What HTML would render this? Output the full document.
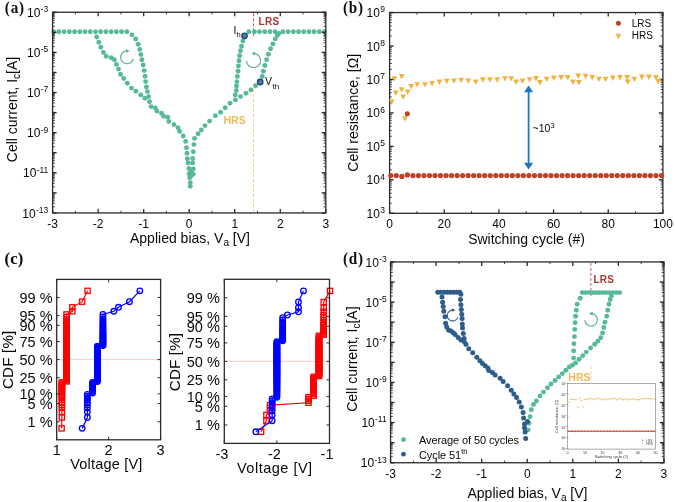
<!DOCTYPE html>
<html><head><meta charset="utf-8"><style>
html,body{margin:0;padding:0;background:#fff;}
svg{display:block;filter:blur(0.35px);}
</style></head><body>
<svg width="675" height="502" viewBox="0 0 675 502">
<rect width="675" height="502" fill="#ffffff"/>
<line x1="253.50" y1="13.25" x2="253.50" y2="36.00" stroke="#c0504d" stroke-width="0.9" stroke-dasharray="3,2"/>
<line x1="253.50" y1="84.00" x2="253.50" y2="211.95" stroke="#f3c88a" stroke-width="0.85" stroke-dasharray="3,2"/>
<circle cx="53.70" cy="31.70" r="2.45" fill="#57b998"/>
<circle cx="58.92" cy="31.70" r="2.45" fill="#57b998"/>
<circle cx="64.14" cy="31.70" r="2.45" fill="#57b998"/>
<circle cx="69.36" cy="31.70" r="2.45" fill="#57b998"/>
<circle cx="74.58" cy="31.70" r="2.45" fill="#57b998"/>
<circle cx="79.80" cy="31.70" r="2.45" fill="#57b998"/>
<circle cx="85.02" cy="31.70" r="2.45" fill="#57b998"/>
<circle cx="90.24" cy="31.70" r="2.45" fill="#57b998"/>
<circle cx="95.46" cy="31.70" r="2.45" fill="#57b998"/>
<circle cx="100.68" cy="31.70" r="2.45" fill="#57b998"/>
<circle cx="105.90" cy="31.70" r="2.45" fill="#57b998"/>
<circle cx="111.12" cy="31.70" r="2.45" fill="#57b998"/>
<circle cx="116.34" cy="31.70" r="2.45" fill="#57b998"/>
<circle cx="121.56" cy="31.70" r="2.45" fill="#57b998"/>
<circle cx="126.78" cy="31.70" r="2.45" fill="#57b998"/>
<circle cx="131.90" cy="34.90" r="2.45" fill="#57b998"/>
<circle cx="135.70" cy="39.00" r="2.45" fill="#57b998"/>
<circle cx="138.20" cy="44.20" r="2.45" fill="#57b998"/>
<circle cx="139.80" cy="49.40" r="2.45" fill="#57b998"/>
<circle cx="140.90" cy="54.60" r="2.45" fill="#57b998"/>
<circle cx="141.90" cy="59.80" r="2.45" fill="#57b998"/>
<circle cx="143.20" cy="65.00" r="2.45" fill="#57b998"/>
<circle cx="144.20" cy="70.60" r="2.45" fill="#57b998"/>
<circle cx="145.00" cy="76.20" r="2.45" fill="#57b998"/>
<circle cx="145.60" cy="81.60" r="2.45" fill="#57b998"/>
<circle cx="146.40" cy="87.00" r="2.45" fill="#57b998"/>
<circle cx="147.40" cy="91.60" r="2.45" fill="#57b998"/>
<circle cx="148.60" cy="96.60" r="2.45" fill="#57b998"/>
<circle cx="149.50" cy="101.80" r="2.45" fill="#57b998"/>
<circle cx="151.10" cy="106.60" r="2.45" fill="#57b998"/>
<circle cx="96.70" cy="37.00" r="2.45" fill="#57b998"/>
<circle cx="98.80" cy="42.20" r="2.45" fill="#57b998"/>
<circle cx="100.80" cy="47.30" r="2.45" fill="#57b998"/>
<circle cx="103.50" cy="52.50" r="2.45" fill="#57b998"/>
<circle cx="106.20" cy="56.20" r="2.45" fill="#57b998"/>
<circle cx="111.20" cy="57.70" r="2.45" fill="#57b998"/>
<circle cx="114.30" cy="59.80" r="2.45" fill="#57b998"/>
<circle cx="116.40" cy="64.40" r="2.45" fill="#57b998"/>
<circle cx="118.50" cy="69.10" r="2.45" fill="#57b998"/>
<circle cx="120.50" cy="74.30" r="2.45" fill="#57b998"/>
<circle cx="123.70" cy="78.50" r="2.45" fill="#57b998"/>
<circle cx="127.30" cy="83.20" r="2.45" fill="#57b998"/>
<circle cx="131.40" cy="88.10" r="2.45" fill="#57b998"/>
<circle cx="135.80" cy="91.20" r="2.45" fill="#57b998"/>
<circle cx="140.70" cy="94.90" r="2.45" fill="#57b998"/>
<circle cx="144.90" cy="98.30" r="2.45" fill="#57b998"/>
<circle cx="155.30" cy="108.00" r="2.45" fill="#57b998"/>
<circle cx="156.90" cy="111.10" r="2.45" fill="#57b998"/>
<circle cx="161.50" cy="113.20" r="2.45" fill="#57b998"/>
<circle cx="163.60" cy="116.30" r="2.45" fill="#57b998"/>
<circle cx="167.70" cy="117.30" r="2.45" fill="#57b998"/>
<circle cx="168.80" cy="121.50" r="2.45" fill="#57b998"/>
<circle cx="174.00" cy="124.60" r="2.45" fill="#57b998"/>
<circle cx="178.00" cy="127.70" r="2.45" fill="#57b998"/>
<circle cx="179.60" cy="131.40" r="2.45" fill="#57b998"/>
<circle cx="183.20" cy="136.00" r="2.45" fill="#57b998"/>
<circle cx="185.60" cy="141.40" r="2.45" fill="#57b998"/>
<circle cx="186.50" cy="147.70" r="2.45" fill="#57b998"/>
<circle cx="187.00" cy="153.30" r="2.45" fill="#57b998"/>
<circle cx="187.30" cy="158.70" r="2.45" fill="#57b998"/>
<circle cx="188.20" cy="162.90" r="2.45" fill="#57b998"/>
<circle cx="188.90" cy="168.50" r="2.45" fill="#57b998"/>
<circle cx="189.10" cy="173.70" r="2.45" fill="#57b998"/>
<circle cx="189.70" cy="177.80" r="2.45" fill="#57b998"/>
<circle cx="190.30" cy="182.60" r="2.45" fill="#57b998"/>
<circle cx="190.30" cy="186.20" r="2.45" fill="#57b998"/>
<circle cx="190.90" cy="176.00" r="2.45" fill="#57b998"/>
<circle cx="191.50" cy="171.30" r="2.45" fill="#57b998"/>
<circle cx="193.30" cy="174.30" r="2.45" fill="#57b998"/>
<circle cx="193.30" cy="168.90" r="2.45" fill="#57b998"/>
<circle cx="192.70" cy="162.90" r="2.45" fill="#57b998"/>
<circle cx="192.70" cy="158.50" r="2.45" fill="#57b998"/>
<circle cx="193.30" cy="151.80" r="2.45" fill="#57b998"/>
<circle cx="193.90" cy="144.60" r="2.45" fill="#57b998"/>
<circle cx="194.50" cy="138.40" r="2.45" fill="#57b998"/>
<circle cx="198.10" cy="133.80" r="2.45" fill="#57b998"/>
<circle cx="201.30" cy="130.00" r="2.45" fill="#57b998"/>
<circle cx="205.00" cy="125.60" r="2.45" fill="#57b998"/>
<circle cx="209.60" cy="121.10" r="2.45" fill="#57b998"/>
<circle cx="215.40" cy="115.70" r="2.45" fill="#57b998"/>
<circle cx="220.60" cy="112.20" r="2.45" fill="#57b998"/>
<circle cx="225.20" cy="107.80" r="2.45" fill="#57b998"/>
<circle cx="230.00" cy="103.30" r="2.45" fill="#57b998"/>
<circle cx="235.40" cy="99.90" r="2.45" fill="#57b998"/>
<circle cx="240.50" cy="96.60" r="2.45" fill="#57b998"/>
<circle cx="246.00" cy="93.30" r="2.45" fill="#57b998"/>
<circle cx="250.90" cy="89.90" r="2.45" fill="#57b998"/>
<circle cx="255.60" cy="85.70" r="2.45" fill="#57b998"/>
<circle cx="242.90" cy="41.10" r="2.45" fill="#57b998"/>
<circle cx="241.50" cy="46.30" r="2.45" fill="#57b998"/>
<circle cx="240.50" cy="50.80" r="2.45" fill="#57b998"/>
<circle cx="239.60" cy="55.80" r="2.45" fill="#57b998"/>
<circle cx="239.00" cy="60.80" r="2.45" fill="#57b998"/>
<circle cx="238.40" cy="66.00" r="2.45" fill="#57b998"/>
<circle cx="238.00" cy="71.20" r="2.45" fill="#57b998"/>
<circle cx="237.40" cy="76.40" r="2.45" fill="#57b998"/>
<circle cx="236.90" cy="81.60" r="2.45" fill="#57b998"/>
<circle cx="236.50" cy="86.00" r="2.45" fill="#57b998"/>
<circle cx="236.30" cy="90.50" r="2.45" fill="#57b998"/>
<circle cx="235.20" cy="95.00" r="2.45" fill="#57b998"/>
<circle cx="262.20" cy="76.40" r="2.45" fill="#57b998"/>
<circle cx="263.40" cy="71.20" r="2.45" fill="#57b998"/>
<circle cx="264.90" cy="65.50" r="2.45" fill="#57b998"/>
<circle cx="266.60" cy="59.80" r="2.45" fill="#57b998"/>
<circle cx="268.40" cy="54.20" r="2.45" fill="#57b998"/>
<circle cx="270.60" cy="48.70" r="2.45" fill="#57b998"/>
<circle cx="272.90" cy="43.90" r="2.45" fill="#57b998"/>
<circle cx="275.30" cy="38.90" r="2.45" fill="#57b998"/>
<circle cx="277.40" cy="35.30" r="2.45" fill="#57b998"/>
<circle cx="248.80" cy="31.70" r="2.45" fill="#57b998"/>
<circle cx="254.40" cy="31.70" r="2.45" fill="#57b998"/>
<circle cx="259.50" cy="31.70" r="2.45" fill="#57b998"/>
<circle cx="264.70" cy="31.70" r="2.45" fill="#57b998"/>
<circle cx="269.90" cy="31.70" r="2.45" fill="#57b998"/>
<circle cx="275.10" cy="31.70" r="2.45" fill="#57b998"/>
<circle cx="283.00" cy="31.70" r="2.45" fill="#57b998"/>
<circle cx="288.20" cy="31.70" r="2.45" fill="#57b998"/>
<circle cx="293.40" cy="31.70" r="2.45" fill="#57b998"/>
<circle cx="298.50" cy="31.70" r="2.45" fill="#57b998"/>
<circle cx="303.70" cy="31.70" r="2.45" fill="#57b998"/>
<circle cx="308.90" cy="31.70" r="2.45" fill="#57b998"/>
<circle cx="314.10" cy="31.70" r="2.45" fill="#57b998"/>
<circle cx="319.30" cy="31.70" r="2.45" fill="#57b998"/>
<circle cx="324.50" cy="31.70" r="2.45" fill="#57b998"/>
<circle cx="278.80" cy="33.40" r="2.45" fill="#57b998"/>
<circle cx="244.50" cy="35.80" r="2.7" fill="#5c76a6" stroke="#1b4a70" stroke-width="1.4"/>
<circle cx="260.20" cy="82.00" r="2.7" fill="#5c76a6" stroke="#1b4a70" stroke-width="1.4"/>
<path d="M133.36,58.63 L133.17,59.33 L132.90,60.00 L132.56,60.64 L132.14,61.24 L131.66,61.79 L131.13,62.27 L130.54,62.70 L129.91,63.05 L129.24,63.33 L128.54,63.54 L127.82,63.66 L127.10,63.70 L126.38,63.66 L125.66,63.54 L124.96,63.33 L124.29,63.05 L123.66,62.70 L123.07,62.27 L122.54,61.79 L122.06,61.24 L121.64,60.64 L121.30,60.00 L121.03,59.33 L120.84,58.63 L120.73,57.91 L120.70,57.19 L120.75,56.46 L120.89,55.75 L121.11,55.06 L121.40,54.39 L121.76,53.77 L122.20,53.19 L122.69,52.66 L123.25,52.19 L123.85,51.79 L124.50,51.45 L125.18,51.20 L125.88,51.02 L126.60,50.92 L127.32,50.90" fill="none" stroke="#55ad90" stroke-width="1.15"/>
<path d="M129.66,50.99 L125.96,52.68 L126.09,49.04 Z" fill="#55ad90"/>
<path d="M246.51,60.87 L246.60,61.67 L246.78,62.46 L247.05,63.22 L247.41,63.95 L247.85,64.63 L248.36,65.25 L248.94,65.81 L249.59,66.30 L250.28,66.72 L251.02,67.05 L251.79,67.29 L252.59,67.44 L253.39,67.50 L254.20,67.46 L255.00,67.34 L255.78,67.12 L256.53,66.81 L257.24,66.42 L257.89,65.95 L258.49,65.41 L259.03,64.80 L259.48,64.13 L259.86,63.42 L260.16,62.66 L260.36,61.88 L260.48,61.08 L260.50,60.27 L260.42,59.47 L260.26,58.67 L260.00,57.91 L259.66,57.17 L259.23,56.48 L258.73,55.85 L258.16,55.28 L257.53,54.77 L256.84,54.35 L256.11,54.00 L255.34,53.75 L254.55,53.58 L253.74,53.50" fill="none" stroke="#55ad90" stroke-width="1.15"/>
<path d="M251.41,53.42 L255.11,51.73 L254.98,55.37 Z" fill="#55ad90"/>
<text x="258.60" y="25.30" font-size="10" text-anchor="start" fill="#a8382f" font-weight="bold" font-family='"Liberation Sans", sans-serif' letter-spacing="0.25">LRS</text>
<text x="223.50" y="123.80" font-size="10.5" text-anchor="start" fill="#f2b75c" font-weight="bold" font-family='"Liberation Sans", sans-serif' >HRS</text>
<text x="233.4" y="33.7" font-size="10.5" fill="#080808" font-family='"Liberation Sans", sans-serif'>I<tspan font-size="7.5" dx="0.3" dy="2.8">h</tspan></text>
<text x="265" y="85.3" font-size="10.5" fill="#080808" font-family='"Liberation Sans", sans-serif'>V<tspan font-size="8" dx="0.4" dy="3.3">th</tspan></text>
<rect x="52.60" y="12.25" width="273.20" height="200.70" fill="none" stroke="#2b2b2b" stroke-width="1.3"/>
<line x1="52.60" y1="212.95" x2="56.60" y2="212.95" stroke="#2b2b2b" stroke-width="1.4" />
<line x1="325.80" y1="212.95" x2="321.80" y2="212.95" stroke="#2b2b2b" stroke-width="1.4" />
<line x1="52.60" y1="206.91" x2="54.80" y2="206.91" stroke="#2b2b2b" stroke-width="0.9" />
<line x1="325.80" y1="206.91" x2="323.60" y2="206.91" stroke="#2b2b2b" stroke-width="0.9" />
<line x1="52.60" y1="203.37" x2="54.80" y2="203.37" stroke="#2b2b2b" stroke-width="0.9" />
<line x1="325.80" y1="203.37" x2="323.60" y2="203.37" stroke="#2b2b2b" stroke-width="0.9" />
<line x1="52.60" y1="200.87" x2="54.80" y2="200.87" stroke="#2b2b2b" stroke-width="0.9" />
<line x1="325.80" y1="200.87" x2="323.60" y2="200.87" stroke="#2b2b2b" stroke-width="0.9" />
<line x1="52.60" y1="198.92" x2="54.80" y2="198.92" stroke="#2b2b2b" stroke-width="0.9" />
<line x1="325.80" y1="198.92" x2="323.60" y2="198.92" stroke="#2b2b2b" stroke-width="0.9" />
<line x1="52.60" y1="197.33" x2="54.80" y2="197.33" stroke="#2b2b2b" stroke-width="0.9" />
<line x1="325.80" y1="197.33" x2="323.60" y2="197.33" stroke="#2b2b2b" stroke-width="0.9" />
<line x1="52.60" y1="195.99" x2="54.80" y2="195.99" stroke="#2b2b2b" stroke-width="0.9" />
<line x1="325.80" y1="195.99" x2="323.60" y2="195.99" stroke="#2b2b2b" stroke-width="0.9" />
<line x1="52.60" y1="194.82" x2="54.80" y2="194.82" stroke="#2b2b2b" stroke-width="0.9" />
<line x1="325.80" y1="194.82" x2="323.60" y2="194.82" stroke="#2b2b2b" stroke-width="0.9" />
<line x1="52.60" y1="193.80" x2="54.80" y2="193.80" stroke="#2b2b2b" stroke-width="0.9" />
<line x1="325.80" y1="193.80" x2="323.60" y2="193.80" stroke="#2b2b2b" stroke-width="0.9" />
<line x1="52.60" y1="192.88" x2="56.60" y2="192.88" stroke="#2b2b2b" stroke-width="1.4" />
<line x1="325.80" y1="192.88" x2="321.80" y2="192.88" stroke="#2b2b2b" stroke-width="1.4" />
<line x1="52.60" y1="186.84" x2="54.80" y2="186.84" stroke="#2b2b2b" stroke-width="0.9" />
<line x1="325.80" y1="186.84" x2="323.60" y2="186.84" stroke="#2b2b2b" stroke-width="0.9" />
<line x1="52.60" y1="183.30" x2="54.80" y2="183.30" stroke="#2b2b2b" stroke-width="0.9" />
<line x1="325.80" y1="183.30" x2="323.60" y2="183.30" stroke="#2b2b2b" stroke-width="0.9" />
<line x1="52.60" y1="180.80" x2="54.80" y2="180.80" stroke="#2b2b2b" stroke-width="0.9" />
<line x1="325.80" y1="180.80" x2="323.60" y2="180.80" stroke="#2b2b2b" stroke-width="0.9" />
<line x1="52.60" y1="178.85" x2="54.80" y2="178.85" stroke="#2b2b2b" stroke-width="0.9" />
<line x1="325.80" y1="178.85" x2="323.60" y2="178.85" stroke="#2b2b2b" stroke-width="0.9" />
<line x1="52.60" y1="177.26" x2="54.80" y2="177.26" stroke="#2b2b2b" stroke-width="0.9" />
<line x1="325.80" y1="177.26" x2="323.60" y2="177.26" stroke="#2b2b2b" stroke-width="0.9" />
<line x1="52.60" y1="175.92" x2="54.80" y2="175.92" stroke="#2b2b2b" stroke-width="0.9" />
<line x1="325.80" y1="175.92" x2="323.60" y2="175.92" stroke="#2b2b2b" stroke-width="0.9" />
<line x1="52.60" y1="174.75" x2="54.80" y2="174.75" stroke="#2b2b2b" stroke-width="0.9" />
<line x1="325.80" y1="174.75" x2="323.60" y2="174.75" stroke="#2b2b2b" stroke-width="0.9" />
<line x1="52.60" y1="173.73" x2="54.80" y2="173.73" stroke="#2b2b2b" stroke-width="0.9" />
<line x1="325.80" y1="173.73" x2="323.60" y2="173.73" stroke="#2b2b2b" stroke-width="0.9" />
<line x1="52.60" y1="172.81" x2="56.60" y2="172.81" stroke="#2b2b2b" stroke-width="1.4" />
<line x1="325.80" y1="172.81" x2="321.80" y2="172.81" stroke="#2b2b2b" stroke-width="1.4" />
<line x1="52.60" y1="166.77" x2="54.80" y2="166.77" stroke="#2b2b2b" stroke-width="0.9" />
<line x1="325.80" y1="166.77" x2="323.60" y2="166.77" stroke="#2b2b2b" stroke-width="0.9" />
<line x1="52.60" y1="163.23" x2="54.80" y2="163.23" stroke="#2b2b2b" stroke-width="0.9" />
<line x1="325.80" y1="163.23" x2="323.60" y2="163.23" stroke="#2b2b2b" stroke-width="0.9" />
<line x1="52.60" y1="160.73" x2="54.80" y2="160.73" stroke="#2b2b2b" stroke-width="0.9" />
<line x1="325.80" y1="160.73" x2="323.60" y2="160.73" stroke="#2b2b2b" stroke-width="0.9" />
<line x1="52.60" y1="158.78" x2="54.80" y2="158.78" stroke="#2b2b2b" stroke-width="0.9" />
<line x1="325.80" y1="158.78" x2="323.60" y2="158.78" stroke="#2b2b2b" stroke-width="0.9" />
<line x1="52.60" y1="157.19" x2="54.80" y2="157.19" stroke="#2b2b2b" stroke-width="0.9" />
<line x1="325.80" y1="157.19" x2="323.60" y2="157.19" stroke="#2b2b2b" stroke-width="0.9" />
<line x1="52.60" y1="155.85" x2="54.80" y2="155.85" stroke="#2b2b2b" stroke-width="0.9" />
<line x1="325.80" y1="155.85" x2="323.60" y2="155.85" stroke="#2b2b2b" stroke-width="0.9" />
<line x1="52.60" y1="154.68" x2="54.80" y2="154.68" stroke="#2b2b2b" stroke-width="0.9" />
<line x1="325.80" y1="154.68" x2="323.60" y2="154.68" stroke="#2b2b2b" stroke-width="0.9" />
<line x1="52.60" y1="153.66" x2="54.80" y2="153.66" stroke="#2b2b2b" stroke-width="0.9" />
<line x1="325.80" y1="153.66" x2="323.60" y2="153.66" stroke="#2b2b2b" stroke-width="0.9" />
<line x1="52.60" y1="152.74" x2="56.60" y2="152.74" stroke="#2b2b2b" stroke-width="1.4" />
<line x1="325.80" y1="152.74" x2="321.80" y2="152.74" stroke="#2b2b2b" stroke-width="1.4" />
<line x1="52.60" y1="146.70" x2="54.80" y2="146.70" stroke="#2b2b2b" stroke-width="0.9" />
<line x1="325.80" y1="146.70" x2="323.60" y2="146.70" stroke="#2b2b2b" stroke-width="0.9" />
<line x1="52.60" y1="143.16" x2="54.80" y2="143.16" stroke="#2b2b2b" stroke-width="0.9" />
<line x1="325.80" y1="143.16" x2="323.60" y2="143.16" stroke="#2b2b2b" stroke-width="0.9" />
<line x1="52.60" y1="140.66" x2="54.80" y2="140.66" stroke="#2b2b2b" stroke-width="0.9" />
<line x1="325.80" y1="140.66" x2="323.60" y2="140.66" stroke="#2b2b2b" stroke-width="0.9" />
<line x1="52.60" y1="138.71" x2="54.80" y2="138.71" stroke="#2b2b2b" stroke-width="0.9" />
<line x1="325.80" y1="138.71" x2="323.60" y2="138.71" stroke="#2b2b2b" stroke-width="0.9" />
<line x1="52.60" y1="137.12" x2="54.80" y2="137.12" stroke="#2b2b2b" stroke-width="0.9" />
<line x1="325.80" y1="137.12" x2="323.60" y2="137.12" stroke="#2b2b2b" stroke-width="0.9" />
<line x1="52.60" y1="135.78" x2="54.80" y2="135.78" stroke="#2b2b2b" stroke-width="0.9" />
<line x1="325.80" y1="135.78" x2="323.60" y2="135.78" stroke="#2b2b2b" stroke-width="0.9" />
<line x1="52.60" y1="134.61" x2="54.80" y2="134.61" stroke="#2b2b2b" stroke-width="0.9" />
<line x1="325.80" y1="134.61" x2="323.60" y2="134.61" stroke="#2b2b2b" stroke-width="0.9" />
<line x1="52.60" y1="133.59" x2="54.80" y2="133.59" stroke="#2b2b2b" stroke-width="0.9" />
<line x1="325.80" y1="133.59" x2="323.60" y2="133.59" stroke="#2b2b2b" stroke-width="0.9" />
<line x1="52.60" y1="132.67" x2="56.60" y2="132.67" stroke="#2b2b2b" stroke-width="1.4" />
<line x1="325.80" y1="132.67" x2="321.80" y2="132.67" stroke="#2b2b2b" stroke-width="1.4" />
<line x1="52.60" y1="126.63" x2="54.80" y2="126.63" stroke="#2b2b2b" stroke-width="0.9" />
<line x1="325.80" y1="126.63" x2="323.60" y2="126.63" stroke="#2b2b2b" stroke-width="0.9" />
<line x1="52.60" y1="123.09" x2="54.80" y2="123.09" stroke="#2b2b2b" stroke-width="0.9" />
<line x1="325.80" y1="123.09" x2="323.60" y2="123.09" stroke="#2b2b2b" stroke-width="0.9" />
<line x1="52.60" y1="120.59" x2="54.80" y2="120.59" stroke="#2b2b2b" stroke-width="0.9" />
<line x1="325.80" y1="120.59" x2="323.60" y2="120.59" stroke="#2b2b2b" stroke-width="0.9" />
<line x1="52.60" y1="118.64" x2="54.80" y2="118.64" stroke="#2b2b2b" stroke-width="0.9" />
<line x1="325.80" y1="118.64" x2="323.60" y2="118.64" stroke="#2b2b2b" stroke-width="0.9" />
<line x1="52.60" y1="117.05" x2="54.80" y2="117.05" stroke="#2b2b2b" stroke-width="0.9" />
<line x1="325.80" y1="117.05" x2="323.60" y2="117.05" stroke="#2b2b2b" stroke-width="0.9" />
<line x1="52.60" y1="115.71" x2="54.80" y2="115.71" stroke="#2b2b2b" stroke-width="0.9" />
<line x1="325.80" y1="115.71" x2="323.60" y2="115.71" stroke="#2b2b2b" stroke-width="0.9" />
<line x1="52.60" y1="114.54" x2="54.80" y2="114.54" stroke="#2b2b2b" stroke-width="0.9" />
<line x1="325.80" y1="114.54" x2="323.60" y2="114.54" stroke="#2b2b2b" stroke-width="0.9" />
<line x1="52.60" y1="113.52" x2="54.80" y2="113.52" stroke="#2b2b2b" stroke-width="0.9" />
<line x1="325.80" y1="113.52" x2="323.60" y2="113.52" stroke="#2b2b2b" stroke-width="0.9" />
<line x1="52.60" y1="112.60" x2="56.60" y2="112.60" stroke="#2b2b2b" stroke-width="1.4" />
<line x1="325.80" y1="112.60" x2="321.80" y2="112.60" stroke="#2b2b2b" stroke-width="1.4" />
<line x1="52.60" y1="106.56" x2="54.80" y2="106.56" stroke="#2b2b2b" stroke-width="0.9" />
<line x1="325.80" y1="106.56" x2="323.60" y2="106.56" stroke="#2b2b2b" stroke-width="0.9" />
<line x1="52.60" y1="103.02" x2="54.80" y2="103.02" stroke="#2b2b2b" stroke-width="0.9" />
<line x1="325.80" y1="103.02" x2="323.60" y2="103.02" stroke="#2b2b2b" stroke-width="0.9" />
<line x1="52.60" y1="100.52" x2="54.80" y2="100.52" stroke="#2b2b2b" stroke-width="0.9" />
<line x1="325.80" y1="100.52" x2="323.60" y2="100.52" stroke="#2b2b2b" stroke-width="0.9" />
<line x1="52.60" y1="98.57" x2="54.80" y2="98.57" stroke="#2b2b2b" stroke-width="0.9" />
<line x1="325.80" y1="98.57" x2="323.60" y2="98.57" stroke="#2b2b2b" stroke-width="0.9" />
<line x1="52.60" y1="96.98" x2="54.80" y2="96.98" stroke="#2b2b2b" stroke-width="0.9" />
<line x1="325.80" y1="96.98" x2="323.60" y2="96.98" stroke="#2b2b2b" stroke-width="0.9" />
<line x1="52.60" y1="95.64" x2="54.80" y2="95.64" stroke="#2b2b2b" stroke-width="0.9" />
<line x1="325.80" y1="95.64" x2="323.60" y2="95.64" stroke="#2b2b2b" stroke-width="0.9" />
<line x1="52.60" y1="94.47" x2="54.80" y2="94.47" stroke="#2b2b2b" stroke-width="0.9" />
<line x1="325.80" y1="94.47" x2="323.60" y2="94.47" stroke="#2b2b2b" stroke-width="0.9" />
<line x1="52.60" y1="93.45" x2="54.80" y2="93.45" stroke="#2b2b2b" stroke-width="0.9" />
<line x1="325.80" y1="93.45" x2="323.60" y2="93.45" stroke="#2b2b2b" stroke-width="0.9" />
<line x1="52.60" y1="92.53" x2="56.60" y2="92.53" stroke="#2b2b2b" stroke-width="1.4" />
<line x1="325.80" y1="92.53" x2="321.80" y2="92.53" stroke="#2b2b2b" stroke-width="1.4" />
<line x1="52.60" y1="86.49" x2="54.80" y2="86.49" stroke="#2b2b2b" stroke-width="0.9" />
<line x1="325.80" y1="86.49" x2="323.60" y2="86.49" stroke="#2b2b2b" stroke-width="0.9" />
<line x1="52.60" y1="82.95" x2="54.80" y2="82.95" stroke="#2b2b2b" stroke-width="0.9" />
<line x1="325.80" y1="82.95" x2="323.60" y2="82.95" stroke="#2b2b2b" stroke-width="0.9" />
<line x1="52.60" y1="80.45" x2="54.80" y2="80.45" stroke="#2b2b2b" stroke-width="0.9" />
<line x1="325.80" y1="80.45" x2="323.60" y2="80.45" stroke="#2b2b2b" stroke-width="0.9" />
<line x1="52.60" y1="78.50" x2="54.80" y2="78.50" stroke="#2b2b2b" stroke-width="0.9" />
<line x1="325.80" y1="78.50" x2="323.60" y2="78.50" stroke="#2b2b2b" stroke-width="0.9" />
<line x1="52.60" y1="76.91" x2="54.80" y2="76.91" stroke="#2b2b2b" stroke-width="0.9" />
<line x1="325.80" y1="76.91" x2="323.60" y2="76.91" stroke="#2b2b2b" stroke-width="0.9" />
<line x1="52.60" y1="75.57" x2="54.80" y2="75.57" stroke="#2b2b2b" stroke-width="0.9" />
<line x1="325.80" y1="75.57" x2="323.60" y2="75.57" stroke="#2b2b2b" stroke-width="0.9" />
<line x1="52.60" y1="74.40" x2="54.80" y2="74.40" stroke="#2b2b2b" stroke-width="0.9" />
<line x1="325.80" y1="74.40" x2="323.60" y2="74.40" stroke="#2b2b2b" stroke-width="0.9" />
<line x1="52.60" y1="73.38" x2="54.80" y2="73.38" stroke="#2b2b2b" stroke-width="0.9" />
<line x1="325.80" y1="73.38" x2="323.60" y2="73.38" stroke="#2b2b2b" stroke-width="0.9" />
<line x1="52.60" y1="72.46" x2="56.60" y2="72.46" stroke="#2b2b2b" stroke-width="1.4" />
<line x1="325.80" y1="72.46" x2="321.80" y2="72.46" stroke="#2b2b2b" stroke-width="1.4" />
<line x1="52.60" y1="66.42" x2="54.80" y2="66.42" stroke="#2b2b2b" stroke-width="0.9" />
<line x1="325.80" y1="66.42" x2="323.60" y2="66.42" stroke="#2b2b2b" stroke-width="0.9" />
<line x1="52.60" y1="62.88" x2="54.80" y2="62.88" stroke="#2b2b2b" stroke-width="0.9" />
<line x1="325.80" y1="62.88" x2="323.60" y2="62.88" stroke="#2b2b2b" stroke-width="0.9" />
<line x1="52.60" y1="60.38" x2="54.80" y2="60.38" stroke="#2b2b2b" stroke-width="0.9" />
<line x1="325.80" y1="60.38" x2="323.60" y2="60.38" stroke="#2b2b2b" stroke-width="0.9" />
<line x1="52.60" y1="58.43" x2="54.80" y2="58.43" stroke="#2b2b2b" stroke-width="0.9" />
<line x1="325.80" y1="58.43" x2="323.60" y2="58.43" stroke="#2b2b2b" stroke-width="0.9" />
<line x1="52.60" y1="56.84" x2="54.80" y2="56.84" stroke="#2b2b2b" stroke-width="0.9" />
<line x1="325.80" y1="56.84" x2="323.60" y2="56.84" stroke="#2b2b2b" stroke-width="0.9" />
<line x1="52.60" y1="55.50" x2="54.80" y2="55.50" stroke="#2b2b2b" stroke-width="0.9" />
<line x1="325.80" y1="55.50" x2="323.60" y2="55.50" stroke="#2b2b2b" stroke-width="0.9" />
<line x1="52.60" y1="54.33" x2="54.80" y2="54.33" stroke="#2b2b2b" stroke-width="0.9" />
<line x1="325.80" y1="54.33" x2="323.60" y2="54.33" stroke="#2b2b2b" stroke-width="0.9" />
<line x1="52.60" y1="53.31" x2="54.80" y2="53.31" stroke="#2b2b2b" stroke-width="0.9" />
<line x1="325.80" y1="53.31" x2="323.60" y2="53.31" stroke="#2b2b2b" stroke-width="0.9" />
<line x1="52.60" y1="52.39" x2="56.60" y2="52.39" stroke="#2b2b2b" stroke-width="1.4" />
<line x1="325.80" y1="52.39" x2="321.80" y2="52.39" stroke="#2b2b2b" stroke-width="1.4" />
<line x1="52.60" y1="46.35" x2="54.80" y2="46.35" stroke="#2b2b2b" stroke-width="0.9" />
<line x1="325.80" y1="46.35" x2="323.60" y2="46.35" stroke="#2b2b2b" stroke-width="0.9" />
<line x1="52.60" y1="42.81" x2="54.80" y2="42.81" stroke="#2b2b2b" stroke-width="0.9" />
<line x1="325.80" y1="42.81" x2="323.60" y2="42.81" stroke="#2b2b2b" stroke-width="0.9" />
<line x1="52.60" y1="40.31" x2="54.80" y2="40.31" stroke="#2b2b2b" stroke-width="0.9" />
<line x1="325.80" y1="40.31" x2="323.60" y2="40.31" stroke="#2b2b2b" stroke-width="0.9" />
<line x1="52.60" y1="38.36" x2="54.80" y2="38.36" stroke="#2b2b2b" stroke-width="0.9" />
<line x1="325.80" y1="38.36" x2="323.60" y2="38.36" stroke="#2b2b2b" stroke-width="0.9" />
<line x1="52.60" y1="36.77" x2="54.80" y2="36.77" stroke="#2b2b2b" stroke-width="0.9" />
<line x1="325.80" y1="36.77" x2="323.60" y2="36.77" stroke="#2b2b2b" stroke-width="0.9" />
<line x1="52.60" y1="35.43" x2="54.80" y2="35.43" stroke="#2b2b2b" stroke-width="0.9" />
<line x1="325.80" y1="35.43" x2="323.60" y2="35.43" stroke="#2b2b2b" stroke-width="0.9" />
<line x1="52.60" y1="34.26" x2="54.80" y2="34.26" stroke="#2b2b2b" stroke-width="0.9" />
<line x1="325.80" y1="34.26" x2="323.60" y2="34.26" stroke="#2b2b2b" stroke-width="0.9" />
<line x1="52.60" y1="33.24" x2="54.80" y2="33.24" stroke="#2b2b2b" stroke-width="0.9" />
<line x1="325.80" y1="33.24" x2="323.60" y2="33.24" stroke="#2b2b2b" stroke-width="0.9" />
<line x1="52.60" y1="32.32" x2="56.60" y2="32.32" stroke="#2b2b2b" stroke-width="1.4" />
<line x1="325.80" y1="32.32" x2="321.80" y2="32.32" stroke="#2b2b2b" stroke-width="1.4" />
<line x1="52.60" y1="26.28" x2="54.80" y2="26.28" stroke="#2b2b2b" stroke-width="0.9" />
<line x1="325.80" y1="26.28" x2="323.60" y2="26.28" stroke="#2b2b2b" stroke-width="0.9" />
<line x1="52.60" y1="22.74" x2="54.80" y2="22.74" stroke="#2b2b2b" stroke-width="0.9" />
<line x1="325.80" y1="22.74" x2="323.60" y2="22.74" stroke="#2b2b2b" stroke-width="0.9" />
<line x1="52.60" y1="20.24" x2="54.80" y2="20.24" stroke="#2b2b2b" stroke-width="0.9" />
<line x1="325.80" y1="20.24" x2="323.60" y2="20.24" stroke="#2b2b2b" stroke-width="0.9" />
<line x1="52.60" y1="18.29" x2="54.80" y2="18.29" stroke="#2b2b2b" stroke-width="0.9" />
<line x1="325.80" y1="18.29" x2="323.60" y2="18.29" stroke="#2b2b2b" stroke-width="0.9" />
<line x1="52.60" y1="16.70" x2="54.80" y2="16.70" stroke="#2b2b2b" stroke-width="0.9" />
<line x1="325.80" y1="16.70" x2="323.60" y2="16.70" stroke="#2b2b2b" stroke-width="0.9" />
<line x1="52.60" y1="15.36" x2="54.80" y2="15.36" stroke="#2b2b2b" stroke-width="0.9" />
<line x1="325.80" y1="15.36" x2="323.60" y2="15.36" stroke="#2b2b2b" stroke-width="0.9" />
<line x1="52.60" y1="14.19" x2="54.80" y2="14.19" stroke="#2b2b2b" stroke-width="0.9" />
<line x1="325.80" y1="14.19" x2="323.60" y2="14.19" stroke="#2b2b2b" stroke-width="0.9" />
<line x1="52.60" y1="13.17" x2="54.80" y2="13.17" stroke="#2b2b2b" stroke-width="0.9" />
<line x1="325.80" y1="13.17" x2="323.60" y2="13.17" stroke="#2b2b2b" stroke-width="0.9" />
<line x1="52.60" y1="12.25" x2="56.60" y2="12.25" stroke="#2b2b2b" stroke-width="1.4" />
<line x1="325.80" y1="12.25" x2="321.80" y2="12.25" stroke="#2b2b2b" stroke-width="1.4" />
<line x1="52.60" y1="212.95" x2="52.60" y2="208.95" stroke="#2b2b2b" stroke-width="1.3" />
<line x1="52.60" y1="12.25" x2="52.60" y2="16.25" stroke="#2b2b2b" stroke-width="1.3" />
<line x1="98.13" y1="212.95" x2="98.13" y2="208.95" stroke="#2b2b2b" stroke-width="1.3" />
<line x1="98.13" y1="12.25" x2="98.13" y2="16.25" stroke="#2b2b2b" stroke-width="1.3" />
<line x1="143.67" y1="212.95" x2="143.67" y2="208.95" stroke="#2b2b2b" stroke-width="1.3" />
<line x1="143.67" y1="12.25" x2="143.67" y2="16.25" stroke="#2b2b2b" stroke-width="1.3" />
<line x1="189.20" y1="212.95" x2="189.20" y2="208.95" stroke="#2b2b2b" stroke-width="1.3" />
<line x1="189.20" y1="12.25" x2="189.20" y2="16.25" stroke="#2b2b2b" stroke-width="1.3" />
<line x1="234.73" y1="212.95" x2="234.73" y2="208.95" stroke="#2b2b2b" stroke-width="1.3" />
<line x1="234.73" y1="12.25" x2="234.73" y2="16.25" stroke="#2b2b2b" stroke-width="1.3" />
<line x1="280.27" y1="212.95" x2="280.27" y2="208.95" stroke="#2b2b2b" stroke-width="1.3" />
<line x1="280.27" y1="12.25" x2="280.27" y2="16.25" stroke="#2b2b2b" stroke-width="1.3" />
<line x1="325.80" y1="212.95" x2="325.80" y2="208.95" stroke="#2b2b2b" stroke-width="1.3" />
<line x1="325.80" y1="12.25" x2="325.80" y2="16.25" stroke="#2b2b2b" stroke-width="1.3" />
<line x1="75.37" y1="212.95" x2="75.37" y2="210.75" stroke="#2b2b2b" stroke-width="0.9" />
<line x1="75.37" y1="12.25" x2="75.37" y2="14.45" stroke="#2b2b2b" stroke-width="0.9" />
<line x1="120.90" y1="212.95" x2="120.90" y2="210.75" stroke="#2b2b2b" stroke-width="0.9" />
<line x1="120.90" y1="12.25" x2="120.90" y2="14.45" stroke="#2b2b2b" stroke-width="0.9" />
<line x1="166.43" y1="212.95" x2="166.43" y2="210.75" stroke="#2b2b2b" stroke-width="0.9" />
<line x1="166.43" y1="12.25" x2="166.43" y2="14.45" stroke="#2b2b2b" stroke-width="0.9" />
<line x1="211.97" y1="212.95" x2="211.97" y2="210.75" stroke="#2b2b2b" stroke-width="0.9" />
<line x1="211.97" y1="12.25" x2="211.97" y2="14.45" stroke="#2b2b2b" stroke-width="0.9" />
<line x1="257.50" y1="212.95" x2="257.50" y2="210.75" stroke="#2b2b2b" stroke-width="0.9" />
<line x1="257.50" y1="12.25" x2="257.50" y2="14.45" stroke="#2b2b2b" stroke-width="0.9" />
<line x1="303.03" y1="212.95" x2="303.03" y2="210.75" stroke="#2b2b2b" stroke-width="0.9" />
<line x1="303.03" y1="12.25" x2="303.03" y2="14.45" stroke="#2b2b2b" stroke-width="0.9" />
<text x="48.30" y="16.85" font-size="12" text-anchor="end" fill="#080808" font-family='"Liberation Sans", sans-serif'>10<tspan font-size="8.5" dx="0.3" dy="-4.7">-3</tspan></text>
<text x="48.30" y="56.99" font-size="12" text-anchor="end" fill="#080808" font-family='"Liberation Sans", sans-serif'>10<tspan font-size="8.5" dx="0.3" dy="-4.7">-5</tspan></text>
<text x="48.30" y="97.13" font-size="12" text-anchor="end" fill="#080808" font-family='"Liberation Sans", sans-serif'>10<tspan font-size="8.5" dx="0.3" dy="-4.7">-7</tspan></text>
<text x="48.30" y="137.27" font-size="12" text-anchor="end" fill="#080808" font-family='"Liberation Sans", sans-serif'>10<tspan font-size="8.5" dx="0.3" dy="-4.7">-9</tspan></text>
<text x="48.30" y="177.41" font-size="12" text-anchor="end" fill="#080808" font-family='"Liberation Sans", sans-serif'>10<tspan font-size="8.5" dx="0.3" dy="-4.7">-11</tspan></text>
<text x="48.30" y="217.55" font-size="12" text-anchor="end" fill="#080808" font-family='"Liberation Sans", sans-serif'>10<tspan font-size="8.5" dx="0.3" dy="-4.7">-13</tspan></text>
<text x="52.60" y="227.60" font-size="12" text-anchor="middle" fill="#080808" font-weight="normal" font-family='"Liberation Sans", sans-serif' >-3</text>
<text x="98.13" y="227.60" font-size="12" text-anchor="middle" fill="#080808" font-weight="normal" font-family='"Liberation Sans", sans-serif' >-2</text>
<text x="143.67" y="227.60" font-size="12" text-anchor="middle" fill="#080808" font-weight="normal" font-family='"Liberation Sans", sans-serif' >-1</text>
<text x="189.20" y="227.60" font-size="12" text-anchor="middle" fill="#080808" font-weight="normal" font-family='"Liberation Sans", sans-serif' >0</text>
<text x="234.73" y="227.60" font-size="12" text-anchor="middle" fill="#080808" font-weight="normal" font-family='"Liberation Sans", sans-serif' >1</text>
<text x="280.27" y="227.60" font-size="12" text-anchor="middle" fill="#080808" font-weight="normal" font-family='"Liberation Sans", sans-serif' >2</text>
<text x="325.80" y="227.60" font-size="12" text-anchor="middle" fill="#080808" font-weight="normal" font-family='"Liberation Sans", sans-serif' >3</text>
<text x="190" y="242.5" font-size="14" text-anchor="middle" fill="#080808" font-family='"Liberation Sans", sans-serif'>Applied bias, V<tspan font-size="10" dy="3">a</tspan><tspan dy="-3"> [V]</tspan></text>
<text transform="translate(16.8,109.5) rotate(-90)" font-size="14" text-anchor="middle" fill="#080808" font-family='"Liberation Sans", sans-serif'>Cell current, I<tspan font-size="10" dy="3">c</tspan><tspan dy="-3">[A]</tspan></text>
<text transform="translate(4.8,13.2) scale(1.0,1.08)" x="0" y="0" font-size="15.2" font-weight="bold" letter-spacing="0.8" fill="#111" font-family='"Liberation Serif", serif'>(a)</text>
<rect x="389.60" y="12.55" width="273.30" height="200.75" fill="none" stroke="#2b2b2b" stroke-width="1.3"/>
<line x1="389.60" y1="213.30" x2="393.60" y2="213.30" stroke="#2b2b2b" stroke-width="1.4" />
<line x1="662.90" y1="213.30" x2="658.90" y2="213.30" stroke="#2b2b2b" stroke-width="1.4" />
<line x1="389.60" y1="203.23" x2="391.80" y2="203.23" stroke="#2b2b2b" stroke-width="0.9" />
<line x1="662.90" y1="203.23" x2="660.70" y2="203.23" stroke="#2b2b2b" stroke-width="0.9" />
<line x1="389.60" y1="197.34" x2="391.80" y2="197.34" stroke="#2b2b2b" stroke-width="0.9" />
<line x1="662.90" y1="197.34" x2="660.70" y2="197.34" stroke="#2b2b2b" stroke-width="0.9" />
<line x1="389.60" y1="193.16" x2="391.80" y2="193.16" stroke="#2b2b2b" stroke-width="0.9" />
<line x1="662.90" y1="193.16" x2="660.70" y2="193.16" stroke="#2b2b2b" stroke-width="0.9" />
<line x1="389.60" y1="189.91" x2="391.80" y2="189.91" stroke="#2b2b2b" stroke-width="0.9" />
<line x1="662.90" y1="189.91" x2="660.70" y2="189.91" stroke="#2b2b2b" stroke-width="0.9" />
<line x1="389.60" y1="187.26" x2="391.80" y2="187.26" stroke="#2b2b2b" stroke-width="0.9" />
<line x1="662.90" y1="187.26" x2="660.70" y2="187.26" stroke="#2b2b2b" stroke-width="0.9" />
<line x1="389.60" y1="185.02" x2="391.80" y2="185.02" stroke="#2b2b2b" stroke-width="0.9" />
<line x1="662.90" y1="185.02" x2="660.70" y2="185.02" stroke="#2b2b2b" stroke-width="0.9" />
<line x1="389.60" y1="183.08" x2="391.80" y2="183.08" stroke="#2b2b2b" stroke-width="0.9" />
<line x1="662.90" y1="183.08" x2="660.70" y2="183.08" stroke="#2b2b2b" stroke-width="0.9" />
<line x1="389.60" y1="181.37" x2="391.80" y2="181.37" stroke="#2b2b2b" stroke-width="0.9" />
<line x1="662.90" y1="181.37" x2="660.70" y2="181.37" stroke="#2b2b2b" stroke-width="0.9" />
<line x1="389.60" y1="179.84" x2="393.60" y2="179.84" stroke="#2b2b2b" stroke-width="1.4" />
<line x1="662.90" y1="179.84" x2="658.90" y2="179.84" stroke="#2b2b2b" stroke-width="1.4" />
<line x1="389.60" y1="169.77" x2="391.80" y2="169.77" stroke="#2b2b2b" stroke-width="0.9" />
<line x1="662.90" y1="169.77" x2="660.70" y2="169.77" stroke="#2b2b2b" stroke-width="0.9" />
<line x1="389.60" y1="163.88" x2="391.80" y2="163.88" stroke="#2b2b2b" stroke-width="0.9" />
<line x1="662.90" y1="163.88" x2="660.70" y2="163.88" stroke="#2b2b2b" stroke-width="0.9" />
<line x1="389.60" y1="159.70" x2="391.80" y2="159.70" stroke="#2b2b2b" stroke-width="0.9" />
<line x1="662.90" y1="159.70" x2="660.70" y2="159.70" stroke="#2b2b2b" stroke-width="0.9" />
<line x1="389.60" y1="156.46" x2="391.80" y2="156.46" stroke="#2b2b2b" stroke-width="0.9" />
<line x1="662.90" y1="156.46" x2="660.70" y2="156.46" stroke="#2b2b2b" stroke-width="0.9" />
<line x1="389.60" y1="153.81" x2="391.80" y2="153.81" stroke="#2b2b2b" stroke-width="0.9" />
<line x1="662.90" y1="153.81" x2="660.70" y2="153.81" stroke="#2b2b2b" stroke-width="0.9" />
<line x1="389.60" y1="151.57" x2="391.80" y2="151.57" stroke="#2b2b2b" stroke-width="0.9" />
<line x1="662.90" y1="151.57" x2="660.70" y2="151.57" stroke="#2b2b2b" stroke-width="0.9" />
<line x1="389.60" y1="149.63" x2="391.80" y2="149.63" stroke="#2b2b2b" stroke-width="0.9" />
<line x1="662.90" y1="149.63" x2="660.70" y2="149.63" stroke="#2b2b2b" stroke-width="0.9" />
<line x1="389.60" y1="147.91" x2="391.80" y2="147.91" stroke="#2b2b2b" stroke-width="0.9" />
<line x1="662.90" y1="147.91" x2="660.70" y2="147.91" stroke="#2b2b2b" stroke-width="0.9" />
<line x1="389.60" y1="146.38" x2="393.60" y2="146.38" stroke="#2b2b2b" stroke-width="1.4" />
<line x1="662.90" y1="146.38" x2="658.90" y2="146.38" stroke="#2b2b2b" stroke-width="1.4" />
<line x1="389.60" y1="136.31" x2="391.80" y2="136.31" stroke="#2b2b2b" stroke-width="0.9" />
<line x1="662.90" y1="136.31" x2="660.70" y2="136.31" stroke="#2b2b2b" stroke-width="0.9" />
<line x1="389.60" y1="130.42" x2="391.80" y2="130.42" stroke="#2b2b2b" stroke-width="0.9" />
<line x1="662.90" y1="130.42" x2="660.70" y2="130.42" stroke="#2b2b2b" stroke-width="0.9" />
<line x1="389.60" y1="126.24" x2="391.80" y2="126.24" stroke="#2b2b2b" stroke-width="0.9" />
<line x1="662.90" y1="126.24" x2="660.70" y2="126.24" stroke="#2b2b2b" stroke-width="0.9" />
<line x1="389.60" y1="123.00" x2="391.80" y2="123.00" stroke="#2b2b2b" stroke-width="0.9" />
<line x1="662.90" y1="123.00" x2="660.70" y2="123.00" stroke="#2b2b2b" stroke-width="0.9" />
<line x1="389.60" y1="120.35" x2="391.80" y2="120.35" stroke="#2b2b2b" stroke-width="0.9" />
<line x1="662.90" y1="120.35" x2="660.70" y2="120.35" stroke="#2b2b2b" stroke-width="0.9" />
<line x1="389.60" y1="118.11" x2="391.80" y2="118.11" stroke="#2b2b2b" stroke-width="0.9" />
<line x1="662.90" y1="118.11" x2="660.70" y2="118.11" stroke="#2b2b2b" stroke-width="0.9" />
<line x1="389.60" y1="116.17" x2="391.80" y2="116.17" stroke="#2b2b2b" stroke-width="0.9" />
<line x1="662.90" y1="116.17" x2="660.70" y2="116.17" stroke="#2b2b2b" stroke-width="0.9" />
<line x1="389.60" y1="114.46" x2="391.80" y2="114.46" stroke="#2b2b2b" stroke-width="0.9" />
<line x1="662.90" y1="114.46" x2="660.70" y2="114.46" stroke="#2b2b2b" stroke-width="0.9" />
<line x1="389.60" y1="112.93" x2="393.60" y2="112.93" stroke="#2b2b2b" stroke-width="1.4" />
<line x1="662.90" y1="112.93" x2="658.90" y2="112.93" stroke="#2b2b2b" stroke-width="1.4" />
<line x1="389.60" y1="102.85" x2="391.80" y2="102.85" stroke="#2b2b2b" stroke-width="0.9" />
<line x1="662.90" y1="102.85" x2="660.70" y2="102.85" stroke="#2b2b2b" stroke-width="0.9" />
<line x1="389.60" y1="96.96" x2="391.80" y2="96.96" stroke="#2b2b2b" stroke-width="0.9" />
<line x1="662.90" y1="96.96" x2="660.70" y2="96.96" stroke="#2b2b2b" stroke-width="0.9" />
<line x1="389.60" y1="92.78" x2="391.80" y2="92.78" stroke="#2b2b2b" stroke-width="0.9" />
<line x1="662.90" y1="92.78" x2="660.70" y2="92.78" stroke="#2b2b2b" stroke-width="0.9" />
<line x1="389.60" y1="89.54" x2="391.80" y2="89.54" stroke="#2b2b2b" stroke-width="0.9" />
<line x1="662.90" y1="89.54" x2="660.70" y2="89.54" stroke="#2b2b2b" stroke-width="0.9" />
<line x1="389.60" y1="86.89" x2="391.80" y2="86.89" stroke="#2b2b2b" stroke-width="0.9" />
<line x1="662.90" y1="86.89" x2="660.70" y2="86.89" stroke="#2b2b2b" stroke-width="0.9" />
<line x1="389.60" y1="84.65" x2="391.80" y2="84.65" stroke="#2b2b2b" stroke-width="0.9" />
<line x1="662.90" y1="84.65" x2="660.70" y2="84.65" stroke="#2b2b2b" stroke-width="0.9" />
<line x1="389.60" y1="82.71" x2="391.80" y2="82.71" stroke="#2b2b2b" stroke-width="0.9" />
<line x1="662.90" y1="82.71" x2="660.70" y2="82.71" stroke="#2b2b2b" stroke-width="0.9" />
<line x1="389.60" y1="81.00" x2="391.80" y2="81.00" stroke="#2b2b2b" stroke-width="0.9" />
<line x1="662.90" y1="81.00" x2="660.70" y2="81.00" stroke="#2b2b2b" stroke-width="0.9" />
<line x1="389.60" y1="79.47" x2="393.60" y2="79.47" stroke="#2b2b2b" stroke-width="1.4" />
<line x1="662.90" y1="79.47" x2="658.90" y2="79.47" stroke="#2b2b2b" stroke-width="1.4" />
<line x1="389.60" y1="69.39" x2="391.80" y2="69.39" stroke="#2b2b2b" stroke-width="0.9" />
<line x1="662.90" y1="69.39" x2="660.70" y2="69.39" stroke="#2b2b2b" stroke-width="0.9" />
<line x1="389.60" y1="63.50" x2="391.80" y2="63.50" stroke="#2b2b2b" stroke-width="0.9" />
<line x1="662.90" y1="63.50" x2="660.70" y2="63.50" stroke="#2b2b2b" stroke-width="0.9" />
<line x1="389.60" y1="59.32" x2="391.80" y2="59.32" stroke="#2b2b2b" stroke-width="0.9" />
<line x1="662.90" y1="59.32" x2="660.70" y2="59.32" stroke="#2b2b2b" stroke-width="0.9" />
<line x1="389.60" y1="56.08" x2="391.80" y2="56.08" stroke="#2b2b2b" stroke-width="0.9" />
<line x1="662.90" y1="56.08" x2="660.70" y2="56.08" stroke="#2b2b2b" stroke-width="0.9" />
<line x1="389.60" y1="53.43" x2="391.80" y2="53.43" stroke="#2b2b2b" stroke-width="0.9" />
<line x1="662.90" y1="53.43" x2="660.70" y2="53.43" stroke="#2b2b2b" stroke-width="0.9" />
<line x1="389.60" y1="51.19" x2="391.80" y2="51.19" stroke="#2b2b2b" stroke-width="0.9" />
<line x1="662.90" y1="51.19" x2="660.70" y2="51.19" stroke="#2b2b2b" stroke-width="0.9" />
<line x1="389.60" y1="49.25" x2="391.80" y2="49.25" stroke="#2b2b2b" stroke-width="0.9" />
<line x1="662.90" y1="49.25" x2="660.70" y2="49.25" stroke="#2b2b2b" stroke-width="0.9" />
<line x1="389.60" y1="47.54" x2="391.80" y2="47.54" stroke="#2b2b2b" stroke-width="0.9" />
<line x1="662.90" y1="47.54" x2="660.70" y2="47.54" stroke="#2b2b2b" stroke-width="0.9" />
<line x1="389.60" y1="46.01" x2="393.60" y2="46.01" stroke="#2b2b2b" stroke-width="1.4" />
<line x1="662.90" y1="46.01" x2="658.90" y2="46.01" stroke="#2b2b2b" stroke-width="1.4" />
<line x1="389.60" y1="35.94" x2="391.80" y2="35.94" stroke="#2b2b2b" stroke-width="0.9" />
<line x1="662.90" y1="35.94" x2="660.70" y2="35.94" stroke="#2b2b2b" stroke-width="0.9" />
<line x1="389.60" y1="30.04" x2="391.80" y2="30.04" stroke="#2b2b2b" stroke-width="0.9" />
<line x1="662.90" y1="30.04" x2="660.70" y2="30.04" stroke="#2b2b2b" stroke-width="0.9" />
<line x1="389.60" y1="25.86" x2="391.80" y2="25.86" stroke="#2b2b2b" stroke-width="0.9" />
<line x1="662.90" y1="25.86" x2="660.70" y2="25.86" stroke="#2b2b2b" stroke-width="0.9" />
<line x1="389.60" y1="22.62" x2="391.80" y2="22.62" stroke="#2b2b2b" stroke-width="0.9" />
<line x1="662.90" y1="22.62" x2="660.70" y2="22.62" stroke="#2b2b2b" stroke-width="0.9" />
<line x1="389.60" y1="19.97" x2="391.80" y2="19.97" stroke="#2b2b2b" stroke-width="0.9" />
<line x1="662.90" y1="19.97" x2="660.70" y2="19.97" stroke="#2b2b2b" stroke-width="0.9" />
<line x1="389.60" y1="17.73" x2="391.80" y2="17.73" stroke="#2b2b2b" stroke-width="0.9" />
<line x1="662.90" y1="17.73" x2="660.70" y2="17.73" stroke="#2b2b2b" stroke-width="0.9" />
<line x1="389.60" y1="15.79" x2="391.80" y2="15.79" stroke="#2b2b2b" stroke-width="0.9" />
<line x1="662.90" y1="15.79" x2="660.70" y2="15.79" stroke="#2b2b2b" stroke-width="0.9" />
<line x1="389.60" y1="14.08" x2="391.80" y2="14.08" stroke="#2b2b2b" stroke-width="0.9" />
<line x1="662.90" y1="14.08" x2="660.70" y2="14.08" stroke="#2b2b2b" stroke-width="0.9" />
<line x1="389.60" y1="12.55" x2="393.60" y2="12.55" stroke="#2b2b2b" stroke-width="1.4" />
<line x1="662.90" y1="12.55" x2="658.90" y2="12.55" stroke="#2b2b2b" stroke-width="1.4" />
<line x1="389.60" y1="213.30" x2="389.60" y2="209.30" stroke="#2b2b2b" stroke-width="1.3" />
<line x1="389.60" y1="12.55" x2="389.60" y2="16.55" stroke="#2b2b2b" stroke-width="1.3" />
<line x1="444.26" y1="213.30" x2="444.26" y2="209.30" stroke="#2b2b2b" stroke-width="1.3" />
<line x1="444.26" y1="12.55" x2="444.26" y2="16.55" stroke="#2b2b2b" stroke-width="1.3" />
<line x1="498.92" y1="213.30" x2="498.92" y2="209.30" stroke="#2b2b2b" stroke-width="1.3" />
<line x1="498.92" y1="12.55" x2="498.92" y2="16.55" stroke="#2b2b2b" stroke-width="1.3" />
<line x1="553.58" y1="213.30" x2="553.58" y2="209.30" stroke="#2b2b2b" stroke-width="1.3" />
<line x1="553.58" y1="12.55" x2="553.58" y2="16.55" stroke="#2b2b2b" stroke-width="1.3" />
<line x1="608.24" y1="213.30" x2="608.24" y2="209.30" stroke="#2b2b2b" stroke-width="1.3" />
<line x1="608.24" y1="12.55" x2="608.24" y2="16.55" stroke="#2b2b2b" stroke-width="1.3" />
<line x1="662.90" y1="213.30" x2="662.90" y2="209.30" stroke="#2b2b2b" stroke-width="1.3" />
<line x1="662.90" y1="12.55" x2="662.90" y2="16.55" stroke="#2b2b2b" stroke-width="1.3" />
<line x1="416.93" y1="213.30" x2="416.93" y2="211.10" stroke="#2b2b2b" stroke-width="0.9" />
<line x1="416.93" y1="12.55" x2="416.93" y2="14.75" stroke="#2b2b2b" stroke-width="0.9" />
<line x1="471.59" y1="213.30" x2="471.59" y2="211.10" stroke="#2b2b2b" stroke-width="0.9" />
<line x1="471.59" y1="12.55" x2="471.59" y2="14.75" stroke="#2b2b2b" stroke-width="0.9" />
<line x1="526.25" y1="213.30" x2="526.25" y2="211.10" stroke="#2b2b2b" stroke-width="0.9" />
<line x1="526.25" y1="12.55" x2="526.25" y2="14.75" stroke="#2b2b2b" stroke-width="0.9" />
<line x1="580.91" y1="213.30" x2="580.91" y2="211.10" stroke="#2b2b2b" stroke-width="0.9" />
<line x1="580.91" y1="12.55" x2="580.91" y2="14.75" stroke="#2b2b2b" stroke-width="0.9" />
<line x1="635.57" y1="213.30" x2="635.57" y2="211.10" stroke="#2b2b2b" stroke-width="0.9" />
<line x1="635.57" y1="12.55" x2="635.57" y2="14.75" stroke="#2b2b2b" stroke-width="0.9" />
<circle cx="390.80" cy="175.60" r="2.6" fill="#bf4128"/>
<circle cx="396.32" cy="175.60" r="2.6" fill="#bf4128"/>
<circle cx="401.85" cy="176.40" r="2.6" fill="#bf4128"/>
<circle cx="407.37" cy="174.90" r="2.6" fill="#bf4128"/>
<circle cx="412.90" cy="175.60" r="2.6" fill="#bf4128"/>
<circle cx="418.42" cy="175.60" r="2.6" fill="#bf4128"/>
<circle cx="423.95" cy="175.60" r="2.6" fill="#bf4128"/>
<circle cx="429.47" cy="175.60" r="2.6" fill="#bf4128"/>
<circle cx="435.00" cy="175.60" r="2.6" fill="#bf4128"/>
<circle cx="440.52" cy="175.60" r="2.6" fill="#bf4128"/>
<circle cx="446.04" cy="175.60" r="2.6" fill="#bf4128"/>
<circle cx="451.57" cy="175.60" r="2.6" fill="#bf4128"/>
<circle cx="457.09" cy="175.60" r="2.6" fill="#bf4128"/>
<circle cx="462.62" cy="175.60" r="2.6" fill="#bf4128"/>
<circle cx="468.14" cy="175.60" r="2.6" fill="#bf4128"/>
<circle cx="473.67" cy="175.60" r="2.6" fill="#bf4128"/>
<circle cx="479.19" cy="175.60" r="2.6" fill="#bf4128"/>
<circle cx="484.72" cy="175.60" r="2.6" fill="#bf4128"/>
<circle cx="490.24" cy="175.60" r="2.6" fill="#bf4128"/>
<circle cx="495.77" cy="175.60" r="2.6" fill="#bf4128"/>
<circle cx="501.29" cy="175.60" r="2.6" fill="#bf4128"/>
<circle cx="506.81" cy="175.60" r="2.6" fill="#bf4128"/>
<circle cx="512.34" cy="175.60" r="2.6" fill="#bf4128"/>
<circle cx="517.86" cy="175.60" r="2.6" fill="#bf4128"/>
<circle cx="523.39" cy="175.60" r="2.6" fill="#bf4128"/>
<circle cx="528.91" cy="175.60" r="2.6" fill="#bf4128"/>
<circle cx="534.44" cy="175.60" r="2.6" fill="#bf4128"/>
<circle cx="539.96" cy="175.60" r="2.6" fill="#bf4128"/>
<circle cx="545.49" cy="175.60" r="2.6" fill="#bf4128"/>
<circle cx="551.01" cy="175.60" r="2.6" fill="#bf4128"/>
<circle cx="556.53" cy="175.60" r="2.6" fill="#bf4128"/>
<circle cx="562.06" cy="175.60" r="2.6" fill="#bf4128"/>
<circle cx="567.58" cy="175.60" r="2.6" fill="#bf4128"/>
<circle cx="573.11" cy="175.60" r="2.6" fill="#bf4128"/>
<circle cx="578.63" cy="175.60" r="2.6" fill="#bf4128"/>
<circle cx="584.16" cy="175.60" r="2.6" fill="#bf4128"/>
<circle cx="589.68" cy="175.60" r="2.6" fill="#bf4128"/>
<circle cx="595.21" cy="175.60" r="2.6" fill="#bf4128"/>
<circle cx="600.73" cy="175.60" r="2.6" fill="#bf4128"/>
<circle cx="606.26" cy="175.60" r="2.6" fill="#bf4128"/>
<circle cx="611.78" cy="175.60" r="2.6" fill="#bf4128"/>
<circle cx="617.30" cy="175.60" r="2.6" fill="#bf4128"/>
<circle cx="622.83" cy="175.60" r="2.6" fill="#bf4128"/>
<circle cx="628.35" cy="175.60" r="2.6" fill="#bf4128"/>
<circle cx="633.88" cy="175.60" r="2.6" fill="#bf4128"/>
<circle cx="639.40" cy="175.60" r="2.6" fill="#bf4128"/>
<circle cx="644.93" cy="175.60" r="2.6" fill="#bf4128"/>
<circle cx="650.45" cy="175.60" r="2.6" fill="#bf4128"/>
<circle cx="655.98" cy="175.60" r="2.6" fill="#bf4128"/>
<circle cx="661.50" cy="175.60" r="2.6" fill="#bf4128"/>
<path d="M388.85,99.48 L394.55,99.48 L391.70,104.89 Z" fill="#f3b03c"/>
<path d="M391.45,76.18 L397.15,76.18 L394.30,81.59 Z" fill="#f3b03c"/>
<path d="M392.85,90.58 L398.55,90.58 L395.70,95.99 Z" fill="#f3b03c"/>
<path d="M398.85,73.98 L404.55,73.98 L401.70,79.39 Z" fill="#f3b03c"/>
<path d="M398.85,87.28 L404.55,87.28 L401.70,92.69 Z" fill="#f3b03c"/>
<path d="M400.35,94.38 L406.05,94.38 L403.20,99.79 Z" fill="#f3b03c"/>
<path d="M404.85,89.48 L410.55,89.48 L407.70,94.89 Z" fill="#f3b03c"/>
<path d="M402.15,116.18 L407.85,116.18 L405.00,121.59 Z" fill="#f3b03c"/>
<path d="M408.35,83.98 L414.05,83.98 L411.20,89.39 Z" fill="#f3b03c"/>
<path d="M414.35,82.18 L420.05,82.18 L417.20,87.59 Z" fill="#f3b03c"/>
<path d="M422.15,82.18 L427.85,82.18 L425.00,87.59 Z" fill="#f3b03c"/>
<path d="M429.25,81.08 L434.95,81.08 L432.10,86.49 Z" fill="#f3b03c"/>
<path d="M436.55,79.48 L442.25,79.48 L439.40,84.89 Z" fill="#f3b03c"/>
<path d="M443.95,78.78 L449.65,78.78 L446.80,84.19 Z" fill="#f3b03c"/>
<path d="M451.05,78.38 L456.75,78.38 L453.90,83.79 Z" fill="#f3b03c"/>
<path d="M458.35,77.68 L464.05,77.68 L461.20,83.09 Z" fill="#f3b03c"/>
<path d="M465.45,78.38 L471.15,78.38 L468.30,83.79 Z" fill="#f3b03c"/>
<path d="M472.85,79.48 L478.55,79.48 L475.70,84.89 Z" fill="#f3b03c"/>
<path d="M479.95,77.28 L485.65,77.28 L482.80,82.69 Z" fill="#f3b03c"/>
<path d="M487.05,77.28 L492.75,77.28 L489.90,82.69 Z" fill="#f3b03c"/>
<path d="M494.35,77.28 L500.05,77.28 L497.20,82.69 Z" fill="#f3b03c"/>
<path d="M502.15,76.18 L507.85,76.18 L505.00,81.59 Z" fill="#f3b03c"/>
<path d="M508.35,76.18 L514.05,76.18 L511.20,81.59 Z" fill="#f3b03c"/>
<path d="M513.25,79.48 L518.95,79.48 L516.10,84.89 Z" fill="#f3b03c"/>
<path d="M519.65,78.58 L525.35,78.58 L522.50,83.99 Z" fill="#f3b03c"/>
<path d="M526.75,77.18 L532.45,77.18 L529.60,82.59 Z" fill="#f3b03c"/>
<path d="M533.15,76.08 L538.85,76.08 L536.00,81.49 Z" fill="#f3b03c"/>
<path d="M537.15,80.08 L542.85,80.08 L540.00,85.49 Z" fill="#f3b03c"/>
<path d="M543.85,76.68 L549.55,76.68 L546.70,82.09 Z" fill="#f3b03c"/>
<path d="M550.95,75.58 L556.65,75.58 L553.80,80.99 Z" fill="#f3b03c"/>
<path d="M558.25,74.98 L563.95,74.98 L561.10,80.39 Z" fill="#f3b03c"/>
<path d="M564.95,74.98 L570.65,74.98 L567.80,80.39 Z" fill="#f3b03c"/>
<path d="M570.05,79.58 L575.75,79.58 L572.90,84.99 Z" fill="#f3b03c"/>
<path d="M575.35,73.38 L581.05,73.38 L578.20,78.79 Z" fill="#f3b03c"/>
<path d="M576.05,80.08 L581.75,80.08 L578.90,85.49 Z" fill="#f3b03c"/>
<path d="M582.75,73.78 L588.45,73.78 L585.60,79.19 Z" fill="#f3b03c"/>
<path d="M589.35,74.98 L595.05,74.98 L592.20,80.39 Z" fill="#f3b03c"/>
<path d="M596.05,76.68 L601.75,76.68 L598.90,82.09 Z" fill="#f3b03c"/>
<path d="M602.75,76.68 L608.45,76.68 L605.60,82.09 Z" fill="#f3b03c"/>
<path d="M610.05,75.58 L615.75,75.58 L612.90,80.99 Z" fill="#f3b03c"/>
<path d="M617.15,74.98 L622.85,74.98 L620.00,80.39 Z" fill="#f3b03c"/>
<path d="M624.25,74.98 L629.95,74.98 L627.10,80.39 Z" fill="#f3b03c"/>
<path d="M624.95,79.58 L630.65,79.58 L627.80,84.99 Z" fill="#f3b03c"/>
<path d="M631.55,76.68 L637.25,76.68 L634.40,82.09 Z" fill="#f3b03c"/>
<path d="M638.95,74.48 L644.65,74.48 L641.80,79.89 Z" fill="#f3b03c"/>
<path d="M646.05,74.48 L651.75,74.48 L648.90,79.89 Z" fill="#f3b03c"/>
<path d="M653.15,74.98 L658.85,74.98 L656.00,80.39 Z" fill="#f3b03c"/>
<path d="M655.35,78.98 L661.05,78.98 L658.20,84.39 Z" fill="#f3b03c"/>
<circle cx="407.30" cy="113.80" r="2.55" fill="#bf4128"/>
<line x1="528.60" y1="90.00" x2="528.60" y2="164.00" stroke="#1f78bd" stroke-width="1.8" />
<path d="M528.6,85.6 L533.2,92.2 L524.0,92.2 Z" fill="#1f78bd"/>
<path d="M528.6,169.6 L533.2,162.8 L524.0,162.8 Z" fill="#1f78bd"/>
<text x="532.6" y="132.4" font-size="10.5" fill="#080808" font-family='"Liberation Sans", sans-serif'>~10<tspan font-size="7.5" dy="-4.5">3</tspan></text>
<circle cx="618.40" cy="23.30" r="2.5" fill="#bf4128"/>
<path d="M615.50,33.73 L621.30,33.73 L618.40,39.24 Z" fill="#f3b03c"/>
<text x="631.80" y="26.90" font-size="10" text-anchor="start" fill="#080808" font-weight="normal" font-family='"Liberation Sans", sans-serif' >LRS</text>
<text x="631.80" y="38.70" font-size="10" text-anchor="start" fill="#080808" font-weight="normal" font-family='"Liberation Sans", sans-serif' >HRS</text>
<text x="384.90" y="217.80" font-size="12" text-anchor="end" fill="#080808" font-family='"Liberation Sans", sans-serif'>10<tspan font-size="8.5" dx="0.3" dy="-4.7">3</tspan></text>
<text x="384.90" y="184.34" font-size="12" text-anchor="end" fill="#080808" font-family='"Liberation Sans", sans-serif'>10<tspan font-size="8.5" dx="0.3" dy="-4.7">4</tspan></text>
<text x="384.90" y="150.88" font-size="12" text-anchor="end" fill="#080808" font-family='"Liberation Sans", sans-serif'>10<tspan font-size="8.5" dx="0.3" dy="-4.7">5</tspan></text>
<text x="384.90" y="117.43" font-size="12" text-anchor="end" fill="#080808" font-family='"Liberation Sans", sans-serif'>10<tspan font-size="8.5" dx="0.3" dy="-4.7">6</tspan></text>
<text x="384.90" y="83.97" font-size="12" text-anchor="end" fill="#080808" font-family='"Liberation Sans", sans-serif'>10<tspan font-size="8.5" dx="0.3" dy="-4.7">7</tspan></text>
<text x="384.90" y="50.51" font-size="12" text-anchor="end" fill="#080808" font-family='"Liberation Sans", sans-serif'>10<tspan font-size="8.5" dx="0.3" dy="-4.7">8</tspan></text>
<text x="384.90" y="17.05" font-size="12" text-anchor="end" fill="#080808" font-family='"Liberation Sans", sans-serif'>10<tspan font-size="8.5" dx="0.3" dy="-4.7">9</tspan></text>
<text x="389.60" y="228.00" font-size="12" text-anchor="middle" fill="#080808" font-weight="normal" font-family='"Liberation Sans", sans-serif' >0</text>
<text x="444.26" y="228.00" font-size="12" text-anchor="middle" fill="#080808" font-weight="normal" font-family='"Liberation Sans", sans-serif' >20</text>
<text x="498.92" y="228.00" font-size="12" text-anchor="middle" fill="#080808" font-weight="normal" font-family='"Liberation Sans", sans-serif' >40</text>
<text x="553.58" y="228.00" font-size="12" text-anchor="middle" fill="#080808" font-weight="normal" font-family='"Liberation Sans", sans-serif' >60</text>
<text x="608.24" y="228.00" font-size="12" text-anchor="middle" fill="#080808" font-weight="normal" font-family='"Liberation Sans", sans-serif' >80</text>
<text x="662.90" y="228.00" font-size="12" text-anchor="middle" fill="#080808" font-weight="normal" font-family='"Liberation Sans", sans-serif' >100</text>
<text x="526.50" y="243.80" font-size="14" text-anchor="middle" fill="#080808" font-weight="normal" font-family='"Liberation Sans", sans-serif' >Switching cycle (#)</text>
<text transform="translate(357.6,112.8) rotate(-90)" font-size="14" text-anchor="middle" fill="#080808" font-family='"Liberation Sans", sans-serif'>Cell resistance, [Ω]</text>
<text transform="translate(343.0,13.2) scale(1.0,1.08)" x="0" y="0" font-size="15.2" font-weight="bold" letter-spacing="0.8" fill="#111" font-family='"Liberation Serif", serif'>(b)</text>
<text x="4.40" y="264.00" font-size="16.5" text-anchor="start" fill="#080808" font-weight="bold" font-family='"Liberation Serif", serif' letter-spacing="0.3">(c)</text>
<line x1="56.70" y1="359.60" x2="160.60" y2="359.60" stroke="#ffb3b3" stroke-width="0.7" />
<path d="M61.64,428.37 L61.90,417.51 L61.90,411.88 L61.90,407.92 L61.90,404.80 L61.90,402.19 L61.90,399.94 L61.90,397.94 L61.90,396.14 L61.90,394.48 L61.90,392.96 L61.90,391.53 L61.90,390.19 L61.90,388.92 L61.90,387.72 L61.90,386.57 L61.90,385.46 L61.90,384.40 L61.90,383.38 L61.90,382.39 L66.57,381.43 L66.57,380.50 L66.57,379.59 L66.57,378.71 L66.57,377.84 L66.57,377.00 L66.57,376.17 L66.57,375.36 L66.57,374.56 L66.57,373.77 L66.57,373.00 L66.57,372.24 L66.57,371.49 L66.57,370.74 L66.57,370.01 L66.57,369.28 L66.57,368.56 L66.57,367.85 L66.57,367.14 L66.57,366.44 L66.57,365.75 L66.57,365.05 L66.57,364.36 L66.57,363.68 L66.57,362.99 L66.57,362.31 L66.57,361.63 L66.57,360.95 L66.57,360.28 L66.57,359.60 L66.57,358.92 L66.57,358.25 L66.57,357.57 L66.57,356.89 L66.57,356.21 L66.57,355.52 L66.57,354.84 L66.57,354.15 L66.57,353.45 L66.57,352.76 L66.57,352.06 L66.57,351.35 L66.57,350.64 L66.57,349.92 L66.57,349.19 L66.57,348.46 L66.57,347.71 L66.57,346.96 L66.57,346.20 L66.57,345.43 L66.57,344.64 L66.57,343.84 L66.57,343.03 L66.57,342.20 L66.57,341.36 L66.57,340.49 L66.57,339.61 L66.57,338.70 L66.57,337.77 L66.57,336.81 L66.57,335.82 L66.57,334.80 L66.57,333.74 L66.57,332.63 L66.57,331.48 L66.57,330.28 L66.57,329.01 L66.57,327.67 L66.57,326.24 L66.57,324.72 L66.57,323.06 L66.57,321.26 L66.57,319.26 L66.57,317.01 L66.57,314.40 L72.28,311.28 L72.28,307.32 L82.16,301.69 L87.61,290.83" fill="none" stroke="#ff0000" stroke-width="1.2"/>
<rect x="59.04" y="425.77" width="5.2" height="5.2" fill="none" stroke="#ff0000" stroke-width="1.3"/>
<rect x="59.30" y="414.91" width="5.2" height="5.2" fill="none" stroke="#ff0000" stroke-width="1.3"/>
<rect x="59.30" y="409.28" width="5.2" height="5.2" fill="none" stroke="#ff0000" stroke-width="1.3"/>
<rect x="59.30" y="405.32" width="5.2" height="5.2" fill="none" stroke="#ff0000" stroke-width="1.3"/>
<rect x="59.30" y="402.20" width="5.2" height="5.2" fill="none" stroke="#ff0000" stroke-width="1.3"/>
<rect x="59.30" y="399.59" width="5.2" height="5.2" fill="none" stroke="#ff0000" stroke-width="1.3"/>
<rect x="59.30" y="397.34" width="5.2" height="5.2" fill="none" stroke="#ff0000" stroke-width="1.3"/>
<rect x="59.30" y="395.34" width="5.2" height="5.2" fill="none" stroke="#ff0000" stroke-width="1.3"/>
<rect x="59.30" y="393.54" width="5.2" height="5.2" fill="none" stroke="#ff0000" stroke-width="1.3"/>
<rect x="59.30" y="391.88" width="5.2" height="5.2" fill="none" stroke="#ff0000" stroke-width="1.3"/>
<rect x="59.30" y="390.36" width="5.2" height="5.2" fill="none" stroke="#ff0000" stroke-width="1.3"/>
<rect x="59.30" y="388.93" width="5.2" height="5.2" fill="none" stroke="#ff0000" stroke-width="1.3"/>
<rect x="59.30" y="387.59" width="5.2" height="5.2" fill="none" stroke="#ff0000" stroke-width="1.3"/>
<rect x="59.30" y="386.32" width="5.2" height="5.2" fill="none" stroke="#ff0000" stroke-width="1.3"/>
<rect x="59.30" y="385.12" width="5.2" height="5.2" fill="none" stroke="#ff0000" stroke-width="1.3"/>
<rect x="59.30" y="383.97" width="5.2" height="5.2" fill="none" stroke="#ff0000" stroke-width="1.3"/>
<rect x="59.30" y="382.86" width="5.2" height="5.2" fill="none" stroke="#ff0000" stroke-width="1.3"/>
<rect x="59.30" y="381.80" width="5.2" height="5.2" fill="none" stroke="#ff0000" stroke-width="1.3"/>
<rect x="59.30" y="380.78" width="5.2" height="5.2" fill="none" stroke="#ff0000" stroke-width="1.3"/>
<rect x="59.30" y="379.79" width="5.2" height="5.2" fill="none" stroke="#ff0000" stroke-width="1.3"/>
<rect x="63.97" y="378.83" width="5.2" height="5.2" fill="none" stroke="#ff0000" stroke-width="1.3"/>
<rect x="63.97" y="377.90" width="5.2" height="5.2" fill="none" stroke="#ff0000" stroke-width="1.3"/>
<rect x="63.97" y="376.99" width="5.2" height="5.2" fill="none" stroke="#ff0000" stroke-width="1.3"/>
<rect x="63.97" y="376.11" width="5.2" height="5.2" fill="none" stroke="#ff0000" stroke-width="1.3"/>
<rect x="63.97" y="375.24" width="5.2" height="5.2" fill="none" stroke="#ff0000" stroke-width="1.3"/>
<rect x="63.97" y="374.40" width="5.2" height="5.2" fill="none" stroke="#ff0000" stroke-width="1.3"/>
<rect x="63.97" y="373.57" width="5.2" height="5.2" fill="none" stroke="#ff0000" stroke-width="1.3"/>
<rect x="63.97" y="372.76" width="5.2" height="5.2" fill="none" stroke="#ff0000" stroke-width="1.3"/>
<rect x="63.97" y="371.96" width="5.2" height="5.2" fill="none" stroke="#ff0000" stroke-width="1.3"/>
<rect x="63.97" y="371.17" width="5.2" height="5.2" fill="none" stroke="#ff0000" stroke-width="1.3"/>
<rect x="63.97" y="370.40" width="5.2" height="5.2" fill="none" stroke="#ff0000" stroke-width="1.3"/>
<rect x="63.97" y="369.64" width="5.2" height="5.2" fill="none" stroke="#ff0000" stroke-width="1.3"/>
<rect x="63.97" y="368.89" width="5.2" height="5.2" fill="none" stroke="#ff0000" stroke-width="1.3"/>
<rect x="63.97" y="368.14" width="5.2" height="5.2" fill="none" stroke="#ff0000" stroke-width="1.3"/>
<rect x="63.97" y="367.41" width="5.2" height="5.2" fill="none" stroke="#ff0000" stroke-width="1.3"/>
<rect x="63.97" y="366.68" width="5.2" height="5.2" fill="none" stroke="#ff0000" stroke-width="1.3"/>
<rect x="63.97" y="365.96" width="5.2" height="5.2" fill="none" stroke="#ff0000" stroke-width="1.3"/>
<rect x="63.97" y="365.25" width="5.2" height="5.2" fill="none" stroke="#ff0000" stroke-width="1.3"/>
<rect x="63.97" y="364.54" width="5.2" height="5.2" fill="none" stroke="#ff0000" stroke-width="1.3"/>
<rect x="63.97" y="363.84" width="5.2" height="5.2" fill="none" stroke="#ff0000" stroke-width="1.3"/>
<rect x="63.97" y="363.15" width="5.2" height="5.2" fill="none" stroke="#ff0000" stroke-width="1.3"/>
<rect x="63.97" y="362.45" width="5.2" height="5.2" fill="none" stroke="#ff0000" stroke-width="1.3"/>
<rect x="63.97" y="361.76" width="5.2" height="5.2" fill="none" stroke="#ff0000" stroke-width="1.3"/>
<rect x="63.97" y="361.08" width="5.2" height="5.2" fill="none" stroke="#ff0000" stroke-width="1.3"/>
<rect x="63.97" y="360.39" width="5.2" height="5.2" fill="none" stroke="#ff0000" stroke-width="1.3"/>
<rect x="63.97" y="359.71" width="5.2" height="5.2" fill="none" stroke="#ff0000" stroke-width="1.3"/>
<rect x="63.97" y="359.03" width="5.2" height="5.2" fill="none" stroke="#ff0000" stroke-width="1.3"/>
<rect x="63.97" y="358.35" width="5.2" height="5.2" fill="none" stroke="#ff0000" stroke-width="1.3"/>
<rect x="63.97" y="357.68" width="5.2" height="5.2" fill="none" stroke="#ff0000" stroke-width="1.3"/>
<rect x="63.97" y="357.00" width="5.2" height="5.2" fill="none" stroke="#ff0000" stroke-width="1.3"/>
<rect x="63.97" y="356.32" width="5.2" height="5.2" fill="none" stroke="#ff0000" stroke-width="1.3"/>
<rect x="63.97" y="355.65" width="5.2" height="5.2" fill="none" stroke="#ff0000" stroke-width="1.3"/>
<rect x="63.97" y="354.97" width="5.2" height="5.2" fill="none" stroke="#ff0000" stroke-width="1.3"/>
<rect x="63.97" y="354.29" width="5.2" height="5.2" fill="none" stroke="#ff0000" stroke-width="1.3"/>
<rect x="63.97" y="353.61" width="5.2" height="5.2" fill="none" stroke="#ff0000" stroke-width="1.3"/>
<rect x="63.97" y="352.92" width="5.2" height="5.2" fill="none" stroke="#ff0000" stroke-width="1.3"/>
<rect x="63.97" y="352.24" width="5.2" height="5.2" fill="none" stroke="#ff0000" stroke-width="1.3"/>
<rect x="63.97" y="351.55" width="5.2" height="5.2" fill="none" stroke="#ff0000" stroke-width="1.3"/>
<rect x="63.97" y="350.85" width="5.2" height="5.2" fill="none" stroke="#ff0000" stroke-width="1.3"/>
<rect x="63.97" y="350.16" width="5.2" height="5.2" fill="none" stroke="#ff0000" stroke-width="1.3"/>
<rect x="63.97" y="349.46" width="5.2" height="5.2" fill="none" stroke="#ff0000" stroke-width="1.3"/>
<rect x="63.97" y="348.75" width="5.2" height="5.2" fill="none" stroke="#ff0000" stroke-width="1.3"/>
<rect x="63.97" y="348.04" width="5.2" height="5.2" fill="none" stroke="#ff0000" stroke-width="1.3"/>
<rect x="63.97" y="347.32" width="5.2" height="5.2" fill="none" stroke="#ff0000" stroke-width="1.3"/>
<rect x="63.97" y="346.59" width="5.2" height="5.2" fill="none" stroke="#ff0000" stroke-width="1.3"/>
<rect x="63.97" y="345.86" width="5.2" height="5.2" fill="none" stroke="#ff0000" stroke-width="1.3"/>
<rect x="63.97" y="345.11" width="5.2" height="5.2" fill="none" stroke="#ff0000" stroke-width="1.3"/>
<rect x="63.97" y="344.36" width="5.2" height="5.2" fill="none" stroke="#ff0000" stroke-width="1.3"/>
<rect x="63.97" y="343.60" width="5.2" height="5.2" fill="none" stroke="#ff0000" stroke-width="1.3"/>
<rect x="63.97" y="342.83" width="5.2" height="5.2" fill="none" stroke="#ff0000" stroke-width="1.3"/>
<rect x="63.97" y="342.04" width="5.2" height="5.2" fill="none" stroke="#ff0000" stroke-width="1.3"/>
<rect x="63.97" y="341.24" width="5.2" height="5.2" fill="none" stroke="#ff0000" stroke-width="1.3"/>
<rect x="63.97" y="340.43" width="5.2" height="5.2" fill="none" stroke="#ff0000" stroke-width="1.3"/>
<rect x="63.97" y="339.60" width="5.2" height="5.2" fill="none" stroke="#ff0000" stroke-width="1.3"/>
<rect x="63.97" y="338.76" width="5.2" height="5.2" fill="none" stroke="#ff0000" stroke-width="1.3"/>
<rect x="63.97" y="337.89" width="5.2" height="5.2" fill="none" stroke="#ff0000" stroke-width="1.3"/>
<rect x="63.97" y="337.01" width="5.2" height="5.2" fill="none" stroke="#ff0000" stroke-width="1.3"/>
<rect x="63.97" y="336.10" width="5.2" height="5.2" fill="none" stroke="#ff0000" stroke-width="1.3"/>
<rect x="63.97" y="335.17" width="5.2" height="5.2" fill="none" stroke="#ff0000" stroke-width="1.3"/>
<rect x="63.97" y="334.21" width="5.2" height="5.2" fill="none" stroke="#ff0000" stroke-width="1.3"/>
<rect x="63.97" y="333.22" width="5.2" height="5.2" fill="none" stroke="#ff0000" stroke-width="1.3"/>
<rect x="63.97" y="332.20" width="5.2" height="5.2" fill="none" stroke="#ff0000" stroke-width="1.3"/>
<rect x="63.97" y="331.14" width="5.2" height="5.2" fill="none" stroke="#ff0000" stroke-width="1.3"/>
<rect x="63.97" y="330.03" width="5.2" height="5.2" fill="none" stroke="#ff0000" stroke-width="1.3"/>
<rect x="63.97" y="328.88" width="5.2" height="5.2" fill="none" stroke="#ff0000" stroke-width="1.3"/>
<rect x="63.97" y="327.68" width="5.2" height="5.2" fill="none" stroke="#ff0000" stroke-width="1.3"/>
<rect x="63.97" y="326.41" width="5.2" height="5.2" fill="none" stroke="#ff0000" stroke-width="1.3"/>
<rect x="63.97" y="325.07" width="5.2" height="5.2" fill="none" stroke="#ff0000" stroke-width="1.3"/>
<rect x="63.97" y="323.64" width="5.2" height="5.2" fill="none" stroke="#ff0000" stroke-width="1.3"/>
<rect x="63.97" y="322.12" width="5.2" height="5.2" fill="none" stroke="#ff0000" stroke-width="1.3"/>
<rect x="63.97" y="320.46" width="5.2" height="5.2" fill="none" stroke="#ff0000" stroke-width="1.3"/>
<rect x="63.97" y="318.66" width="5.2" height="5.2" fill="none" stroke="#ff0000" stroke-width="1.3"/>
<rect x="63.97" y="316.66" width="5.2" height="5.2" fill="none" stroke="#ff0000" stroke-width="1.3"/>
<rect x="63.97" y="314.41" width="5.2" height="5.2" fill="none" stroke="#ff0000" stroke-width="1.3"/>
<rect x="63.97" y="311.80" width="5.2" height="5.2" fill="none" stroke="#ff0000" stroke-width="1.3"/>
<rect x="69.69" y="308.68" width="5.2" height="5.2" fill="none" stroke="#ff0000" stroke-width="1.3"/>
<rect x="69.69" y="304.72" width="5.2" height="5.2" fill="none" stroke="#ff0000" stroke-width="1.3"/>
<rect x="79.56" y="299.09" width="5.2" height="5.2" fill="none" stroke="#ff0000" stroke-width="1.3"/>
<rect x="85.01" y="288.23" width="5.2" height="5.2" fill="none" stroke="#ff0000" stroke-width="1.3"/>
<path d="M82.16,428.37 L87.35,417.51 L87.35,411.88 L87.35,407.92 L87.35,404.80 L87.35,402.19 L87.35,399.94 L87.35,397.94 L87.35,396.14 L87.35,394.48 L92.55,392.96 L92.55,391.53 L92.55,390.19 L92.55,388.92 L92.55,387.72 L92.55,386.57 L92.55,385.46 L92.55,384.40 L92.55,383.38 L92.55,382.39 L97.48,381.43 L97.48,380.50 L97.48,379.59 L97.48,378.71 L97.48,377.84 L97.48,377.00 L97.48,376.17 L97.48,375.36 L97.48,374.56 L97.48,373.77 L97.48,373.00 L97.48,372.24 L97.48,371.49 L97.48,370.74 L97.48,370.01 L97.48,369.28 L97.48,368.56 L97.48,367.85 L97.48,367.14 L97.48,366.44 L97.48,365.75 L97.48,365.05 L97.48,364.36 L97.48,363.68 L97.48,362.99 L97.48,362.31 L97.48,361.63 L97.48,360.95 L97.48,360.28 L97.48,359.60 L97.48,358.92 L97.48,358.25 L97.48,357.57 L97.48,356.89 L97.48,356.21 L97.48,355.52 L97.48,354.84 L97.48,354.15 L97.48,353.45 L97.48,352.76 L97.48,352.06 L97.48,351.35 L97.48,350.64 L97.48,349.92 L97.48,349.19 L97.48,348.46 L97.48,347.71 L97.48,346.96 L97.48,346.20 L102.94,345.43 L102.94,344.64 L102.94,343.84 L102.94,343.03 L102.94,342.20 L102.94,341.36 L102.94,340.49 L102.94,339.61 L102.94,338.70 L102.94,337.77 L102.94,336.81 L102.94,335.82 L102.94,334.80 L102.94,333.74 L102.94,332.63 L102.94,331.48 L102.94,330.28 L102.94,329.01 L102.94,327.67 L102.94,326.24 L102.94,324.72 L102.94,323.06 L102.94,321.26 L102.94,319.26 L102.94,317.01 L102.94,314.40 L113.84,311.28 L118.52,307.32 L129.43,301.69 L139.82,290.83" fill="none" stroke="#0000ff" stroke-width="1.2"/>
<circle cx="82.16" cy="428.37" r="2.8" fill="none" stroke="#0000ff" stroke-width="1.3"/>
<circle cx="87.35" cy="417.51" r="2.8" fill="none" stroke="#0000ff" stroke-width="1.3"/>
<circle cx="87.35" cy="411.88" r="2.8" fill="none" stroke="#0000ff" stroke-width="1.3"/>
<circle cx="87.35" cy="407.92" r="2.8" fill="none" stroke="#0000ff" stroke-width="1.3"/>
<circle cx="87.35" cy="404.80" r="2.8" fill="none" stroke="#0000ff" stroke-width="1.3"/>
<circle cx="87.35" cy="402.19" r="2.8" fill="none" stroke="#0000ff" stroke-width="1.3"/>
<circle cx="87.35" cy="399.94" r="2.8" fill="none" stroke="#0000ff" stroke-width="1.3"/>
<circle cx="87.35" cy="397.94" r="2.8" fill="none" stroke="#0000ff" stroke-width="1.3"/>
<circle cx="87.35" cy="396.14" r="2.8" fill="none" stroke="#0000ff" stroke-width="1.3"/>
<circle cx="87.35" cy="394.48" r="2.8" fill="none" stroke="#0000ff" stroke-width="1.3"/>
<circle cx="92.55" cy="392.96" r="2.8" fill="none" stroke="#0000ff" stroke-width="1.3"/>
<circle cx="92.55" cy="391.53" r="2.8" fill="none" stroke="#0000ff" stroke-width="1.3"/>
<circle cx="92.55" cy="390.19" r="2.8" fill="none" stroke="#0000ff" stroke-width="1.3"/>
<circle cx="92.55" cy="388.92" r="2.8" fill="none" stroke="#0000ff" stroke-width="1.3"/>
<circle cx="92.55" cy="387.72" r="2.8" fill="none" stroke="#0000ff" stroke-width="1.3"/>
<circle cx="92.55" cy="386.57" r="2.8" fill="none" stroke="#0000ff" stroke-width="1.3"/>
<circle cx="92.55" cy="385.46" r="2.8" fill="none" stroke="#0000ff" stroke-width="1.3"/>
<circle cx="92.55" cy="384.40" r="2.8" fill="none" stroke="#0000ff" stroke-width="1.3"/>
<circle cx="92.55" cy="383.38" r="2.8" fill="none" stroke="#0000ff" stroke-width="1.3"/>
<circle cx="92.55" cy="382.39" r="2.8" fill="none" stroke="#0000ff" stroke-width="1.3"/>
<circle cx="97.48" cy="381.43" r="2.8" fill="none" stroke="#0000ff" stroke-width="1.3"/>
<circle cx="97.48" cy="380.50" r="2.8" fill="none" stroke="#0000ff" stroke-width="1.3"/>
<circle cx="97.48" cy="379.59" r="2.8" fill="none" stroke="#0000ff" stroke-width="1.3"/>
<circle cx="97.48" cy="378.71" r="2.8" fill="none" stroke="#0000ff" stroke-width="1.3"/>
<circle cx="97.48" cy="377.84" r="2.8" fill="none" stroke="#0000ff" stroke-width="1.3"/>
<circle cx="97.48" cy="377.00" r="2.8" fill="none" stroke="#0000ff" stroke-width="1.3"/>
<circle cx="97.48" cy="376.17" r="2.8" fill="none" stroke="#0000ff" stroke-width="1.3"/>
<circle cx="97.48" cy="375.36" r="2.8" fill="none" stroke="#0000ff" stroke-width="1.3"/>
<circle cx="97.48" cy="374.56" r="2.8" fill="none" stroke="#0000ff" stroke-width="1.3"/>
<circle cx="97.48" cy="373.77" r="2.8" fill="none" stroke="#0000ff" stroke-width="1.3"/>
<circle cx="97.48" cy="373.00" r="2.8" fill="none" stroke="#0000ff" stroke-width="1.3"/>
<circle cx="97.48" cy="372.24" r="2.8" fill="none" stroke="#0000ff" stroke-width="1.3"/>
<circle cx="97.48" cy="371.49" r="2.8" fill="none" stroke="#0000ff" stroke-width="1.3"/>
<circle cx="97.48" cy="370.74" r="2.8" fill="none" stroke="#0000ff" stroke-width="1.3"/>
<circle cx="97.48" cy="370.01" r="2.8" fill="none" stroke="#0000ff" stroke-width="1.3"/>
<circle cx="97.48" cy="369.28" r="2.8" fill="none" stroke="#0000ff" stroke-width="1.3"/>
<circle cx="97.48" cy="368.56" r="2.8" fill="none" stroke="#0000ff" stroke-width="1.3"/>
<circle cx="97.48" cy="367.85" r="2.8" fill="none" stroke="#0000ff" stroke-width="1.3"/>
<circle cx="97.48" cy="367.14" r="2.8" fill="none" stroke="#0000ff" stroke-width="1.3"/>
<circle cx="97.48" cy="366.44" r="2.8" fill="none" stroke="#0000ff" stroke-width="1.3"/>
<circle cx="97.48" cy="365.75" r="2.8" fill="none" stroke="#0000ff" stroke-width="1.3"/>
<circle cx="97.48" cy="365.05" r="2.8" fill="none" stroke="#0000ff" stroke-width="1.3"/>
<circle cx="97.48" cy="364.36" r="2.8" fill="none" stroke="#0000ff" stroke-width="1.3"/>
<circle cx="97.48" cy="363.68" r="2.8" fill="none" stroke="#0000ff" stroke-width="1.3"/>
<circle cx="97.48" cy="362.99" r="2.8" fill="none" stroke="#0000ff" stroke-width="1.3"/>
<circle cx="97.48" cy="362.31" r="2.8" fill="none" stroke="#0000ff" stroke-width="1.3"/>
<circle cx="97.48" cy="361.63" r="2.8" fill="none" stroke="#0000ff" stroke-width="1.3"/>
<circle cx="97.48" cy="360.95" r="2.8" fill="none" stroke="#0000ff" stroke-width="1.3"/>
<circle cx="97.48" cy="360.28" r="2.8" fill="none" stroke="#0000ff" stroke-width="1.3"/>
<circle cx="97.48" cy="359.60" r="2.8" fill="none" stroke="#0000ff" stroke-width="1.3"/>
<circle cx="97.48" cy="358.92" r="2.8" fill="none" stroke="#0000ff" stroke-width="1.3"/>
<circle cx="97.48" cy="358.25" r="2.8" fill="none" stroke="#0000ff" stroke-width="1.3"/>
<circle cx="97.48" cy="357.57" r="2.8" fill="none" stroke="#0000ff" stroke-width="1.3"/>
<circle cx="97.48" cy="356.89" r="2.8" fill="none" stroke="#0000ff" stroke-width="1.3"/>
<circle cx="97.48" cy="356.21" r="2.8" fill="none" stroke="#0000ff" stroke-width="1.3"/>
<circle cx="97.48" cy="355.52" r="2.8" fill="none" stroke="#0000ff" stroke-width="1.3"/>
<circle cx="97.48" cy="354.84" r="2.8" fill="none" stroke="#0000ff" stroke-width="1.3"/>
<circle cx="97.48" cy="354.15" r="2.8" fill="none" stroke="#0000ff" stroke-width="1.3"/>
<circle cx="97.48" cy="353.45" r="2.8" fill="none" stroke="#0000ff" stroke-width="1.3"/>
<circle cx="97.48" cy="352.76" r="2.8" fill="none" stroke="#0000ff" stroke-width="1.3"/>
<circle cx="97.48" cy="352.06" r="2.8" fill="none" stroke="#0000ff" stroke-width="1.3"/>
<circle cx="97.48" cy="351.35" r="2.8" fill="none" stroke="#0000ff" stroke-width="1.3"/>
<circle cx="97.48" cy="350.64" r="2.8" fill="none" stroke="#0000ff" stroke-width="1.3"/>
<circle cx="97.48" cy="349.92" r="2.8" fill="none" stroke="#0000ff" stroke-width="1.3"/>
<circle cx="97.48" cy="349.19" r="2.8" fill="none" stroke="#0000ff" stroke-width="1.3"/>
<circle cx="97.48" cy="348.46" r="2.8" fill="none" stroke="#0000ff" stroke-width="1.3"/>
<circle cx="97.48" cy="347.71" r="2.8" fill="none" stroke="#0000ff" stroke-width="1.3"/>
<circle cx="97.48" cy="346.96" r="2.8" fill="none" stroke="#0000ff" stroke-width="1.3"/>
<circle cx="97.48" cy="346.20" r="2.8" fill="none" stroke="#0000ff" stroke-width="1.3"/>
<circle cx="102.94" cy="345.43" r="2.8" fill="none" stroke="#0000ff" stroke-width="1.3"/>
<circle cx="102.94" cy="344.64" r="2.8" fill="none" stroke="#0000ff" stroke-width="1.3"/>
<circle cx="102.94" cy="343.84" r="2.8" fill="none" stroke="#0000ff" stroke-width="1.3"/>
<circle cx="102.94" cy="343.03" r="2.8" fill="none" stroke="#0000ff" stroke-width="1.3"/>
<circle cx="102.94" cy="342.20" r="2.8" fill="none" stroke="#0000ff" stroke-width="1.3"/>
<circle cx="102.94" cy="341.36" r="2.8" fill="none" stroke="#0000ff" stroke-width="1.3"/>
<circle cx="102.94" cy="340.49" r="2.8" fill="none" stroke="#0000ff" stroke-width="1.3"/>
<circle cx="102.94" cy="339.61" r="2.8" fill="none" stroke="#0000ff" stroke-width="1.3"/>
<circle cx="102.94" cy="338.70" r="2.8" fill="none" stroke="#0000ff" stroke-width="1.3"/>
<circle cx="102.94" cy="337.77" r="2.8" fill="none" stroke="#0000ff" stroke-width="1.3"/>
<circle cx="102.94" cy="336.81" r="2.8" fill="none" stroke="#0000ff" stroke-width="1.3"/>
<circle cx="102.94" cy="335.82" r="2.8" fill="none" stroke="#0000ff" stroke-width="1.3"/>
<circle cx="102.94" cy="334.80" r="2.8" fill="none" stroke="#0000ff" stroke-width="1.3"/>
<circle cx="102.94" cy="333.74" r="2.8" fill="none" stroke="#0000ff" stroke-width="1.3"/>
<circle cx="102.94" cy="332.63" r="2.8" fill="none" stroke="#0000ff" stroke-width="1.3"/>
<circle cx="102.94" cy="331.48" r="2.8" fill="none" stroke="#0000ff" stroke-width="1.3"/>
<circle cx="102.94" cy="330.28" r="2.8" fill="none" stroke="#0000ff" stroke-width="1.3"/>
<circle cx="102.94" cy="329.01" r="2.8" fill="none" stroke="#0000ff" stroke-width="1.3"/>
<circle cx="102.94" cy="327.67" r="2.8" fill="none" stroke="#0000ff" stroke-width="1.3"/>
<circle cx="102.94" cy="326.24" r="2.8" fill="none" stroke="#0000ff" stroke-width="1.3"/>
<circle cx="102.94" cy="324.72" r="2.8" fill="none" stroke="#0000ff" stroke-width="1.3"/>
<circle cx="102.94" cy="323.06" r="2.8" fill="none" stroke="#0000ff" stroke-width="1.3"/>
<circle cx="102.94" cy="321.26" r="2.8" fill="none" stroke="#0000ff" stroke-width="1.3"/>
<circle cx="102.94" cy="319.26" r="2.8" fill="none" stroke="#0000ff" stroke-width="1.3"/>
<circle cx="102.94" cy="317.01" r="2.8" fill="none" stroke="#0000ff" stroke-width="1.3"/>
<circle cx="102.94" cy="314.40" r="2.8" fill="none" stroke="#0000ff" stroke-width="1.3"/>
<circle cx="113.84" cy="311.28" r="2.8" fill="none" stroke="#0000ff" stroke-width="1.3"/>
<circle cx="118.52" cy="307.32" r="2.8" fill="none" stroke="#0000ff" stroke-width="1.3"/>
<circle cx="129.43" cy="301.69" r="2.8" fill="none" stroke="#0000ff" stroke-width="1.3"/>
<circle cx="139.82" cy="290.83" r="2.8" fill="none" stroke="#0000ff" stroke-width="1.3"/>
<rect x="56.70" y="279.40" width="103.90" height="160.40" fill="none" stroke="#2b2b2b" stroke-width="1.3"/>
<line x1="56.70" y1="421.79" x2="59.70" y2="421.79" stroke="#2b2b2b" stroke-width="1.0" />
<line x1="160.60" y1="421.79" x2="157.60" y2="421.79" stroke="#2b2b2b" stroke-width="1.0" />
<line x1="56.70" y1="403.57" x2="59.70" y2="403.57" stroke="#2b2b2b" stroke-width="1.0" />
<line x1="160.60" y1="403.57" x2="157.60" y2="403.57" stroke="#2b2b2b" stroke-width="1.0" />
<line x1="56.70" y1="393.86" x2="59.70" y2="393.86" stroke="#2b2b2b" stroke-width="1.0" />
<line x1="160.60" y1="393.86" x2="157.60" y2="393.86" stroke="#2b2b2b" stroke-width="1.0" />
<line x1="56.70" y1="377.63" x2="59.70" y2="377.63" stroke="#2b2b2b" stroke-width="1.0" />
<line x1="160.60" y1="377.63" x2="157.60" y2="377.63" stroke="#2b2b2b" stroke-width="1.0" />
<line x1="56.70" y1="359.60" x2="59.70" y2="359.60" stroke="#2b2b2b" stroke-width="1.0" />
<line x1="160.60" y1="359.60" x2="157.60" y2="359.60" stroke="#2b2b2b" stroke-width="1.0" />
<line x1="56.70" y1="341.57" x2="59.70" y2="341.57" stroke="#2b2b2b" stroke-width="1.0" />
<line x1="160.60" y1="341.57" x2="157.60" y2="341.57" stroke="#2b2b2b" stroke-width="1.0" />
<line x1="56.70" y1="325.34" x2="59.70" y2="325.34" stroke="#2b2b2b" stroke-width="1.0" />
<line x1="160.60" y1="325.34" x2="157.60" y2="325.34" stroke="#2b2b2b" stroke-width="1.0" />
<line x1="56.70" y1="315.63" x2="59.70" y2="315.63" stroke="#2b2b2b" stroke-width="1.0" />
<line x1="160.60" y1="315.63" x2="157.60" y2="315.63" stroke="#2b2b2b" stroke-width="1.0" />
<line x1="56.70" y1="297.41" x2="59.70" y2="297.41" stroke="#2b2b2b" stroke-width="1.0" />
<line x1="160.60" y1="297.41" x2="157.60" y2="297.41" stroke="#2b2b2b" stroke-width="1.0" />
<line x1="56.70" y1="439.80" x2="56.70" y2="436.80" stroke="#2b2b2b" stroke-width="1.0" />
<line x1="56.70" y1="279.40" x2="56.70" y2="282.40" stroke="#2b2b2b" stroke-width="1.0" />
<text x="56.70" y="455.20" font-size="14.5" text-anchor="middle" fill="#080808" font-weight="normal" font-family='"Liberation Sans", sans-serif' >1</text>
<line x1="108.65" y1="439.80" x2="108.65" y2="436.80" stroke="#2b2b2b" stroke-width="1.0" />
<line x1="108.65" y1="279.40" x2="108.65" y2="282.40" stroke="#2b2b2b" stroke-width="1.0" />
<text x="108.65" y="455.20" font-size="14.5" text-anchor="middle" fill="#080808" font-weight="normal" font-family='"Liberation Sans", sans-serif' >2</text>
<line x1="160.60" y1="439.80" x2="160.60" y2="436.80" stroke="#2b2b2b" stroke-width="1.0" />
<line x1="160.60" y1="279.40" x2="160.60" y2="282.40" stroke="#2b2b2b" stroke-width="1.0" />
<text x="160.60" y="455.20" font-size="14.5" text-anchor="middle" fill="#080808" font-weight="normal" font-family='"Liberation Sans", sans-serif' >3</text>
<text x="52.60" y="426.99" font-size="14.5" text-anchor="end" fill="#080808" font-weight="normal" font-family='"Liberation Sans", sans-serif' >1 %</text>
<text x="52.60" y="408.77" font-size="14.5" text-anchor="end" fill="#080808" font-weight="normal" font-family='"Liberation Sans", sans-serif' >5 %</text>
<text x="52.60" y="399.06" font-size="14.5" text-anchor="end" fill="#080808" font-weight="normal" font-family='"Liberation Sans", sans-serif' >10 %</text>
<text x="52.60" y="382.83" font-size="14.5" text-anchor="end" fill="#080808" font-weight="normal" font-family='"Liberation Sans", sans-serif' >25 %</text>
<text x="52.60" y="364.80" font-size="14.5" text-anchor="end" fill="#080808" font-weight="normal" font-family='"Liberation Sans", sans-serif' >50 %</text>
<text x="52.60" y="346.77" font-size="14.5" text-anchor="end" fill="#080808" font-weight="normal" font-family='"Liberation Sans", sans-serif' >75 %</text>
<text x="52.60" y="330.54" font-size="14.5" text-anchor="end" fill="#080808" font-weight="normal" font-family='"Liberation Sans", sans-serif' >90 %</text>
<text x="52.60" y="320.83" font-size="14.5" text-anchor="end" fill="#080808" font-weight="normal" font-family='"Liberation Sans", sans-serif' >95 %</text>
<text x="52.60" y="302.61" font-size="14.5" text-anchor="end" fill="#080808" font-weight="normal" font-family='"Liberation Sans", sans-serif' >99 %</text>
<text transform="translate(13.0,359.8) rotate(-90)" font-size="15.2" letter-spacing="0.15" text-anchor="middle" fill="#080808" font-family='"Liberation Sans", sans-serif'>CDF [%]</text>
<text x="106.40" y="469.20" font-size="14.5" text-anchor="middle" fill="#080808" font-weight="normal" font-family='"Liberation Sans", sans-serif' letter-spacing="0.2">Voltage [V]</text>
<line x1="224.30" y1="361.35" x2="329.50" y2="361.35" stroke="#ffb3b3" stroke-width="0.7" />
<path d="M261.12,431.80 L266.38,420.70 L266.38,414.96 L270.06,410.91 L270.06,407.72 L270.06,405.06 L308.46,402.76 L308.46,400.72 L308.46,398.88 L308.46,397.19 L313.72,395.64 L313.72,394.18 L313.72,392.81 L313.72,391.52 L313.72,390.29 L313.72,389.12 L313.72,387.99 L313.72,386.91 L313.72,385.87 L313.72,384.86 L313.72,383.88 L313.72,382.93 L313.72,382.01 L313.72,381.11 L313.72,380.23 L313.72,379.37 L313.72,378.53 L313.72,377.70 L313.72,376.89 L318.98,376.09 L318.98,375.30 L318.98,374.53 L318.98,373.76 L318.98,373.01 L318.98,372.26 L318.98,371.52 L318.98,370.79 L318.98,370.06 L318.98,369.35 L318.98,368.63 L318.98,367.93 L318.98,367.22 L318.98,366.52 L318.98,365.83 L318.98,365.13 L318.98,364.44 L318.98,363.75 L318.98,363.07 L318.98,362.38 L318.98,361.69 L318.98,361.01 L318.98,360.32 L318.98,359.63 L318.98,358.95 L318.98,358.26 L318.98,357.57 L318.98,356.87 L318.98,356.18 L318.98,355.48 L318.98,354.77 L318.98,354.07 L318.98,353.35 L318.98,352.64 L318.98,351.91 L318.98,351.18 L318.98,350.44 L318.98,349.69 L318.98,348.94 L318.98,348.17 L318.98,347.40 L318.98,346.61 L318.98,345.81 L318.98,345.00 L318.98,344.17 L318.98,343.33 L318.98,342.47 L318.98,341.59 L318.98,340.69 L318.98,339.77 L318.98,338.82 L318.98,337.84 L318.98,336.83 L318.98,335.79 L323.71,334.71 L323.71,333.58 L323.71,332.41 L323.71,331.18 L323.71,329.89 L323.71,328.52 L323.71,327.06 L323.71,325.51 L323.71,323.82 L323.71,321.98 L323.71,319.94 L323.71,317.64 L323.71,314.98 L323.71,311.79 L323.71,307.74 L323.71,302.00 L330.03,290.90" fill="none" stroke="#ff0000" stroke-width="1.2"/>
<rect x="258.52" y="429.20" width="5.2" height="5.2" fill="none" stroke="#ff0000" stroke-width="1.3"/>
<rect x="263.78" y="418.10" width="5.2" height="5.2" fill="none" stroke="#ff0000" stroke-width="1.3"/>
<rect x="263.78" y="412.36" width="5.2" height="5.2" fill="none" stroke="#ff0000" stroke-width="1.3"/>
<rect x="267.46" y="408.31" width="5.2" height="5.2" fill="none" stroke="#ff0000" stroke-width="1.3"/>
<rect x="267.46" y="405.12" width="5.2" height="5.2" fill="none" stroke="#ff0000" stroke-width="1.3"/>
<rect x="267.46" y="402.46" width="5.2" height="5.2" fill="none" stroke="#ff0000" stroke-width="1.3"/>
<rect x="305.86" y="400.16" width="5.2" height="5.2" fill="none" stroke="#ff0000" stroke-width="1.3"/>
<rect x="305.86" y="398.12" width="5.2" height="5.2" fill="none" stroke="#ff0000" stroke-width="1.3"/>
<rect x="305.86" y="396.28" width="5.2" height="5.2" fill="none" stroke="#ff0000" stroke-width="1.3"/>
<rect x="305.86" y="394.59" width="5.2" height="5.2" fill="none" stroke="#ff0000" stroke-width="1.3"/>
<rect x="311.12" y="393.04" width="5.2" height="5.2" fill="none" stroke="#ff0000" stroke-width="1.3"/>
<rect x="311.12" y="391.58" width="5.2" height="5.2" fill="none" stroke="#ff0000" stroke-width="1.3"/>
<rect x="311.12" y="390.21" width="5.2" height="5.2" fill="none" stroke="#ff0000" stroke-width="1.3"/>
<rect x="311.12" y="388.92" width="5.2" height="5.2" fill="none" stroke="#ff0000" stroke-width="1.3"/>
<rect x="311.12" y="387.69" width="5.2" height="5.2" fill="none" stroke="#ff0000" stroke-width="1.3"/>
<rect x="311.12" y="386.52" width="5.2" height="5.2" fill="none" stroke="#ff0000" stroke-width="1.3"/>
<rect x="311.12" y="385.39" width="5.2" height="5.2" fill="none" stroke="#ff0000" stroke-width="1.3"/>
<rect x="311.12" y="384.31" width="5.2" height="5.2" fill="none" stroke="#ff0000" stroke-width="1.3"/>
<rect x="311.12" y="383.27" width="5.2" height="5.2" fill="none" stroke="#ff0000" stroke-width="1.3"/>
<rect x="311.12" y="382.26" width="5.2" height="5.2" fill="none" stroke="#ff0000" stroke-width="1.3"/>
<rect x="311.12" y="381.28" width="5.2" height="5.2" fill="none" stroke="#ff0000" stroke-width="1.3"/>
<rect x="311.12" y="380.33" width="5.2" height="5.2" fill="none" stroke="#ff0000" stroke-width="1.3"/>
<rect x="311.12" y="379.41" width="5.2" height="5.2" fill="none" stroke="#ff0000" stroke-width="1.3"/>
<rect x="311.12" y="378.51" width="5.2" height="5.2" fill="none" stroke="#ff0000" stroke-width="1.3"/>
<rect x="311.12" y="377.63" width="5.2" height="5.2" fill="none" stroke="#ff0000" stroke-width="1.3"/>
<rect x="311.12" y="376.77" width="5.2" height="5.2" fill="none" stroke="#ff0000" stroke-width="1.3"/>
<rect x="311.12" y="375.93" width="5.2" height="5.2" fill="none" stroke="#ff0000" stroke-width="1.3"/>
<rect x="311.12" y="375.10" width="5.2" height="5.2" fill="none" stroke="#ff0000" stroke-width="1.3"/>
<rect x="311.12" y="374.29" width="5.2" height="5.2" fill="none" stroke="#ff0000" stroke-width="1.3"/>
<rect x="316.38" y="373.49" width="5.2" height="5.2" fill="none" stroke="#ff0000" stroke-width="1.3"/>
<rect x="316.38" y="372.70" width="5.2" height="5.2" fill="none" stroke="#ff0000" stroke-width="1.3"/>
<rect x="316.38" y="371.93" width="5.2" height="5.2" fill="none" stroke="#ff0000" stroke-width="1.3"/>
<rect x="316.38" y="371.16" width="5.2" height="5.2" fill="none" stroke="#ff0000" stroke-width="1.3"/>
<rect x="316.38" y="370.41" width="5.2" height="5.2" fill="none" stroke="#ff0000" stroke-width="1.3"/>
<rect x="316.38" y="369.66" width="5.2" height="5.2" fill="none" stroke="#ff0000" stroke-width="1.3"/>
<rect x="316.38" y="368.92" width="5.2" height="5.2" fill="none" stroke="#ff0000" stroke-width="1.3"/>
<rect x="316.38" y="368.19" width="5.2" height="5.2" fill="none" stroke="#ff0000" stroke-width="1.3"/>
<rect x="316.38" y="367.46" width="5.2" height="5.2" fill="none" stroke="#ff0000" stroke-width="1.3"/>
<rect x="316.38" y="366.75" width="5.2" height="5.2" fill="none" stroke="#ff0000" stroke-width="1.3"/>
<rect x="316.38" y="366.03" width="5.2" height="5.2" fill="none" stroke="#ff0000" stroke-width="1.3"/>
<rect x="316.38" y="365.33" width="5.2" height="5.2" fill="none" stroke="#ff0000" stroke-width="1.3"/>
<rect x="316.38" y="364.62" width="5.2" height="5.2" fill="none" stroke="#ff0000" stroke-width="1.3"/>
<rect x="316.38" y="363.92" width="5.2" height="5.2" fill="none" stroke="#ff0000" stroke-width="1.3"/>
<rect x="316.38" y="363.23" width="5.2" height="5.2" fill="none" stroke="#ff0000" stroke-width="1.3"/>
<rect x="316.38" y="362.53" width="5.2" height="5.2" fill="none" stroke="#ff0000" stroke-width="1.3"/>
<rect x="316.38" y="361.84" width="5.2" height="5.2" fill="none" stroke="#ff0000" stroke-width="1.3"/>
<rect x="316.38" y="361.15" width="5.2" height="5.2" fill="none" stroke="#ff0000" stroke-width="1.3"/>
<rect x="316.38" y="360.47" width="5.2" height="5.2" fill="none" stroke="#ff0000" stroke-width="1.3"/>
<rect x="316.38" y="359.78" width="5.2" height="5.2" fill="none" stroke="#ff0000" stroke-width="1.3"/>
<rect x="316.38" y="359.09" width="5.2" height="5.2" fill="none" stroke="#ff0000" stroke-width="1.3"/>
<rect x="316.38" y="358.41" width="5.2" height="5.2" fill="none" stroke="#ff0000" stroke-width="1.3"/>
<rect x="316.38" y="357.72" width="5.2" height="5.2" fill="none" stroke="#ff0000" stroke-width="1.3"/>
<rect x="316.38" y="357.03" width="5.2" height="5.2" fill="none" stroke="#ff0000" stroke-width="1.3"/>
<rect x="316.38" y="356.35" width="5.2" height="5.2" fill="none" stroke="#ff0000" stroke-width="1.3"/>
<rect x="316.38" y="355.66" width="5.2" height="5.2" fill="none" stroke="#ff0000" stroke-width="1.3"/>
<rect x="316.38" y="354.97" width="5.2" height="5.2" fill="none" stroke="#ff0000" stroke-width="1.3"/>
<rect x="316.38" y="354.27" width="5.2" height="5.2" fill="none" stroke="#ff0000" stroke-width="1.3"/>
<rect x="316.38" y="353.58" width="5.2" height="5.2" fill="none" stroke="#ff0000" stroke-width="1.3"/>
<rect x="316.38" y="352.88" width="5.2" height="5.2" fill="none" stroke="#ff0000" stroke-width="1.3"/>
<rect x="316.38" y="352.17" width="5.2" height="5.2" fill="none" stroke="#ff0000" stroke-width="1.3"/>
<rect x="316.38" y="351.47" width="5.2" height="5.2" fill="none" stroke="#ff0000" stroke-width="1.3"/>
<rect x="316.38" y="350.75" width="5.2" height="5.2" fill="none" stroke="#ff0000" stroke-width="1.3"/>
<rect x="316.38" y="350.04" width="5.2" height="5.2" fill="none" stroke="#ff0000" stroke-width="1.3"/>
<rect x="316.38" y="349.31" width="5.2" height="5.2" fill="none" stroke="#ff0000" stroke-width="1.3"/>
<rect x="316.38" y="348.58" width="5.2" height="5.2" fill="none" stroke="#ff0000" stroke-width="1.3"/>
<rect x="316.38" y="347.84" width="5.2" height="5.2" fill="none" stroke="#ff0000" stroke-width="1.3"/>
<rect x="316.38" y="347.09" width="5.2" height="5.2" fill="none" stroke="#ff0000" stroke-width="1.3"/>
<rect x="316.38" y="346.34" width="5.2" height="5.2" fill="none" stroke="#ff0000" stroke-width="1.3"/>
<rect x="316.38" y="345.57" width="5.2" height="5.2" fill="none" stroke="#ff0000" stroke-width="1.3"/>
<rect x="316.38" y="344.80" width="5.2" height="5.2" fill="none" stroke="#ff0000" stroke-width="1.3"/>
<rect x="316.38" y="344.01" width="5.2" height="5.2" fill="none" stroke="#ff0000" stroke-width="1.3"/>
<rect x="316.38" y="343.21" width="5.2" height="5.2" fill="none" stroke="#ff0000" stroke-width="1.3"/>
<rect x="316.38" y="342.40" width="5.2" height="5.2" fill="none" stroke="#ff0000" stroke-width="1.3"/>
<rect x="316.38" y="341.57" width="5.2" height="5.2" fill="none" stroke="#ff0000" stroke-width="1.3"/>
<rect x="316.38" y="340.73" width="5.2" height="5.2" fill="none" stroke="#ff0000" stroke-width="1.3"/>
<rect x="316.38" y="339.87" width="5.2" height="5.2" fill="none" stroke="#ff0000" stroke-width="1.3"/>
<rect x="316.38" y="338.99" width="5.2" height="5.2" fill="none" stroke="#ff0000" stroke-width="1.3"/>
<rect x="316.38" y="338.09" width="5.2" height="5.2" fill="none" stroke="#ff0000" stroke-width="1.3"/>
<rect x="316.38" y="337.17" width="5.2" height="5.2" fill="none" stroke="#ff0000" stroke-width="1.3"/>
<rect x="316.38" y="336.22" width="5.2" height="5.2" fill="none" stroke="#ff0000" stroke-width="1.3"/>
<rect x="316.38" y="335.24" width="5.2" height="5.2" fill="none" stroke="#ff0000" stroke-width="1.3"/>
<rect x="316.38" y="334.23" width="5.2" height="5.2" fill="none" stroke="#ff0000" stroke-width="1.3"/>
<rect x="316.38" y="333.19" width="5.2" height="5.2" fill="none" stroke="#ff0000" stroke-width="1.3"/>
<rect x="321.11" y="332.11" width="5.2" height="5.2" fill="none" stroke="#ff0000" stroke-width="1.3"/>
<rect x="321.11" y="330.98" width="5.2" height="5.2" fill="none" stroke="#ff0000" stroke-width="1.3"/>
<rect x="321.11" y="329.81" width="5.2" height="5.2" fill="none" stroke="#ff0000" stroke-width="1.3"/>
<rect x="321.11" y="328.58" width="5.2" height="5.2" fill="none" stroke="#ff0000" stroke-width="1.3"/>
<rect x="321.11" y="327.29" width="5.2" height="5.2" fill="none" stroke="#ff0000" stroke-width="1.3"/>
<rect x="321.11" y="325.92" width="5.2" height="5.2" fill="none" stroke="#ff0000" stroke-width="1.3"/>
<rect x="321.11" y="324.46" width="5.2" height="5.2" fill="none" stroke="#ff0000" stroke-width="1.3"/>
<rect x="321.11" y="322.91" width="5.2" height="5.2" fill="none" stroke="#ff0000" stroke-width="1.3"/>
<rect x="321.11" y="321.22" width="5.2" height="5.2" fill="none" stroke="#ff0000" stroke-width="1.3"/>
<rect x="321.11" y="319.38" width="5.2" height="5.2" fill="none" stroke="#ff0000" stroke-width="1.3"/>
<rect x="321.11" y="317.34" width="5.2" height="5.2" fill="none" stroke="#ff0000" stroke-width="1.3"/>
<rect x="321.11" y="315.04" width="5.2" height="5.2" fill="none" stroke="#ff0000" stroke-width="1.3"/>
<rect x="321.11" y="312.38" width="5.2" height="5.2" fill="none" stroke="#ff0000" stroke-width="1.3"/>
<rect x="321.11" y="309.19" width="5.2" height="5.2" fill="none" stroke="#ff0000" stroke-width="1.3"/>
<rect x="321.11" y="305.14" width="5.2" height="5.2" fill="none" stroke="#ff0000" stroke-width="1.3"/>
<rect x="321.11" y="299.40" width="5.2" height="5.2" fill="none" stroke="#ff0000" stroke-width="1.3"/>
<rect x="327.43" y="288.30" width="5.2" height="5.2" fill="none" stroke="#ff0000" stroke-width="1.3"/>
<path d="M255.86,431.80 L272.17,420.70 L272.17,414.96 L272.17,410.91 L272.17,407.72 L272.17,405.06 L272.17,402.76 L272.17,400.72 L272.17,398.88 L276.90,397.19 L276.90,395.64 L276.90,394.18 L276.90,392.81 L276.90,391.52 L276.90,390.29 L276.90,389.12 L276.90,387.99 L276.90,386.91 L276.90,385.87 L276.90,384.86 L276.90,383.88 L276.90,382.93 L276.90,382.01 L276.90,381.11 L276.90,380.23 L276.90,379.37 L276.90,378.53 L276.90,377.70 L276.90,376.89 L276.90,376.09 L276.90,375.30 L276.90,374.53 L276.90,373.76 L276.90,373.01 L276.90,372.26 L276.90,371.52 L276.90,370.79 L276.90,370.06 L276.90,369.35 L276.90,368.63 L276.90,367.93 L276.90,367.22 L276.90,366.52 L276.90,365.83 L276.90,365.13 L276.90,364.44 L276.90,363.75 L276.90,363.07 L276.90,362.38 L276.90,361.69 L276.90,361.01 L276.90,360.32 L276.90,359.63 L276.90,358.95 L276.90,358.26 L276.90,357.57 L276.90,356.87 L276.90,356.18 L276.90,355.48 L276.90,354.77 L276.90,354.07 L276.90,353.35 L276.90,352.64 L276.90,351.91 L276.90,351.18 L276.90,350.44 L276.90,349.69 L276.90,348.94 L276.90,348.17 L276.90,347.40 L276.90,346.61 L276.90,345.81 L276.90,345.00 L276.90,344.17 L276.90,343.33 L276.90,342.47 L276.90,341.59 L282.69,340.69 L282.69,339.77 L282.69,338.82 L282.69,337.84 L282.69,336.83 L282.69,335.79 L282.69,334.71 L282.69,333.58 L282.69,332.41 L282.69,331.18 L282.69,329.89 L282.69,328.52 L282.69,327.06 L282.69,325.51 L282.69,323.82 L282.69,321.98 L282.69,319.94 L282.69,317.64 L287.42,314.98 L298.47,311.79 L298.47,307.74 L298.47,302.00 L303.46,290.90" fill="none" stroke="#0000ff" stroke-width="1.2"/>
<circle cx="255.86" cy="431.80" r="2.8" fill="none" stroke="#0000ff" stroke-width="1.3"/>
<circle cx="272.17" cy="420.70" r="2.8" fill="none" stroke="#0000ff" stroke-width="1.3"/>
<circle cx="272.17" cy="414.96" r="2.8" fill="none" stroke="#0000ff" stroke-width="1.3"/>
<circle cx="272.17" cy="410.91" r="2.8" fill="none" stroke="#0000ff" stroke-width="1.3"/>
<circle cx="272.17" cy="407.72" r="2.8" fill="none" stroke="#0000ff" stroke-width="1.3"/>
<circle cx="272.17" cy="405.06" r="2.8" fill="none" stroke="#0000ff" stroke-width="1.3"/>
<circle cx="272.17" cy="402.76" r="2.8" fill="none" stroke="#0000ff" stroke-width="1.3"/>
<circle cx="272.17" cy="400.72" r="2.8" fill="none" stroke="#0000ff" stroke-width="1.3"/>
<circle cx="272.17" cy="398.88" r="2.8" fill="none" stroke="#0000ff" stroke-width="1.3"/>
<circle cx="276.90" cy="397.19" r="2.8" fill="none" stroke="#0000ff" stroke-width="1.3"/>
<circle cx="276.90" cy="395.64" r="2.8" fill="none" stroke="#0000ff" stroke-width="1.3"/>
<circle cx="276.90" cy="394.18" r="2.8" fill="none" stroke="#0000ff" stroke-width="1.3"/>
<circle cx="276.90" cy="392.81" r="2.8" fill="none" stroke="#0000ff" stroke-width="1.3"/>
<circle cx="276.90" cy="391.52" r="2.8" fill="none" stroke="#0000ff" stroke-width="1.3"/>
<circle cx="276.90" cy="390.29" r="2.8" fill="none" stroke="#0000ff" stroke-width="1.3"/>
<circle cx="276.90" cy="389.12" r="2.8" fill="none" stroke="#0000ff" stroke-width="1.3"/>
<circle cx="276.90" cy="387.99" r="2.8" fill="none" stroke="#0000ff" stroke-width="1.3"/>
<circle cx="276.90" cy="386.91" r="2.8" fill="none" stroke="#0000ff" stroke-width="1.3"/>
<circle cx="276.90" cy="385.87" r="2.8" fill="none" stroke="#0000ff" stroke-width="1.3"/>
<circle cx="276.90" cy="384.86" r="2.8" fill="none" stroke="#0000ff" stroke-width="1.3"/>
<circle cx="276.90" cy="383.88" r="2.8" fill="none" stroke="#0000ff" stroke-width="1.3"/>
<circle cx="276.90" cy="382.93" r="2.8" fill="none" stroke="#0000ff" stroke-width="1.3"/>
<circle cx="276.90" cy="382.01" r="2.8" fill="none" stroke="#0000ff" stroke-width="1.3"/>
<circle cx="276.90" cy="381.11" r="2.8" fill="none" stroke="#0000ff" stroke-width="1.3"/>
<circle cx="276.90" cy="380.23" r="2.8" fill="none" stroke="#0000ff" stroke-width="1.3"/>
<circle cx="276.90" cy="379.37" r="2.8" fill="none" stroke="#0000ff" stroke-width="1.3"/>
<circle cx="276.90" cy="378.53" r="2.8" fill="none" stroke="#0000ff" stroke-width="1.3"/>
<circle cx="276.90" cy="377.70" r="2.8" fill="none" stroke="#0000ff" stroke-width="1.3"/>
<circle cx="276.90" cy="376.89" r="2.8" fill="none" stroke="#0000ff" stroke-width="1.3"/>
<circle cx="276.90" cy="376.09" r="2.8" fill="none" stroke="#0000ff" stroke-width="1.3"/>
<circle cx="276.90" cy="375.30" r="2.8" fill="none" stroke="#0000ff" stroke-width="1.3"/>
<circle cx="276.90" cy="374.53" r="2.8" fill="none" stroke="#0000ff" stroke-width="1.3"/>
<circle cx="276.90" cy="373.76" r="2.8" fill="none" stroke="#0000ff" stroke-width="1.3"/>
<circle cx="276.90" cy="373.01" r="2.8" fill="none" stroke="#0000ff" stroke-width="1.3"/>
<circle cx="276.90" cy="372.26" r="2.8" fill="none" stroke="#0000ff" stroke-width="1.3"/>
<circle cx="276.90" cy="371.52" r="2.8" fill="none" stroke="#0000ff" stroke-width="1.3"/>
<circle cx="276.90" cy="370.79" r="2.8" fill="none" stroke="#0000ff" stroke-width="1.3"/>
<circle cx="276.90" cy="370.06" r="2.8" fill="none" stroke="#0000ff" stroke-width="1.3"/>
<circle cx="276.90" cy="369.35" r="2.8" fill="none" stroke="#0000ff" stroke-width="1.3"/>
<circle cx="276.90" cy="368.63" r="2.8" fill="none" stroke="#0000ff" stroke-width="1.3"/>
<circle cx="276.90" cy="367.93" r="2.8" fill="none" stroke="#0000ff" stroke-width="1.3"/>
<circle cx="276.90" cy="367.22" r="2.8" fill="none" stroke="#0000ff" stroke-width="1.3"/>
<circle cx="276.90" cy="366.52" r="2.8" fill="none" stroke="#0000ff" stroke-width="1.3"/>
<circle cx="276.90" cy="365.83" r="2.8" fill="none" stroke="#0000ff" stroke-width="1.3"/>
<circle cx="276.90" cy="365.13" r="2.8" fill="none" stroke="#0000ff" stroke-width="1.3"/>
<circle cx="276.90" cy="364.44" r="2.8" fill="none" stroke="#0000ff" stroke-width="1.3"/>
<circle cx="276.90" cy="363.75" r="2.8" fill="none" stroke="#0000ff" stroke-width="1.3"/>
<circle cx="276.90" cy="363.07" r="2.8" fill="none" stroke="#0000ff" stroke-width="1.3"/>
<circle cx="276.90" cy="362.38" r="2.8" fill="none" stroke="#0000ff" stroke-width="1.3"/>
<circle cx="276.90" cy="361.69" r="2.8" fill="none" stroke="#0000ff" stroke-width="1.3"/>
<circle cx="276.90" cy="361.01" r="2.8" fill="none" stroke="#0000ff" stroke-width="1.3"/>
<circle cx="276.90" cy="360.32" r="2.8" fill="none" stroke="#0000ff" stroke-width="1.3"/>
<circle cx="276.90" cy="359.63" r="2.8" fill="none" stroke="#0000ff" stroke-width="1.3"/>
<circle cx="276.90" cy="358.95" r="2.8" fill="none" stroke="#0000ff" stroke-width="1.3"/>
<circle cx="276.90" cy="358.26" r="2.8" fill="none" stroke="#0000ff" stroke-width="1.3"/>
<circle cx="276.90" cy="357.57" r="2.8" fill="none" stroke="#0000ff" stroke-width="1.3"/>
<circle cx="276.90" cy="356.87" r="2.8" fill="none" stroke="#0000ff" stroke-width="1.3"/>
<circle cx="276.90" cy="356.18" r="2.8" fill="none" stroke="#0000ff" stroke-width="1.3"/>
<circle cx="276.90" cy="355.48" r="2.8" fill="none" stroke="#0000ff" stroke-width="1.3"/>
<circle cx="276.90" cy="354.77" r="2.8" fill="none" stroke="#0000ff" stroke-width="1.3"/>
<circle cx="276.90" cy="354.07" r="2.8" fill="none" stroke="#0000ff" stroke-width="1.3"/>
<circle cx="276.90" cy="353.35" r="2.8" fill="none" stroke="#0000ff" stroke-width="1.3"/>
<circle cx="276.90" cy="352.64" r="2.8" fill="none" stroke="#0000ff" stroke-width="1.3"/>
<circle cx="276.90" cy="351.91" r="2.8" fill="none" stroke="#0000ff" stroke-width="1.3"/>
<circle cx="276.90" cy="351.18" r="2.8" fill="none" stroke="#0000ff" stroke-width="1.3"/>
<circle cx="276.90" cy="350.44" r="2.8" fill="none" stroke="#0000ff" stroke-width="1.3"/>
<circle cx="276.90" cy="349.69" r="2.8" fill="none" stroke="#0000ff" stroke-width="1.3"/>
<circle cx="276.90" cy="348.94" r="2.8" fill="none" stroke="#0000ff" stroke-width="1.3"/>
<circle cx="276.90" cy="348.17" r="2.8" fill="none" stroke="#0000ff" stroke-width="1.3"/>
<circle cx="276.90" cy="347.40" r="2.8" fill="none" stroke="#0000ff" stroke-width="1.3"/>
<circle cx="276.90" cy="346.61" r="2.8" fill="none" stroke="#0000ff" stroke-width="1.3"/>
<circle cx="276.90" cy="345.81" r="2.8" fill="none" stroke="#0000ff" stroke-width="1.3"/>
<circle cx="276.90" cy="345.00" r="2.8" fill="none" stroke="#0000ff" stroke-width="1.3"/>
<circle cx="276.90" cy="344.17" r="2.8" fill="none" stroke="#0000ff" stroke-width="1.3"/>
<circle cx="276.90" cy="343.33" r="2.8" fill="none" stroke="#0000ff" stroke-width="1.3"/>
<circle cx="276.90" cy="342.47" r="2.8" fill="none" stroke="#0000ff" stroke-width="1.3"/>
<circle cx="276.90" cy="341.59" r="2.8" fill="none" stroke="#0000ff" stroke-width="1.3"/>
<circle cx="282.69" cy="340.69" r="2.8" fill="none" stroke="#0000ff" stroke-width="1.3"/>
<circle cx="282.69" cy="339.77" r="2.8" fill="none" stroke="#0000ff" stroke-width="1.3"/>
<circle cx="282.69" cy="338.82" r="2.8" fill="none" stroke="#0000ff" stroke-width="1.3"/>
<circle cx="282.69" cy="337.84" r="2.8" fill="none" stroke="#0000ff" stroke-width="1.3"/>
<circle cx="282.69" cy="336.83" r="2.8" fill="none" stroke="#0000ff" stroke-width="1.3"/>
<circle cx="282.69" cy="335.79" r="2.8" fill="none" stroke="#0000ff" stroke-width="1.3"/>
<circle cx="282.69" cy="334.71" r="2.8" fill="none" stroke="#0000ff" stroke-width="1.3"/>
<circle cx="282.69" cy="333.58" r="2.8" fill="none" stroke="#0000ff" stroke-width="1.3"/>
<circle cx="282.69" cy="332.41" r="2.8" fill="none" stroke="#0000ff" stroke-width="1.3"/>
<circle cx="282.69" cy="331.18" r="2.8" fill="none" stroke="#0000ff" stroke-width="1.3"/>
<circle cx="282.69" cy="329.89" r="2.8" fill="none" stroke="#0000ff" stroke-width="1.3"/>
<circle cx="282.69" cy="328.52" r="2.8" fill="none" stroke="#0000ff" stroke-width="1.3"/>
<circle cx="282.69" cy="327.06" r="2.8" fill="none" stroke="#0000ff" stroke-width="1.3"/>
<circle cx="282.69" cy="325.51" r="2.8" fill="none" stroke="#0000ff" stroke-width="1.3"/>
<circle cx="282.69" cy="323.82" r="2.8" fill="none" stroke="#0000ff" stroke-width="1.3"/>
<circle cx="282.69" cy="321.98" r="2.8" fill="none" stroke="#0000ff" stroke-width="1.3"/>
<circle cx="282.69" cy="319.94" r="2.8" fill="none" stroke="#0000ff" stroke-width="1.3"/>
<circle cx="282.69" cy="317.64" r="2.8" fill="none" stroke="#0000ff" stroke-width="1.3"/>
<circle cx="287.42" cy="314.98" r="2.8" fill="none" stroke="#0000ff" stroke-width="1.3"/>
<circle cx="298.47" cy="311.79" r="2.8" fill="none" stroke="#0000ff" stroke-width="1.3"/>
<circle cx="298.47" cy="307.74" r="2.8" fill="none" stroke="#0000ff" stroke-width="1.3"/>
<circle cx="298.47" cy="302.00" r="2.8" fill="none" stroke="#0000ff" stroke-width="1.3"/>
<circle cx="303.46" cy="290.90" r="2.8" fill="none" stroke="#0000ff" stroke-width="1.3"/>
<rect x="224.30" y="279.30" width="105.20" height="164.10" fill="none" stroke="#2b2b2b" stroke-width="1.3"/>
<line x1="224.30" y1="424.98" x2="227.30" y2="424.98" stroke="#2b2b2b" stroke-width="1.0" />
<line x1="329.50" y1="424.98" x2="326.50" y2="424.98" stroke="#2b2b2b" stroke-width="1.0" />
<line x1="224.30" y1="406.34" x2="227.30" y2="406.34" stroke="#2b2b2b" stroke-width="1.0" />
<line x1="329.50" y1="406.34" x2="326.50" y2="406.34" stroke="#2b2b2b" stroke-width="1.0" />
<line x1="224.30" y1="396.40" x2="227.30" y2="396.40" stroke="#2b2b2b" stroke-width="1.0" />
<line x1="329.50" y1="396.40" x2="326.50" y2="396.40" stroke="#2b2b2b" stroke-width="1.0" />
<line x1="224.30" y1="379.80" x2="227.30" y2="379.80" stroke="#2b2b2b" stroke-width="1.0" />
<line x1="329.50" y1="379.80" x2="326.50" y2="379.80" stroke="#2b2b2b" stroke-width="1.0" />
<line x1="224.30" y1="361.35" x2="227.30" y2="361.35" stroke="#2b2b2b" stroke-width="1.0" />
<line x1="329.50" y1="361.35" x2="326.50" y2="361.35" stroke="#2b2b2b" stroke-width="1.0" />
<line x1="224.30" y1="342.90" x2="227.30" y2="342.90" stroke="#2b2b2b" stroke-width="1.0" />
<line x1="329.50" y1="342.90" x2="326.50" y2="342.90" stroke="#2b2b2b" stroke-width="1.0" />
<line x1="224.30" y1="326.30" x2="227.30" y2="326.30" stroke="#2b2b2b" stroke-width="1.0" />
<line x1="329.50" y1="326.30" x2="326.50" y2="326.30" stroke="#2b2b2b" stroke-width="1.0" />
<line x1="224.30" y1="316.36" x2="227.30" y2="316.36" stroke="#2b2b2b" stroke-width="1.0" />
<line x1="329.50" y1="316.36" x2="326.50" y2="316.36" stroke="#2b2b2b" stroke-width="1.0" />
<line x1="224.30" y1="297.72" x2="227.30" y2="297.72" stroke="#2b2b2b" stroke-width="1.0" />
<line x1="329.50" y1="297.72" x2="326.50" y2="297.72" stroke="#2b2b2b" stroke-width="1.0" />
<line x1="224.30" y1="443.40" x2="224.30" y2="440.40" stroke="#2b2b2b" stroke-width="1.0" />
<line x1="224.30" y1="279.30" x2="224.30" y2="282.30" stroke="#2b2b2b" stroke-width="1.0" />
<text x="228.33" y="458.60" font-size="14.5" text-anchor="end" fill="#080808" font-weight="normal" font-family='"Liberation Sans", sans-serif' >-3</text>
<line x1="276.90" y1="443.40" x2="276.90" y2="440.40" stroke="#2b2b2b" stroke-width="1.0" />
<line x1="276.90" y1="279.30" x2="276.90" y2="282.30" stroke="#2b2b2b" stroke-width="1.0" />
<text x="280.93" y="458.60" font-size="14.5" text-anchor="end" fill="#080808" font-weight="normal" font-family='"Liberation Sans", sans-serif' >-2</text>
<line x1="329.50" y1="443.40" x2="329.50" y2="440.40" stroke="#2b2b2b" stroke-width="1.0" />
<line x1="329.50" y1="279.30" x2="329.50" y2="282.30" stroke="#2b2b2b" stroke-width="1.0" />
<text x="333.53" y="458.60" font-size="14.5" text-anchor="end" fill="#080808" font-weight="normal" font-family='"Liberation Sans", sans-serif' >-1</text>
<text x="219.80" y="430.18" font-size="14.5" text-anchor="end" fill="#080808" font-weight="normal" font-family='"Liberation Sans", sans-serif' >1 %</text>
<text x="219.80" y="411.54" font-size="14.5" text-anchor="end" fill="#080808" font-weight="normal" font-family='"Liberation Sans", sans-serif' >5 %</text>
<text x="219.80" y="401.60" font-size="14.5" text-anchor="end" fill="#080808" font-weight="normal" font-family='"Liberation Sans", sans-serif' >10 %</text>
<text x="219.80" y="385.00" font-size="14.5" text-anchor="end" fill="#080808" font-weight="normal" font-family='"Liberation Sans", sans-serif' >25 %</text>
<text x="219.80" y="366.55" font-size="14.5" text-anchor="end" fill="#080808" font-weight="normal" font-family='"Liberation Sans", sans-serif' >50 %</text>
<text x="219.80" y="348.10" font-size="14.5" text-anchor="end" fill="#080808" font-weight="normal" font-family='"Liberation Sans", sans-serif' >75 %</text>
<text x="219.80" y="331.50" font-size="14.5" text-anchor="end" fill="#080808" font-weight="normal" font-family='"Liberation Sans", sans-serif' >90 %</text>
<text x="219.80" y="321.56" font-size="14.5" text-anchor="end" fill="#080808" font-weight="normal" font-family='"Liberation Sans", sans-serif' >95 %</text>
<text x="219.80" y="302.92" font-size="14.5" text-anchor="end" fill="#080808" font-weight="normal" font-family='"Liberation Sans", sans-serif' >99 %</text>
<text transform="translate(179.8,362.0) rotate(-90)" font-size="15.2" letter-spacing="0.15" text-anchor="middle" fill="#080808" font-family='"Liberation Sans", sans-serif'>CDF [%]</text>
<text x="274.80" y="473.20" font-size="14.5" text-anchor="middle" fill="#080808" font-weight="normal" font-family='"Liberation Sans", sans-serif' letter-spacing="0.5">Voltage [V]</text>
<line x1="590.90" y1="262.95" x2="590.90" y2="296.00" stroke="#c0504d" stroke-width="0.9" stroke-dasharray="3,2"/>
<line x1="590.90" y1="366.00" x2="590.90" y2="381.00" stroke="#f3c88a" stroke-width="0.85" stroke-dasharray="3,2"/>
<rect x="549" y="381" width="112" height="79" fill="#ffffff"/>
<line x1="567.4" y1="431.2" x2="655.4" y2="431.2" stroke="#f3b8a8" stroke-width="1.4"/>
<circle cx="568.40" cy="431.2" r="0.7" fill="#c8402a"/>
<circle cx="569.86" cy="431.2" r="0.7" fill="#c8402a"/>
<circle cx="571.32" cy="431.2" r="0.7" fill="#c8402a"/>
<circle cx="572.77" cy="431.2" r="0.7" fill="#c8402a"/>
<circle cx="574.23" cy="431.2" r="0.7" fill="#c8402a"/>
<circle cx="575.69" cy="431.2" r="0.7" fill="#c8402a"/>
<circle cx="577.15" cy="431.2" r="0.7" fill="#c8402a"/>
<circle cx="578.60" cy="431.2" r="0.7" fill="#c8402a"/>
<circle cx="580.06" cy="431.2" r="0.7" fill="#c8402a"/>
<circle cx="581.52" cy="431.2" r="0.7" fill="#c8402a"/>
<circle cx="582.98" cy="431.2" r="0.7" fill="#c8402a"/>
<circle cx="584.43" cy="431.2" r="0.7" fill="#c8402a"/>
<circle cx="585.89" cy="431.2" r="0.7" fill="#c8402a"/>
<circle cx="587.35" cy="431.2" r="0.7" fill="#c8402a"/>
<circle cx="588.81" cy="431.2" r="0.7" fill="#c8402a"/>
<circle cx="590.26" cy="431.2" r="0.7" fill="#c8402a"/>
<circle cx="591.72" cy="431.2" r="0.7" fill="#c8402a"/>
<circle cx="593.18" cy="431.2" r="0.7" fill="#c8402a"/>
<circle cx="594.64" cy="431.2" r="0.7" fill="#c8402a"/>
<circle cx="596.09" cy="431.2" r="0.7" fill="#c8402a"/>
<circle cx="597.55" cy="431.2" r="0.7" fill="#c8402a"/>
<circle cx="599.01" cy="431.2" r="0.7" fill="#c8402a"/>
<circle cx="600.47" cy="431.2" r="0.7" fill="#c8402a"/>
<circle cx="601.93" cy="431.2" r="0.7" fill="#c8402a"/>
<circle cx="603.38" cy="431.2" r="0.7" fill="#c8402a"/>
<circle cx="604.84" cy="431.2" r="0.7" fill="#c8402a"/>
<circle cx="606.30" cy="431.2" r="0.7" fill="#c8402a"/>
<circle cx="607.76" cy="431.2" r="0.7" fill="#c8402a"/>
<circle cx="609.21" cy="431.2" r="0.7" fill="#c8402a"/>
<circle cx="610.67" cy="431.2" r="0.7" fill="#c8402a"/>
<circle cx="612.13" cy="431.2" r="0.7" fill="#c8402a"/>
<circle cx="613.59" cy="431.2" r="0.7" fill="#c8402a"/>
<circle cx="615.04" cy="431.2" r="0.7" fill="#c8402a"/>
<circle cx="616.50" cy="431.2" r="0.7" fill="#c8402a"/>
<circle cx="617.96" cy="431.2" r="0.7" fill="#c8402a"/>
<circle cx="619.42" cy="431.2" r="0.7" fill="#c8402a"/>
<circle cx="620.87" cy="431.2" r="0.7" fill="#c8402a"/>
<circle cx="622.33" cy="431.2" r="0.7" fill="#c8402a"/>
<circle cx="623.79" cy="431.2" r="0.7" fill="#c8402a"/>
<circle cx="625.25" cy="431.2" r="0.7" fill="#c8402a"/>
<circle cx="626.71" cy="431.2" r="0.7" fill="#c8402a"/>
<circle cx="628.16" cy="431.2" r="0.7" fill="#c8402a"/>
<circle cx="629.62" cy="431.2" r="0.7" fill="#c8402a"/>
<circle cx="631.08" cy="431.2" r="0.7" fill="#c8402a"/>
<circle cx="632.54" cy="431.2" r="0.7" fill="#c8402a"/>
<circle cx="633.99" cy="431.2" r="0.7" fill="#c8402a"/>
<circle cx="635.45" cy="431.2" r="0.7" fill="#c8402a"/>
<circle cx="636.91" cy="431.2" r="0.7" fill="#c8402a"/>
<circle cx="638.37" cy="431.2" r="0.7" fill="#c8402a"/>
<circle cx="639.82" cy="431.2" r="0.7" fill="#c8402a"/>
<circle cx="641.28" cy="431.2" r="0.7" fill="#c8402a"/>
<circle cx="642.74" cy="431.2" r="0.7" fill="#c8402a"/>
<circle cx="644.20" cy="431.2" r="0.7" fill="#c8402a"/>
<circle cx="645.65" cy="431.2" r="0.7" fill="#c8402a"/>
<circle cx="647.11" cy="431.2" r="0.7" fill="#c8402a"/>
<circle cx="648.57" cy="431.2" r="0.7" fill="#c8402a"/>
<circle cx="650.03" cy="431.2" r="0.7" fill="#c8402a"/>
<circle cx="651.48" cy="431.2" r="0.7" fill="#c8402a"/>
<circle cx="652.94" cy="431.2" r="0.7" fill="#c8402a"/>
<circle cx="654.40" cy="431.2" r="0.7" fill="#c8402a"/>
<path d="M568.31,401.60 L570.01,401.60 L569.16,403.15 Z" fill="#eeaa35"/>
<path d="M570.07,398.99 L571.77,398.99 L570.92,400.54 Z" fill="#eeaa35"/>
<path d="M571.83,399.07 L573.53,399.07 L572.68,400.62 Z" fill="#eeaa35"/>
<path d="M573.59,399.31 L575.29,399.31 L574.44,400.86 Z" fill="#eeaa35"/>
<path d="M575.35,398.98 L577.05,398.98 L576.20,400.53 Z" fill="#eeaa35"/>
<path d="M577.11,406.60 L578.81,406.60 L577.96,408.15 Z" fill="#eeaa35"/>
<path d="M578.87,397.85 L580.57,397.85 L579.72,399.40 Z" fill="#eeaa35"/>
<path d="M580.63,400.30 L582.33,400.30 L581.48,401.85 Z" fill="#eeaa35"/>
<path d="M582.39,405.90 L584.09,405.90 L583.24,407.45 Z" fill="#eeaa35"/>
<path d="M584.15,398.84 L585.85,398.84 L585.00,400.39 Z" fill="#eeaa35"/>
<path d="M585.91,399.24 L587.61,399.24 L586.76,400.79 Z" fill="#eeaa35"/>
<path d="M587.67,397.98 L589.37,397.98 L588.52,399.53 Z" fill="#eeaa35"/>
<path d="M589.43,398.55 L591.13,398.55 L590.28,400.10 Z" fill="#eeaa35"/>
<path d="M591.19,398.19 L592.89,398.19 L592.04,399.74 Z" fill="#eeaa35"/>
<path d="M592.95,398.67 L594.65,398.67 L593.80,400.22 Z" fill="#eeaa35"/>
<path d="M594.71,398.72 L596.41,398.72 L595.56,400.27 Z" fill="#eeaa35"/>
<path d="M596.47,397.82 L598.17,397.82 L597.32,399.37 Z" fill="#eeaa35"/>
<path d="M598.23,398.15 L599.93,398.15 L599.08,399.70 Z" fill="#eeaa35"/>
<path d="M599.99,398.25 L601.69,398.25 L600.84,399.80 Z" fill="#eeaa35"/>
<path d="M601.75,399.27 L603.45,399.27 L602.60,400.82 Z" fill="#eeaa35"/>
<path d="M603.51,399.03 L605.21,399.03 L604.36,400.58 Z" fill="#eeaa35"/>
<path d="M605.27,398.06 L606.97,398.06 L606.12,399.61 Z" fill="#eeaa35"/>
<path d="M607.03,399.08 L608.73,399.08 L607.88,400.63 Z" fill="#eeaa35"/>
<path d="M608.79,398.02 L610.49,398.02 L609.64,399.57 Z" fill="#eeaa35"/>
<path d="M610.55,398.79 L612.25,398.79 L611.40,400.34 Z" fill="#eeaa35"/>
<path d="M612.31,398.00 L614.01,398.00 L613.16,399.55 Z" fill="#eeaa35"/>
<path d="M614.07,397.80 L615.77,397.80 L614.92,399.35 Z" fill="#eeaa35"/>
<path d="M615.83,399.19 L617.53,399.19 L616.68,400.74 Z" fill="#eeaa35"/>
<path d="M617.59,398.14 L619.29,398.14 L618.44,399.69 Z" fill="#eeaa35"/>
<path d="M619.35,398.14 L621.05,398.14 L620.20,399.69 Z" fill="#eeaa35"/>
<path d="M621.11,399.37 L622.81,399.37 L621.96,400.92 Z" fill="#eeaa35"/>
<path d="M622.87,399.20 L624.57,399.20 L623.72,400.75 Z" fill="#eeaa35"/>
<path d="M624.63,398.26 L626.33,398.26 L625.48,399.81 Z" fill="#eeaa35"/>
<path d="M626.39,399.34 L628.09,399.34 L627.24,400.89 Z" fill="#eeaa35"/>
<path d="M628.15,398.66 L629.85,398.66 L629.00,400.21 Z" fill="#eeaa35"/>
<path d="M629.91,398.88 L631.61,398.88 L630.76,400.43 Z" fill="#eeaa35"/>
<path d="M631.67,398.13 L633.37,398.13 L632.52,399.68 Z" fill="#eeaa35"/>
<path d="M633.43,399.31 L635.13,399.31 L634.28,400.86 Z" fill="#eeaa35"/>
<path d="M635.19,398.91 L636.89,398.91 L636.04,400.46 Z" fill="#eeaa35"/>
<path d="M636.95,399.35 L638.65,399.35 L637.80,400.90 Z" fill="#eeaa35"/>
<path d="M638.71,399.23 L640.41,399.23 L639.56,400.78 Z" fill="#eeaa35"/>
<path d="M640.47,398.28 L642.17,398.28 L641.32,399.83 Z" fill="#eeaa35"/>
<path d="M642.23,398.38 L643.93,398.38 L643.08,399.93 Z" fill="#eeaa35"/>
<path d="M643.99,398.07 L645.69,398.07 L644.84,399.62 Z" fill="#eeaa35"/>
<path d="M645.75,398.03 L647.45,398.03 L646.60,399.58 Z" fill="#eeaa35"/>
<path d="M647.51,397.90 L649.21,397.90 L648.36,399.45 Z" fill="#eeaa35"/>
<path d="M649.27,398.28 L650.97,398.28 L650.12,399.83 Z" fill="#eeaa35"/>
<path d="M651.03,398.76 L652.73,398.76 L651.88,400.31 Z" fill="#eeaa35"/>
<path d="M652.79,397.81 L654.49,397.81 L653.64,399.36 Z" fill="#eeaa35"/>
<path d="M654.55,398.88 L656.25,398.88 L655.40,400.43 Z" fill="#eeaa35"/>
<rect x="567.4" y="383.6" width="88.0" height="65.5" fill="none" stroke="#777" stroke-width="0.6"/>
<line x1="567.4" y1="383.60" x2="568.6" y2="383.60" stroke="#555" stroke-width="0.4"/>
<text x="566.60" y="384.90" font-size="3.6" text-anchor="end" fill="#333" font-family='"Liberation Sans", sans-serif'>10<tspan font-size="2.5" dy="-1.4">9</tspan></text>
<line x1="567.4" y1="394.52" x2="568.6" y2="394.52" stroke="#555" stroke-width="0.4"/>
<text x="566.60" y="395.82" font-size="3.6" text-anchor="end" fill="#333" font-family='"Liberation Sans", sans-serif'>10<tspan font-size="2.5" dy="-1.4">8</tspan></text>
<line x1="567.4" y1="405.43" x2="568.6" y2="405.43" stroke="#555" stroke-width="0.4"/>
<text x="566.60" y="406.73" font-size="3.6" text-anchor="end" fill="#333" font-family='"Liberation Sans", sans-serif'>10<tspan font-size="2.5" dy="-1.4">7</tspan></text>
<line x1="567.4" y1="416.35" x2="568.6" y2="416.35" stroke="#555" stroke-width="0.4"/>
<text x="566.60" y="417.65" font-size="3.6" text-anchor="end" fill="#333" font-family='"Liberation Sans", sans-serif'>10<tspan font-size="2.5" dy="-1.4">6</tspan></text>
<line x1="567.4" y1="427.27" x2="568.6" y2="427.27" stroke="#555" stroke-width="0.4"/>
<text x="566.60" y="428.57" font-size="3.6" text-anchor="end" fill="#333" font-family='"Liberation Sans", sans-serif'>10<tspan font-size="2.5" dy="-1.4">5</tspan></text>
<line x1="567.4" y1="438.18" x2="568.6" y2="438.18" stroke="#555" stroke-width="0.4"/>
<text x="566.60" y="439.48" font-size="3.6" text-anchor="end" fill="#333" font-family='"Liberation Sans", sans-serif'>10<tspan font-size="2.5" dy="-1.4">4</tspan></text>
<line x1="567.4" y1="449.10" x2="568.6" y2="449.10" stroke="#555" stroke-width="0.4"/>
<text x="566.60" y="450.40" font-size="3.6" text-anchor="end" fill="#333" font-family='"Liberation Sans", sans-serif'>10<tspan font-size="2.5" dy="-1.4">3</tspan></text>
<text x="567.40" y="453.6" font-size="3.6" text-anchor="middle" fill="#333" font-family='"Liberation Sans", sans-serif'>0</text>
<text x="585.00" y="453.6" font-size="3.6" text-anchor="middle" fill="#333" font-family='"Liberation Sans", sans-serif'>10</text>
<text x="602.60" y="453.6" font-size="3.6" text-anchor="middle" fill="#333" font-family='"Liberation Sans", sans-serif'>20</text>
<text x="620.20" y="453.6" font-size="3.6" text-anchor="middle" fill="#333" font-family='"Liberation Sans", sans-serif'>30</text>
<text x="637.80" y="453.6" font-size="3.6" text-anchor="middle" fill="#333" font-family='"Liberation Sans", sans-serif'>40</text>
<text x="655.40" y="453.6" font-size="3.6" text-anchor="middle" fill="#333" font-family='"Liberation Sans", sans-serif'>50</text>
<text x="611.4" y="457.6" font-size="4" text-anchor="middle" fill="#333" font-family='"Liberation Sans", sans-serif'>Switching cycle (#)</text>
<text transform="translate(558.4,416.4) rotate(-90)" font-size="4" text-anchor="middle" fill="#333" font-family='"Liberation Sans", sans-serif'>Cell resistance, [Ω]</text>
<circle cx="642.6" cy="440.2" r="0.6" fill="#c0402a"/><text x="646.2" y="441.5" font-size="3.2" fill="#444" font-family='"Liberation Sans", sans-serif'>LRS</text>
<path d="M641.9,443.3 L643.3,443.3 L642.6,444.5 Z" fill="#f0b040"/><text x="646.2" y="445.1" font-size="3.2" fill="#444" font-family='"Liberation Sans", sans-serif'>HRS</text>
<circle cx="528.10" cy="429.90" r="2.45" fill="#57b998"/>
<circle cx="528.90" cy="423.30" r="2.45" fill="#57b998"/>
<circle cx="530.10" cy="416.70" r="2.45" fill="#57b998"/>
<circle cx="531.30" cy="409.80" r="2.45" fill="#57b998"/>
<circle cx="533.50" cy="404.50" r="2.45" fill="#57b998"/>
<circle cx="536.40" cy="401.00" r="2.45" fill="#57b998"/>
<circle cx="539.90" cy="395.90" r="2.45" fill="#57b998"/>
<circle cx="543.50" cy="392.10" r="2.45" fill="#57b998"/>
<circle cx="547.40" cy="387.80" r="2.45" fill="#57b998"/>
<circle cx="551.00" cy="384.00" r="2.45" fill="#57b998"/>
<circle cx="555.10" cy="380.50" r="2.45" fill="#57b998"/>
<circle cx="558.70" cy="376.90" r="2.45" fill="#57b998"/>
<circle cx="562.30" cy="373.60" r="2.45" fill="#57b998"/>
<circle cx="565.80" cy="370.20" r="2.45" fill="#57b998"/>
<circle cx="569.30" cy="367.00" r="2.45" fill="#57b998"/>
<circle cx="572.40" cy="365.30" r="2.45" fill="#57b998"/>
<circle cx="575.60" cy="362.90" r="2.45" fill="#57b998"/>
<circle cx="579.10" cy="359.30" r="2.45" fill="#57b998"/>
<circle cx="582.70" cy="355.70" r="2.45" fill="#57b998"/>
<circle cx="586.30" cy="352.10" r="2.45" fill="#57b998"/>
<circle cx="590.60" cy="348.00" r="2.45" fill="#57b998"/>
<circle cx="594.70" cy="344.20" r="2.45" fill="#57b998"/>
<circle cx="597.80" cy="341.30" r="2.45" fill="#57b998"/>
<circle cx="600.70" cy="337.80" r="2.45" fill="#57b998"/>
<circle cx="602.60" cy="333.00" r="2.45" fill="#57b998"/>
<circle cx="603.80" cy="327.50" r="2.45" fill="#57b998"/>
<circle cx="605.00" cy="322.20" r="2.45" fill="#57b998"/>
<circle cx="606.70" cy="316.20" r="2.45" fill="#57b998"/>
<circle cx="607.80" cy="310.20" r="2.45" fill="#57b998"/>
<circle cx="609.00" cy="304.30" r="2.45" fill="#57b998"/>
<circle cx="610.20" cy="299.50" r="2.45" fill="#57b998"/>
<circle cx="611.40" cy="295.90" r="2.45" fill="#57b998"/>
<circle cx="580.20" cy="298.20" r="2.45" fill="#57b998"/>
<circle cx="577.20" cy="304.30" r="2.45" fill="#57b998"/>
<circle cx="576.30" cy="310.20" r="2.45" fill="#57b998"/>
<circle cx="575.60" cy="316.20" r="2.45" fill="#57b998"/>
<circle cx="575.10" cy="322.70" r="2.45" fill="#57b998"/>
<circle cx="574.80" cy="329.40" r="2.45" fill="#57b998"/>
<circle cx="574.40" cy="336.60" r="2.45" fill="#57b998"/>
<circle cx="573.90" cy="343.70" r="2.45" fill="#57b998"/>
<circle cx="573.60" cy="350.90" r="2.45" fill="#57b998"/>
<circle cx="573.60" cy="358.10" r="2.45" fill="#57b998"/>
<circle cx="582.30" cy="292.60" r="2.45" fill="#57b998"/>
<circle cx="585.70" cy="292.60" r="2.45" fill="#57b998"/>
<circle cx="589.10" cy="292.60" r="2.45" fill="#57b998"/>
<circle cx="592.50" cy="292.60" r="2.45" fill="#57b998"/>
<circle cx="595.90" cy="292.60" r="2.45" fill="#57b998"/>
<circle cx="599.30" cy="292.60" r="2.45" fill="#57b998"/>
<circle cx="602.70" cy="292.60" r="2.45" fill="#57b998"/>
<circle cx="606.10" cy="292.60" r="2.45" fill="#57b998"/>
<circle cx="609.50" cy="292.60" r="2.45" fill="#57b998"/>
<circle cx="612.90" cy="292.60" r="2.45" fill="#57b998"/>
<circle cx="616.30" cy="292.60" r="2.45" fill="#57b998"/>
<circle cx="619.70" cy="292.60" r="2.45" fill="#57b998"/>
<circle cx="437.80" cy="292.20" r="2.5" fill="#2e5d8c"/>
<circle cx="440.95" cy="292.20" r="2.5" fill="#2e5d8c"/>
<circle cx="444.10" cy="292.20" r="2.5" fill="#2e5d8c"/>
<circle cx="447.25" cy="292.20" r="2.5" fill="#2e5d8c"/>
<circle cx="450.40" cy="292.20" r="2.5" fill="#2e5d8c"/>
<circle cx="453.55" cy="292.20" r="2.5" fill="#2e5d8c"/>
<circle cx="456.70" cy="292.20" r="2.5" fill="#2e5d8c"/>
<circle cx="459.85" cy="292.20" r="2.5" fill="#2e5d8c"/>
<circle cx="460.90" cy="294.30" r="2.5" fill="#2e5d8c"/>
<circle cx="460.50" cy="299.40" r="2.5" fill="#2e5d8c"/>
<circle cx="460.90" cy="304.70" r="2.5" fill="#2e5d8c"/>
<circle cx="461.30" cy="309.50" r="2.5" fill="#2e5d8c"/>
<circle cx="461.70" cy="314.30" r="2.5" fill="#2e5d8c"/>
<circle cx="462.10" cy="318.50" r="2.5" fill="#2e5d8c"/>
<circle cx="462.30" cy="323.90" r="2.5" fill="#2e5d8c"/>
<circle cx="462.50" cy="328.10" r="2.5" fill="#2e5d8c"/>
<circle cx="463.30" cy="333.40" r="2.5" fill="#2e5d8c"/>
<circle cx="464.10" cy="338.50" r="2.5" fill="#2e5d8c"/>
<circle cx="442.00" cy="297.00" r="2.5" fill="#2e5d8c"/>
<circle cx="442.60" cy="302.30" r="2.5" fill="#2e5d8c"/>
<circle cx="443.20" cy="306.50" r="2.5" fill="#2e5d8c"/>
<circle cx="443.80" cy="311.30" r="2.5" fill="#2e5d8c"/>
<circle cx="445.00" cy="316.70" r="2.5" fill="#2e5d8c"/>
<circle cx="445.60" cy="323.30" r="2.5" fill="#2e5d8c"/>
<circle cx="446.70" cy="326.90" r="2.5" fill="#2e5d8c"/>
<circle cx="448.50" cy="329.90" r="2.5" fill="#2e5d8c"/>
<circle cx="450.90" cy="331.10" r="2.5" fill="#2e5d8c"/>
<circle cx="453.30" cy="332.80" r="2.5" fill="#2e5d8c"/>
<circle cx="455.10" cy="334.60" r="2.5" fill="#2e5d8c"/>
<circle cx="458.10" cy="337.60" r="2.5" fill="#2e5d8c"/>
<circle cx="460.90" cy="340.00" r="2.5" fill="#2e5d8c"/>
<circle cx="464.10" cy="341.60" r="2.5" fill="#2e5d8c"/>
<circle cx="465.90" cy="344.20" r="2.5" fill="#2e5d8c"/>
<circle cx="468.80" cy="348.80" r="2.5" fill="#2e5d8c"/>
<circle cx="472.70" cy="352.70" r="2.5" fill="#2e5d8c"/>
<circle cx="476.80" cy="357.20" r="2.5" fill="#2e5d8c"/>
<circle cx="479.90" cy="360.80" r="2.5" fill="#2e5d8c"/>
<circle cx="482.50" cy="363.40" r="2.5" fill="#2e5d8c"/>
<circle cx="485.20" cy="365.80" r="2.5" fill="#2e5d8c"/>
<circle cx="487.90" cy="367.90" r="2.5" fill="#2e5d8c"/>
<circle cx="488.80" cy="370.60" r="2.5" fill="#2e5d8c"/>
<circle cx="492.40" cy="372.40" r="2.5" fill="#2e5d8c"/>
<circle cx="495.10" cy="375.10" r="2.5" fill="#2e5d8c"/>
<circle cx="500.10" cy="378.30" r="2.5" fill="#2e5d8c"/>
<circle cx="503.20" cy="381.40" r="2.5" fill="#2e5d8c"/>
<circle cx="507.60" cy="385.80" r="2.5" fill="#2e5d8c"/>
<circle cx="511.20" cy="390.30" r="2.5" fill="#2e5d8c"/>
<circle cx="513.90" cy="393.90" r="2.5" fill="#2e5d8c"/>
<circle cx="516.60" cy="397.50" r="2.5" fill="#2e5d8c"/>
<circle cx="519.20" cy="401.90" r="2.5" fill="#2e5d8c"/>
<circle cx="521.40" cy="407.00" r="2.5" fill="#2e5d8c"/>
<circle cx="523.10" cy="412.60" r="2.5" fill="#2e5d8c"/>
<circle cx="523.60" cy="418.00" r="2.5" fill="#2e5d8c"/>
<circle cx="524.50" cy="423.90" r="2.5" fill="#2e5d8c"/>
<circle cx="524.50" cy="427.70" r="2.5" fill="#2e5d8c"/>
<circle cx="525.10" cy="432.00" r="2.5" fill="#2e5d8c"/>
<circle cx="525.70" cy="438.50" r="2.5" fill="#2e5d8c"/>
<circle cx="527.50" cy="421.50" r="2.5" fill="#2e5d8c"/>
<path d="M457.84,317.17 L457.62,317.73 L457.34,318.27 L457.00,318.77 L456.60,319.23 L456.16,319.64 L455.68,320.01 L455.15,320.31 L454.60,320.55 L454.02,320.74 L453.43,320.85 L452.82,320.90 L452.22,320.88 L451.62,320.79 L451.04,320.64 L450.47,320.42 L449.93,320.14 L449.43,319.80 L448.97,319.41 L448.56,318.97 L448.20,318.48 L447.89,317.96 L447.65,317.40 L447.47,316.83 L447.35,316.23 L447.30,315.63 L447.32,315.02 L447.41,314.43 L447.56,313.84 L447.78,313.28 L448.06,312.74 L448.40,312.24 L448.79,311.78 L449.23,311.36 L449.72,311.00 L450.24,310.69 L450.79,310.45 L451.37,310.27 L451.96,310.15 L452.57,310.10 L453.17,310.12" fill="none" stroke="#2e5d8c" stroke-width="1.1"/>
<path d="M455.50,310.32 L451.72,311.82 L452.03,308.19 Z" fill="#2e5d8c"/>
<path d="M584.91,320.12 L584.99,320.84 L585.15,321.53 L585.39,322.21 L585.70,322.85 L586.09,323.46 L586.55,324.01 L587.06,324.51 L587.63,324.94 L588.25,325.31 L588.90,325.60 L589.59,325.81 L590.29,325.95 L591.01,326.00 L591.72,325.97 L592.43,325.86 L593.12,325.66 L593.78,325.39 L594.41,325.04 L594.99,324.63 L595.52,324.15 L595.99,323.61 L596.40,323.02 L596.74,322.38 L597.00,321.72 L597.18,321.02 L597.28,320.31 L597.30,319.60 L597.23,318.88 L597.09,318.18 L596.86,317.50 L596.56,316.85 L596.18,316.24 L595.73,315.68 L595.23,315.17 L594.67,314.73 L594.06,314.35 L593.41,314.05 L592.73,313.82 L592.03,313.67 L591.32,313.60" fill="none" stroke="#55ad90" stroke-width="1.15"/>
<path d="M588.98,313.52 L592.68,311.83 L592.55,315.47 Z" fill="#55ad90"/>
<text x="593.50" y="282.60" font-size="10" text-anchor="start" fill="#a8382f" font-weight="bold" font-family='"Liberation Sans", sans-serif' letter-spacing="0.25">LRS</text>
<text x="568.30" y="380.50" font-size="10.5" text-anchor="start" fill="#f2b75c" font-weight="bold" font-family='"Liberation Sans", sans-serif' >HRS</text>
<circle cx="403.50" cy="439.70" r="2.4" fill="#57b998"/>
<circle cx="403.50" cy="454.20" r="2.4" fill="#2e5d8c"/>
<text x="419.00" y="444.30" font-size="11" text-anchor="start" fill="#080808" font-weight="normal" font-family='"Liberation Sans", sans-serif' letter-spacing="-0.1">Average of 50 cycles</text>
<text x="419" y="459.0" font-size="11" letter-spacing="-0.1" fill="#080808" font-family='"Liberation Sans", sans-serif'>Cycle 51<tspan font-size="7.5" dx="0.3" dy="-4.6">th</tspan></text>
<rect x="390.56" y="261.95" width="273.38" height="200.80" fill="none" stroke="#2b2b2b" stroke-width="1.3"/>
<line x1="390.56" y1="462.75" x2="394.56" y2="462.75" stroke="#2b2b2b" stroke-width="1.4" />
<line x1="663.94" y1="462.75" x2="659.94" y2="462.75" stroke="#2b2b2b" stroke-width="1.4" />
<line x1="390.56" y1="456.71" x2="392.76" y2="456.71" stroke="#2b2b2b" stroke-width="0.9" />
<line x1="663.94" y1="456.71" x2="661.74" y2="456.71" stroke="#2b2b2b" stroke-width="0.9" />
<line x1="390.56" y1="453.17" x2="392.76" y2="453.17" stroke="#2b2b2b" stroke-width="0.9" />
<line x1="663.94" y1="453.17" x2="661.74" y2="453.17" stroke="#2b2b2b" stroke-width="0.9" />
<line x1="390.56" y1="450.66" x2="392.76" y2="450.66" stroke="#2b2b2b" stroke-width="0.9" />
<line x1="663.94" y1="450.66" x2="661.74" y2="450.66" stroke="#2b2b2b" stroke-width="0.9" />
<line x1="390.56" y1="448.71" x2="392.76" y2="448.71" stroke="#2b2b2b" stroke-width="0.9" />
<line x1="663.94" y1="448.71" x2="661.74" y2="448.71" stroke="#2b2b2b" stroke-width="0.9" />
<line x1="390.56" y1="447.12" x2="392.76" y2="447.12" stroke="#2b2b2b" stroke-width="0.9" />
<line x1="663.94" y1="447.12" x2="661.74" y2="447.12" stroke="#2b2b2b" stroke-width="0.9" />
<line x1="390.56" y1="445.78" x2="392.76" y2="445.78" stroke="#2b2b2b" stroke-width="0.9" />
<line x1="663.94" y1="445.78" x2="661.74" y2="445.78" stroke="#2b2b2b" stroke-width="0.9" />
<line x1="390.56" y1="444.62" x2="392.76" y2="444.62" stroke="#2b2b2b" stroke-width="0.9" />
<line x1="663.94" y1="444.62" x2="661.74" y2="444.62" stroke="#2b2b2b" stroke-width="0.9" />
<line x1="390.56" y1="443.59" x2="392.76" y2="443.59" stroke="#2b2b2b" stroke-width="0.9" />
<line x1="663.94" y1="443.59" x2="661.74" y2="443.59" stroke="#2b2b2b" stroke-width="0.9" />
<line x1="390.56" y1="442.67" x2="394.56" y2="442.67" stroke="#2b2b2b" stroke-width="1.4" />
<line x1="663.94" y1="442.67" x2="659.94" y2="442.67" stroke="#2b2b2b" stroke-width="1.4" />
<line x1="390.56" y1="436.63" x2="392.76" y2="436.63" stroke="#2b2b2b" stroke-width="0.9" />
<line x1="663.94" y1="436.63" x2="661.74" y2="436.63" stroke="#2b2b2b" stroke-width="0.9" />
<line x1="390.56" y1="433.09" x2="392.76" y2="433.09" stroke="#2b2b2b" stroke-width="0.9" />
<line x1="663.94" y1="433.09" x2="661.74" y2="433.09" stroke="#2b2b2b" stroke-width="0.9" />
<line x1="390.56" y1="430.58" x2="392.76" y2="430.58" stroke="#2b2b2b" stroke-width="0.9" />
<line x1="663.94" y1="430.58" x2="661.74" y2="430.58" stroke="#2b2b2b" stroke-width="0.9" />
<line x1="390.56" y1="428.63" x2="392.76" y2="428.63" stroke="#2b2b2b" stroke-width="0.9" />
<line x1="663.94" y1="428.63" x2="661.74" y2="428.63" stroke="#2b2b2b" stroke-width="0.9" />
<line x1="390.56" y1="427.04" x2="392.76" y2="427.04" stroke="#2b2b2b" stroke-width="0.9" />
<line x1="663.94" y1="427.04" x2="661.74" y2="427.04" stroke="#2b2b2b" stroke-width="0.9" />
<line x1="390.56" y1="425.70" x2="392.76" y2="425.70" stroke="#2b2b2b" stroke-width="0.9" />
<line x1="663.94" y1="425.70" x2="661.74" y2="425.70" stroke="#2b2b2b" stroke-width="0.9" />
<line x1="390.56" y1="424.54" x2="392.76" y2="424.54" stroke="#2b2b2b" stroke-width="0.9" />
<line x1="663.94" y1="424.54" x2="661.74" y2="424.54" stroke="#2b2b2b" stroke-width="0.9" />
<line x1="390.56" y1="423.51" x2="392.76" y2="423.51" stroke="#2b2b2b" stroke-width="0.9" />
<line x1="663.94" y1="423.51" x2="661.74" y2="423.51" stroke="#2b2b2b" stroke-width="0.9" />
<line x1="390.56" y1="422.59" x2="394.56" y2="422.59" stroke="#2b2b2b" stroke-width="1.4" />
<line x1="663.94" y1="422.59" x2="659.94" y2="422.59" stroke="#2b2b2b" stroke-width="1.4" />
<line x1="390.56" y1="416.55" x2="392.76" y2="416.55" stroke="#2b2b2b" stroke-width="0.9" />
<line x1="663.94" y1="416.55" x2="661.74" y2="416.55" stroke="#2b2b2b" stroke-width="0.9" />
<line x1="390.56" y1="413.01" x2="392.76" y2="413.01" stroke="#2b2b2b" stroke-width="0.9" />
<line x1="663.94" y1="413.01" x2="661.74" y2="413.01" stroke="#2b2b2b" stroke-width="0.9" />
<line x1="390.56" y1="410.50" x2="392.76" y2="410.50" stroke="#2b2b2b" stroke-width="0.9" />
<line x1="663.94" y1="410.50" x2="661.74" y2="410.50" stroke="#2b2b2b" stroke-width="0.9" />
<line x1="390.56" y1="408.55" x2="392.76" y2="408.55" stroke="#2b2b2b" stroke-width="0.9" />
<line x1="663.94" y1="408.55" x2="661.74" y2="408.55" stroke="#2b2b2b" stroke-width="0.9" />
<line x1="390.56" y1="406.96" x2="392.76" y2="406.96" stroke="#2b2b2b" stroke-width="0.9" />
<line x1="663.94" y1="406.96" x2="661.74" y2="406.96" stroke="#2b2b2b" stroke-width="0.9" />
<line x1="390.56" y1="405.62" x2="392.76" y2="405.62" stroke="#2b2b2b" stroke-width="0.9" />
<line x1="663.94" y1="405.62" x2="661.74" y2="405.62" stroke="#2b2b2b" stroke-width="0.9" />
<line x1="390.56" y1="404.46" x2="392.76" y2="404.46" stroke="#2b2b2b" stroke-width="0.9" />
<line x1="663.94" y1="404.46" x2="661.74" y2="404.46" stroke="#2b2b2b" stroke-width="0.9" />
<line x1="390.56" y1="403.43" x2="392.76" y2="403.43" stroke="#2b2b2b" stroke-width="0.9" />
<line x1="663.94" y1="403.43" x2="661.74" y2="403.43" stroke="#2b2b2b" stroke-width="0.9" />
<line x1="390.56" y1="402.51" x2="394.56" y2="402.51" stroke="#2b2b2b" stroke-width="1.4" />
<line x1="663.94" y1="402.51" x2="659.94" y2="402.51" stroke="#2b2b2b" stroke-width="1.4" />
<line x1="390.56" y1="396.47" x2="392.76" y2="396.47" stroke="#2b2b2b" stroke-width="0.9" />
<line x1="663.94" y1="396.47" x2="661.74" y2="396.47" stroke="#2b2b2b" stroke-width="0.9" />
<line x1="390.56" y1="392.93" x2="392.76" y2="392.93" stroke="#2b2b2b" stroke-width="0.9" />
<line x1="663.94" y1="392.93" x2="661.74" y2="392.93" stroke="#2b2b2b" stroke-width="0.9" />
<line x1="390.56" y1="390.42" x2="392.76" y2="390.42" stroke="#2b2b2b" stroke-width="0.9" />
<line x1="663.94" y1="390.42" x2="661.74" y2="390.42" stroke="#2b2b2b" stroke-width="0.9" />
<line x1="390.56" y1="388.47" x2="392.76" y2="388.47" stroke="#2b2b2b" stroke-width="0.9" />
<line x1="663.94" y1="388.47" x2="661.74" y2="388.47" stroke="#2b2b2b" stroke-width="0.9" />
<line x1="390.56" y1="386.88" x2="392.76" y2="386.88" stroke="#2b2b2b" stroke-width="0.9" />
<line x1="663.94" y1="386.88" x2="661.74" y2="386.88" stroke="#2b2b2b" stroke-width="0.9" />
<line x1="390.56" y1="385.54" x2="392.76" y2="385.54" stroke="#2b2b2b" stroke-width="0.9" />
<line x1="663.94" y1="385.54" x2="661.74" y2="385.54" stroke="#2b2b2b" stroke-width="0.9" />
<line x1="390.56" y1="384.38" x2="392.76" y2="384.38" stroke="#2b2b2b" stroke-width="0.9" />
<line x1="663.94" y1="384.38" x2="661.74" y2="384.38" stroke="#2b2b2b" stroke-width="0.9" />
<line x1="390.56" y1="383.35" x2="392.76" y2="383.35" stroke="#2b2b2b" stroke-width="0.9" />
<line x1="663.94" y1="383.35" x2="661.74" y2="383.35" stroke="#2b2b2b" stroke-width="0.9" />
<line x1="390.56" y1="382.43" x2="394.56" y2="382.43" stroke="#2b2b2b" stroke-width="1.4" />
<line x1="663.94" y1="382.43" x2="659.94" y2="382.43" stroke="#2b2b2b" stroke-width="1.4" />
<line x1="390.56" y1="376.39" x2="392.76" y2="376.39" stroke="#2b2b2b" stroke-width="0.9" />
<line x1="663.94" y1="376.39" x2="661.74" y2="376.39" stroke="#2b2b2b" stroke-width="0.9" />
<line x1="390.56" y1="372.85" x2="392.76" y2="372.85" stroke="#2b2b2b" stroke-width="0.9" />
<line x1="663.94" y1="372.85" x2="661.74" y2="372.85" stroke="#2b2b2b" stroke-width="0.9" />
<line x1="390.56" y1="370.34" x2="392.76" y2="370.34" stroke="#2b2b2b" stroke-width="0.9" />
<line x1="663.94" y1="370.34" x2="661.74" y2="370.34" stroke="#2b2b2b" stroke-width="0.9" />
<line x1="390.56" y1="368.39" x2="392.76" y2="368.39" stroke="#2b2b2b" stroke-width="0.9" />
<line x1="663.94" y1="368.39" x2="661.74" y2="368.39" stroke="#2b2b2b" stroke-width="0.9" />
<line x1="390.56" y1="366.80" x2="392.76" y2="366.80" stroke="#2b2b2b" stroke-width="0.9" />
<line x1="663.94" y1="366.80" x2="661.74" y2="366.80" stroke="#2b2b2b" stroke-width="0.9" />
<line x1="390.56" y1="365.46" x2="392.76" y2="365.46" stroke="#2b2b2b" stroke-width="0.9" />
<line x1="663.94" y1="365.46" x2="661.74" y2="365.46" stroke="#2b2b2b" stroke-width="0.9" />
<line x1="390.56" y1="364.30" x2="392.76" y2="364.30" stroke="#2b2b2b" stroke-width="0.9" />
<line x1="663.94" y1="364.30" x2="661.74" y2="364.30" stroke="#2b2b2b" stroke-width="0.9" />
<line x1="390.56" y1="363.27" x2="392.76" y2="363.27" stroke="#2b2b2b" stroke-width="0.9" />
<line x1="663.94" y1="363.27" x2="661.74" y2="363.27" stroke="#2b2b2b" stroke-width="0.9" />
<line x1="390.56" y1="362.35" x2="394.56" y2="362.35" stroke="#2b2b2b" stroke-width="1.4" />
<line x1="663.94" y1="362.35" x2="659.94" y2="362.35" stroke="#2b2b2b" stroke-width="1.4" />
<line x1="390.56" y1="356.31" x2="392.76" y2="356.31" stroke="#2b2b2b" stroke-width="0.9" />
<line x1="663.94" y1="356.31" x2="661.74" y2="356.31" stroke="#2b2b2b" stroke-width="0.9" />
<line x1="390.56" y1="352.77" x2="392.76" y2="352.77" stroke="#2b2b2b" stroke-width="0.9" />
<line x1="663.94" y1="352.77" x2="661.74" y2="352.77" stroke="#2b2b2b" stroke-width="0.9" />
<line x1="390.56" y1="350.26" x2="392.76" y2="350.26" stroke="#2b2b2b" stroke-width="0.9" />
<line x1="663.94" y1="350.26" x2="661.74" y2="350.26" stroke="#2b2b2b" stroke-width="0.9" />
<line x1="390.56" y1="348.31" x2="392.76" y2="348.31" stroke="#2b2b2b" stroke-width="0.9" />
<line x1="663.94" y1="348.31" x2="661.74" y2="348.31" stroke="#2b2b2b" stroke-width="0.9" />
<line x1="390.56" y1="346.72" x2="392.76" y2="346.72" stroke="#2b2b2b" stroke-width="0.9" />
<line x1="663.94" y1="346.72" x2="661.74" y2="346.72" stroke="#2b2b2b" stroke-width="0.9" />
<line x1="390.56" y1="345.38" x2="392.76" y2="345.38" stroke="#2b2b2b" stroke-width="0.9" />
<line x1="663.94" y1="345.38" x2="661.74" y2="345.38" stroke="#2b2b2b" stroke-width="0.9" />
<line x1="390.56" y1="344.22" x2="392.76" y2="344.22" stroke="#2b2b2b" stroke-width="0.9" />
<line x1="663.94" y1="344.22" x2="661.74" y2="344.22" stroke="#2b2b2b" stroke-width="0.9" />
<line x1="390.56" y1="343.19" x2="392.76" y2="343.19" stroke="#2b2b2b" stroke-width="0.9" />
<line x1="663.94" y1="343.19" x2="661.74" y2="343.19" stroke="#2b2b2b" stroke-width="0.9" />
<line x1="390.56" y1="342.27" x2="394.56" y2="342.27" stroke="#2b2b2b" stroke-width="1.4" />
<line x1="663.94" y1="342.27" x2="659.94" y2="342.27" stroke="#2b2b2b" stroke-width="1.4" />
<line x1="390.56" y1="336.23" x2="392.76" y2="336.23" stroke="#2b2b2b" stroke-width="0.9" />
<line x1="663.94" y1="336.23" x2="661.74" y2="336.23" stroke="#2b2b2b" stroke-width="0.9" />
<line x1="390.56" y1="332.69" x2="392.76" y2="332.69" stroke="#2b2b2b" stroke-width="0.9" />
<line x1="663.94" y1="332.69" x2="661.74" y2="332.69" stroke="#2b2b2b" stroke-width="0.9" />
<line x1="390.56" y1="330.18" x2="392.76" y2="330.18" stroke="#2b2b2b" stroke-width="0.9" />
<line x1="663.94" y1="330.18" x2="661.74" y2="330.18" stroke="#2b2b2b" stroke-width="0.9" />
<line x1="390.56" y1="328.23" x2="392.76" y2="328.23" stroke="#2b2b2b" stroke-width="0.9" />
<line x1="663.94" y1="328.23" x2="661.74" y2="328.23" stroke="#2b2b2b" stroke-width="0.9" />
<line x1="390.56" y1="326.64" x2="392.76" y2="326.64" stroke="#2b2b2b" stroke-width="0.9" />
<line x1="663.94" y1="326.64" x2="661.74" y2="326.64" stroke="#2b2b2b" stroke-width="0.9" />
<line x1="390.56" y1="325.30" x2="392.76" y2="325.30" stroke="#2b2b2b" stroke-width="0.9" />
<line x1="663.94" y1="325.30" x2="661.74" y2="325.30" stroke="#2b2b2b" stroke-width="0.9" />
<line x1="390.56" y1="324.14" x2="392.76" y2="324.14" stroke="#2b2b2b" stroke-width="0.9" />
<line x1="663.94" y1="324.14" x2="661.74" y2="324.14" stroke="#2b2b2b" stroke-width="0.9" />
<line x1="390.56" y1="323.11" x2="392.76" y2="323.11" stroke="#2b2b2b" stroke-width="0.9" />
<line x1="663.94" y1="323.11" x2="661.74" y2="323.11" stroke="#2b2b2b" stroke-width="0.9" />
<line x1="390.56" y1="322.19" x2="394.56" y2="322.19" stroke="#2b2b2b" stroke-width="1.4" />
<line x1="663.94" y1="322.19" x2="659.94" y2="322.19" stroke="#2b2b2b" stroke-width="1.4" />
<line x1="390.56" y1="316.15" x2="392.76" y2="316.15" stroke="#2b2b2b" stroke-width="0.9" />
<line x1="663.94" y1="316.15" x2="661.74" y2="316.15" stroke="#2b2b2b" stroke-width="0.9" />
<line x1="390.56" y1="312.61" x2="392.76" y2="312.61" stroke="#2b2b2b" stroke-width="0.9" />
<line x1="663.94" y1="312.61" x2="661.74" y2="312.61" stroke="#2b2b2b" stroke-width="0.9" />
<line x1="390.56" y1="310.10" x2="392.76" y2="310.10" stroke="#2b2b2b" stroke-width="0.9" />
<line x1="663.94" y1="310.10" x2="661.74" y2="310.10" stroke="#2b2b2b" stroke-width="0.9" />
<line x1="390.56" y1="308.15" x2="392.76" y2="308.15" stroke="#2b2b2b" stroke-width="0.9" />
<line x1="663.94" y1="308.15" x2="661.74" y2="308.15" stroke="#2b2b2b" stroke-width="0.9" />
<line x1="390.56" y1="306.56" x2="392.76" y2="306.56" stroke="#2b2b2b" stroke-width="0.9" />
<line x1="663.94" y1="306.56" x2="661.74" y2="306.56" stroke="#2b2b2b" stroke-width="0.9" />
<line x1="390.56" y1="305.22" x2="392.76" y2="305.22" stroke="#2b2b2b" stroke-width="0.9" />
<line x1="663.94" y1="305.22" x2="661.74" y2="305.22" stroke="#2b2b2b" stroke-width="0.9" />
<line x1="390.56" y1="304.06" x2="392.76" y2="304.06" stroke="#2b2b2b" stroke-width="0.9" />
<line x1="663.94" y1="304.06" x2="661.74" y2="304.06" stroke="#2b2b2b" stroke-width="0.9" />
<line x1="390.56" y1="303.03" x2="392.76" y2="303.03" stroke="#2b2b2b" stroke-width="0.9" />
<line x1="663.94" y1="303.03" x2="661.74" y2="303.03" stroke="#2b2b2b" stroke-width="0.9" />
<line x1="390.56" y1="302.11" x2="394.56" y2="302.11" stroke="#2b2b2b" stroke-width="1.4" />
<line x1="663.94" y1="302.11" x2="659.94" y2="302.11" stroke="#2b2b2b" stroke-width="1.4" />
<line x1="390.56" y1="296.07" x2="392.76" y2="296.07" stroke="#2b2b2b" stroke-width="0.9" />
<line x1="663.94" y1="296.07" x2="661.74" y2="296.07" stroke="#2b2b2b" stroke-width="0.9" />
<line x1="390.56" y1="292.53" x2="392.76" y2="292.53" stroke="#2b2b2b" stroke-width="0.9" />
<line x1="663.94" y1="292.53" x2="661.74" y2="292.53" stroke="#2b2b2b" stroke-width="0.9" />
<line x1="390.56" y1="290.02" x2="392.76" y2="290.02" stroke="#2b2b2b" stroke-width="0.9" />
<line x1="663.94" y1="290.02" x2="661.74" y2="290.02" stroke="#2b2b2b" stroke-width="0.9" />
<line x1="390.56" y1="288.07" x2="392.76" y2="288.07" stroke="#2b2b2b" stroke-width="0.9" />
<line x1="663.94" y1="288.07" x2="661.74" y2="288.07" stroke="#2b2b2b" stroke-width="0.9" />
<line x1="390.56" y1="286.48" x2="392.76" y2="286.48" stroke="#2b2b2b" stroke-width="0.9" />
<line x1="663.94" y1="286.48" x2="661.74" y2="286.48" stroke="#2b2b2b" stroke-width="0.9" />
<line x1="390.56" y1="285.14" x2="392.76" y2="285.14" stroke="#2b2b2b" stroke-width="0.9" />
<line x1="663.94" y1="285.14" x2="661.74" y2="285.14" stroke="#2b2b2b" stroke-width="0.9" />
<line x1="390.56" y1="283.98" x2="392.76" y2="283.98" stroke="#2b2b2b" stroke-width="0.9" />
<line x1="663.94" y1="283.98" x2="661.74" y2="283.98" stroke="#2b2b2b" stroke-width="0.9" />
<line x1="390.56" y1="282.95" x2="392.76" y2="282.95" stroke="#2b2b2b" stroke-width="0.9" />
<line x1="663.94" y1="282.95" x2="661.74" y2="282.95" stroke="#2b2b2b" stroke-width="0.9" />
<line x1="390.56" y1="282.03" x2="394.56" y2="282.03" stroke="#2b2b2b" stroke-width="1.4" />
<line x1="663.94" y1="282.03" x2="659.94" y2="282.03" stroke="#2b2b2b" stroke-width="1.4" />
<line x1="390.56" y1="275.99" x2="392.76" y2="275.99" stroke="#2b2b2b" stroke-width="0.9" />
<line x1="663.94" y1="275.99" x2="661.74" y2="275.99" stroke="#2b2b2b" stroke-width="0.9" />
<line x1="390.56" y1="272.45" x2="392.76" y2="272.45" stroke="#2b2b2b" stroke-width="0.9" />
<line x1="663.94" y1="272.45" x2="661.74" y2="272.45" stroke="#2b2b2b" stroke-width="0.9" />
<line x1="390.56" y1="269.94" x2="392.76" y2="269.94" stroke="#2b2b2b" stroke-width="0.9" />
<line x1="663.94" y1="269.94" x2="661.74" y2="269.94" stroke="#2b2b2b" stroke-width="0.9" />
<line x1="390.56" y1="267.99" x2="392.76" y2="267.99" stroke="#2b2b2b" stroke-width="0.9" />
<line x1="663.94" y1="267.99" x2="661.74" y2="267.99" stroke="#2b2b2b" stroke-width="0.9" />
<line x1="390.56" y1="266.40" x2="392.76" y2="266.40" stroke="#2b2b2b" stroke-width="0.9" />
<line x1="663.94" y1="266.40" x2="661.74" y2="266.40" stroke="#2b2b2b" stroke-width="0.9" />
<line x1="390.56" y1="265.06" x2="392.76" y2="265.06" stroke="#2b2b2b" stroke-width="0.9" />
<line x1="663.94" y1="265.06" x2="661.74" y2="265.06" stroke="#2b2b2b" stroke-width="0.9" />
<line x1="390.56" y1="263.90" x2="392.76" y2="263.90" stroke="#2b2b2b" stroke-width="0.9" />
<line x1="663.94" y1="263.90" x2="661.74" y2="263.90" stroke="#2b2b2b" stroke-width="0.9" />
<line x1="390.56" y1="262.87" x2="392.76" y2="262.87" stroke="#2b2b2b" stroke-width="0.9" />
<line x1="663.94" y1="262.87" x2="661.74" y2="262.87" stroke="#2b2b2b" stroke-width="0.9" />
<line x1="390.56" y1="261.95" x2="394.56" y2="261.95" stroke="#2b2b2b" stroke-width="1.4" />
<line x1="663.94" y1="261.95" x2="659.94" y2="261.95" stroke="#2b2b2b" stroke-width="1.4" />
<line x1="390.56" y1="462.75" x2="390.56" y2="458.75" stroke="#2b2b2b" stroke-width="1.3" />
<line x1="390.56" y1="261.95" x2="390.56" y2="265.95" stroke="#2b2b2b" stroke-width="1.3" />
<line x1="436.12" y1="462.75" x2="436.12" y2="458.75" stroke="#2b2b2b" stroke-width="1.3" />
<line x1="436.12" y1="261.95" x2="436.12" y2="265.95" stroke="#2b2b2b" stroke-width="1.3" />
<line x1="481.69" y1="462.75" x2="481.69" y2="458.75" stroke="#2b2b2b" stroke-width="1.3" />
<line x1="481.69" y1="261.95" x2="481.69" y2="265.95" stroke="#2b2b2b" stroke-width="1.3" />
<line x1="527.25" y1="462.75" x2="527.25" y2="458.75" stroke="#2b2b2b" stroke-width="1.3" />
<line x1="527.25" y1="261.95" x2="527.25" y2="265.95" stroke="#2b2b2b" stroke-width="1.3" />
<line x1="572.81" y1="462.75" x2="572.81" y2="458.75" stroke="#2b2b2b" stroke-width="1.3" />
<line x1="572.81" y1="261.95" x2="572.81" y2="265.95" stroke="#2b2b2b" stroke-width="1.3" />
<line x1="618.38" y1="462.75" x2="618.38" y2="458.75" stroke="#2b2b2b" stroke-width="1.3" />
<line x1="618.38" y1="261.95" x2="618.38" y2="265.95" stroke="#2b2b2b" stroke-width="1.3" />
<line x1="663.94" y1="462.75" x2="663.94" y2="458.75" stroke="#2b2b2b" stroke-width="1.3" />
<line x1="663.94" y1="261.95" x2="663.94" y2="265.95" stroke="#2b2b2b" stroke-width="1.3" />
<line x1="413.34" y1="462.75" x2="413.34" y2="460.55" stroke="#2b2b2b" stroke-width="0.9" />
<line x1="413.34" y1="261.95" x2="413.34" y2="264.15" stroke="#2b2b2b" stroke-width="0.9" />
<line x1="458.91" y1="462.75" x2="458.91" y2="460.55" stroke="#2b2b2b" stroke-width="0.9" />
<line x1="458.91" y1="261.95" x2="458.91" y2="264.15" stroke="#2b2b2b" stroke-width="0.9" />
<line x1="504.47" y1="462.75" x2="504.47" y2="460.55" stroke="#2b2b2b" stroke-width="0.9" />
<line x1="504.47" y1="261.95" x2="504.47" y2="264.15" stroke="#2b2b2b" stroke-width="0.9" />
<line x1="550.03" y1="462.75" x2="550.03" y2="460.55" stroke="#2b2b2b" stroke-width="0.9" />
<line x1="550.03" y1="261.95" x2="550.03" y2="264.15" stroke="#2b2b2b" stroke-width="0.9" />
<line x1="595.60" y1="462.75" x2="595.60" y2="460.55" stroke="#2b2b2b" stroke-width="0.9" />
<line x1="595.60" y1="261.95" x2="595.60" y2="264.15" stroke="#2b2b2b" stroke-width="0.9" />
<line x1="641.16" y1="462.75" x2="641.16" y2="460.55" stroke="#2b2b2b" stroke-width="0.9" />
<line x1="641.16" y1="261.95" x2="641.16" y2="264.15" stroke="#2b2b2b" stroke-width="0.9" />
<text x="386.70" y="266.55" font-size="12" text-anchor="end" fill="#080808" font-family='"Liberation Sans", sans-serif'>10<tspan font-size="8.5" dx="0.3" dy="-4.7">-3</tspan></text>
<text x="386.70" y="306.71" font-size="12" text-anchor="end" fill="#080808" font-family='"Liberation Sans", sans-serif'>10<tspan font-size="8.5" dx="0.3" dy="-4.7">-5</tspan></text>
<text x="386.70" y="346.87" font-size="12" text-anchor="end" fill="#080808" font-family='"Liberation Sans", sans-serif'>10<tspan font-size="8.5" dx="0.3" dy="-4.7">-7</tspan></text>
<text x="386.70" y="387.03" font-size="12" text-anchor="end" fill="#080808" font-family='"Liberation Sans", sans-serif'>10<tspan font-size="8.5" dx="0.3" dy="-4.7">-9</tspan></text>
<text x="386.70" y="427.19" font-size="12" text-anchor="end" fill="#080808" font-family='"Liberation Sans", sans-serif'>10<tspan font-size="8.5" dx="0.3" dy="-4.7">-11</tspan></text>
<text x="386.70" y="467.35" font-size="12" text-anchor="end" fill="#080808" font-family='"Liberation Sans", sans-serif'>10<tspan font-size="8.5" dx="0.3" dy="-4.7">-13</tspan></text>
<text x="390.56" y="477.60" font-size="12" text-anchor="middle" fill="#080808" font-weight="normal" font-family='"Liberation Sans", sans-serif' >-3</text>
<text x="436.12" y="477.60" font-size="12" text-anchor="middle" fill="#080808" font-weight="normal" font-family='"Liberation Sans", sans-serif' >-2</text>
<text x="481.69" y="477.60" font-size="12" text-anchor="middle" fill="#080808" font-weight="normal" font-family='"Liberation Sans", sans-serif' >-1</text>
<text x="527.25" y="477.60" font-size="12" text-anchor="middle" fill="#080808" font-weight="normal" font-family='"Liberation Sans", sans-serif' >0</text>
<text x="572.81" y="477.60" font-size="12" text-anchor="middle" fill="#080808" font-weight="normal" font-family='"Liberation Sans", sans-serif' >1</text>
<text x="618.38" y="477.60" font-size="12" text-anchor="middle" fill="#080808" font-weight="normal" font-family='"Liberation Sans", sans-serif' >2</text>
<text x="663.94" y="477.60" font-size="12" text-anchor="middle" fill="#080808" font-weight="normal" font-family='"Liberation Sans", sans-serif' >3</text>
<text x="527.5" y="498" font-size="14" text-anchor="middle" fill="#080808" font-family='"Liberation Sans", sans-serif'>Applied bias, V<tspan font-size="10" dy="3">a</tspan><tspan dy="-3"> [V]</tspan></text>
<text transform="translate(357.2,359.1) rotate(-90)" font-size="14" text-anchor="middle" fill="#080808" font-family='"Liberation Sans", sans-serif'>Cell current, I<tspan font-size="10" dy="3">c</tspan><tspan dy="-3">[A]</tspan></text>
<text transform="translate(343.0,264.2) scale(1.0,1.08)" x="0" y="0" font-size="15.2" font-weight="bold" letter-spacing="0.8" fill="#111" font-family='"Liberation Serif", serif'>(d)</text>
</svg>
</body></html>
